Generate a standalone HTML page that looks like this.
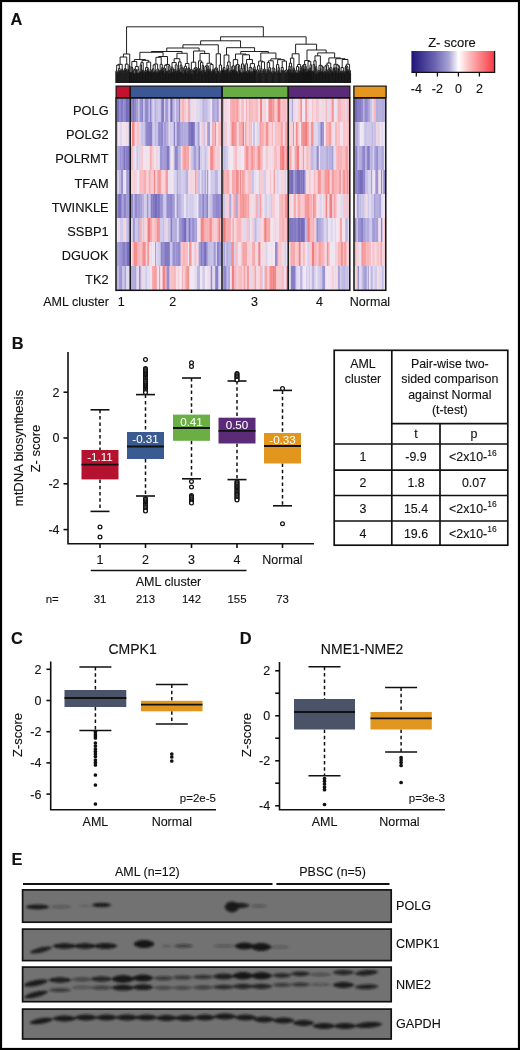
<!DOCTYPE html>
<html><head><meta charset="utf-8"><style>
html,body{margin:0;padding:0;background:#fff;}
svg{display:block;will-change:transform;filter:blur(0.35px);}
text{font-family:"Liberation Sans",sans-serif;stroke:#111;stroke-width:0.12px;}
</style></head><body>
<svg width="520" height="1050" viewBox="0 0 520 1050">
<rect x="0" y="0" width="520" height="1050" fill="#fff"/><g fill="#111">
<path d="M115.85 83.00L115.85 71.50M116.34 83.00L116.34 71.50M115.85 71.50L116.34 71.50M116.10 71.50L116.10 70.63M116.84 83.00L116.84 72.47M117.34 83.00L117.34 73.27M117.83 83.00L117.83 73.27M117.34 73.27L117.83 73.27M117.59 73.27L117.59 72.47M116.84 72.47L117.59 72.47M117.21 72.47L117.21 70.63M116.10 70.63L117.21 70.63M116.65 70.63L116.65 65.13M118.33 83.00L118.33 71.65M118.83 83.00L118.83 71.65M118.33 71.65L118.83 71.65M118.58 71.65L118.58 68.44M119.32 83.00L119.32 71.35M119.82 83.00L119.82 71.35M119.32 71.35L119.82 71.35M119.57 71.35L119.57 70.55M120.31 83.00L120.31 71.35M120.81 83.00L120.81 71.35M120.31 71.35L120.81 71.35M120.56 71.35L120.56 70.55M119.57 70.55L120.56 70.55M120.07 70.55L120.07 68.44M118.58 68.44L120.07 68.44M119.32 68.44L119.32 65.13M116.65 65.13L119.32 65.13M117.99 65.13L117.99 64.33M121.31 83.00L121.31 70.16M121.80 83.00L121.80 70.16M121.31 70.16L121.80 70.16M121.56 70.16L121.56 69.32M122.30 83.00L122.30 70.52M122.80 83.00L122.80 72.40M123.29 83.00L123.29 72.40M122.80 72.40L123.29 72.40M123.04 72.40L123.04 71.32M123.79 83.00L123.79 71.32M123.04 71.32L123.79 71.32M123.42 71.32L123.42 70.52M122.30 70.52L123.42 70.52M122.86 70.52L122.86 69.32M121.56 69.32L122.86 69.32M122.21 69.32L122.21 64.33M117.99 64.33L122.21 64.33M120.10 64.33L120.10 57.00M124.29 83.00L124.29 72.74M124.78 83.00L124.78 72.74M124.29 72.74L124.78 72.74M124.53 72.74L124.53 68.73M125.28 83.00L125.28 70.84M125.77 83.00L125.77 70.84M125.28 70.84L125.77 70.84M125.53 70.84L125.53 69.53M126.27 83.00L126.27 70.63M126.77 83.00L126.77 71.43M127.26 83.00L127.26 71.43M126.77 71.43L127.26 71.43M127.01 71.43L127.01 70.63M126.27 70.63L127.01 70.63M126.64 70.63L126.64 69.53M125.53 69.53L126.64 69.53M126.08 69.53L126.08 68.73M124.53 68.73L126.08 68.73M125.31 68.73L125.31 64.16M127.76 83.00L127.76 69.16M128.26 83.00L128.26 73.22M128.75 83.00L128.75 73.22M128.26 73.22L128.75 73.22M128.50 73.22L128.50 69.16M127.76 69.16L128.50 69.16M128.13 69.16L128.13 64.16M125.31 64.16L128.13 64.16M126.72 64.16L126.72 57.00M120.10 57.00L126.72 57.00M129.18 83.00L129.18 72.26M129.53 83.00L129.53 72.26M129.18 72.26L129.53 72.26M129.35 72.26L129.35 66.00M129.88 83.00L129.88 72.50M130.22 83.00L130.22 72.50M129.88 72.50L130.22 72.50M130.05 72.50L130.05 66.00M129.35 66.00L130.05 66.00M123.41 57.00L123.41 54.00M129.70 66.00L129.70 54.00M123.41 54.00L129.70 54.00M130.61 83.00L130.61 72.84M131.04 83.00L131.04 72.84M130.61 72.84L131.04 72.84M130.83 72.84L130.83 72.04M131.46 83.00L131.46 72.04M130.83 72.04L131.46 72.04M131.15 72.04L131.15 67.25M131.89 83.00L131.89 73.17M132.32 83.00L132.32 73.17M131.89 73.17L132.32 73.17M132.10 73.17L132.10 68.05M132.74 83.00L132.74 70.28M133.17 83.00L133.17 70.28M132.74 70.28L133.17 70.28M132.95 70.28L132.95 68.05M132.10 68.05L132.95 68.05M132.53 68.05L132.53 67.25M131.15 67.25L132.53 67.25M131.84 67.25L131.84 61.52M133.59 83.00L133.59 72.95M134.02 83.00L134.02 73.75M134.44 83.00L134.44 73.75M134.02 73.75L134.44 73.75M134.23 73.75L134.23 72.95M133.59 72.95L134.23 72.95M133.91 72.95L133.91 69.81M134.87 83.00L134.87 73.78M135.30 83.00L135.30 73.78M134.87 73.78L135.30 73.78M135.08 73.78L135.08 69.81M133.91 69.81L135.08 69.81M134.50 69.81L134.50 69.01M135.72 83.00L135.72 69.81M136.15 83.00L136.15 72.38M136.57 83.00L136.57 73.18M137.00 83.00L137.00 73.18M136.57 73.18L137.00 73.18M136.79 73.18L136.79 72.38M136.15 72.38L136.79 72.38M136.47 72.38L136.47 69.81M135.72 69.81L136.47 69.81M136.09 69.81L136.09 69.01M134.50 69.01L136.09 69.01M135.30 69.01L135.30 66.56M137.42 83.00L137.42 72.89M137.85 83.00L137.85 73.69M138.28 83.00L138.28 73.69M137.85 73.69L138.28 73.69M138.06 73.69L138.06 72.89M137.42 72.89L138.06 72.89M137.74 72.89L137.74 69.55M138.70 83.00L138.70 72.93M139.13 83.00L139.13 72.93M138.70 72.93L139.13 72.93M138.91 72.93L138.91 69.55M137.74 69.55L138.91 69.55M138.33 69.55L138.33 66.56M135.30 66.56L138.33 66.56M136.81 66.56L136.81 61.52M131.84 61.52L136.81 61.52M134.32 61.52L134.32 59.52M139.55 83.00L139.55 72.43M139.98 83.00L139.98 72.43M139.55 72.43L139.98 72.43M139.77 72.43L139.77 71.63M140.40 83.00L140.40 72.43M140.83 83.00L140.83 72.43M140.40 72.43L140.83 72.43M140.62 72.43L140.62 71.63M139.77 71.63L140.62 71.63M140.19 71.63L140.19 64.88M141.26 83.00L141.26 68.94M141.68 83.00L141.68 71.12M142.11 83.00L142.11 71.12M141.68 71.12L142.11 71.12M141.89 71.12L141.89 68.94M141.26 68.94L141.89 68.94M141.58 68.94L141.58 64.88M140.19 64.88L141.58 64.88M140.88 64.88L140.88 62.67M142.53 83.00L142.53 70.97M142.96 83.00L142.96 70.97M142.53 70.97L142.96 70.97M142.75 70.97L142.75 70.17M143.38 83.00L143.38 72.59M143.81 83.00L143.81 73.39M144.24 83.00L144.24 73.39M143.81 73.39L144.24 73.39M144.02 73.39L144.02 72.59M143.38 72.59L144.02 72.59M143.70 72.59L143.70 70.17M142.75 70.17L143.70 70.17M143.22 70.17L143.22 62.67M140.88 62.67L143.22 62.67M142.05 62.67L142.05 60.32M144.66 83.00L144.66 71.28M145.09 83.00L145.09 72.08M145.51 83.00L145.51 72.08M145.09 72.08L145.51 72.08M145.30 72.08L145.30 71.28M144.66 71.28L145.30 71.28M144.98 71.28L144.98 70.48M145.94 83.00L145.94 72.14M146.36 83.00L146.36 72.14M145.94 72.14L146.36 72.14M146.15 72.14L146.15 70.48M144.98 70.48L146.15 70.48M145.57 70.48L145.57 67.62M146.79 83.00L146.79 71.23M147.22 83.00L147.22 71.23M146.79 71.23L147.22 71.23M147.00 71.23L147.00 69.59M147.64 83.00L147.64 70.56M148.07 83.00L148.07 70.56M147.64 70.56L148.07 70.56M147.85 70.56L147.85 69.59M147.00 69.59L147.85 69.59M147.43 69.59L147.43 68.79M148.49 83.00L148.49 71.19M148.92 83.00L148.92 72.04M149.34 83.00L149.34 72.04M148.92 72.04L149.34 72.04M149.13 72.04L149.13 71.19M148.49 71.19L149.13 71.19M148.81 71.19L148.81 68.79M147.43 68.79L148.81 68.79M148.12 68.79L148.12 67.62M145.57 67.62L148.12 67.62M146.84 67.62L146.84 62.05M149.77 83.00L149.77 71.75M150.20 83.00L150.20 72.55M150.62 83.00L150.62 72.55M150.20 72.55L150.62 72.55M150.41 72.55L150.41 71.75M149.77 71.75L150.41 71.75M150.09 71.75L150.09 69.71M151.05 83.00L151.05 70.51M151.47 83.00L151.47 70.51M151.05 70.51L151.47 70.51M151.26 70.51L151.26 69.71M150.09 69.71L151.26 69.71M150.67 69.71L150.67 62.05M146.84 62.05L150.67 62.05M148.76 62.05L148.76 60.32M142.05 60.32L148.76 60.32M145.41 60.32L145.41 59.52M134.32 59.52L145.41 59.52M139.87 59.52L139.87 52.30M151.90 83.00L151.90 72.53M152.32 83.00L152.32 72.53M151.90 72.53L152.32 72.53M152.11 72.53L152.11 71.73M152.75 83.00L152.75 72.53M153.18 83.00L153.18 72.53M152.75 72.53L153.18 72.53M152.96 72.53L152.96 71.73M152.11 71.73L152.96 71.73M152.54 71.73L152.54 68.75M153.60 83.00L153.60 72.82M154.03 83.00L154.03 72.82M153.60 72.82L154.03 72.82M153.81 72.82L153.81 68.75M152.54 68.75L153.81 68.75M153.18 68.75L153.18 64.85M154.45 83.00L154.45 71.50M154.88 83.00L154.88 71.50M154.45 71.50L154.88 71.50M154.67 71.50L154.67 70.59M155.30 83.00L155.30 72.81M155.73 83.00L155.73 72.81M155.30 72.81L155.73 72.81M155.52 72.81L155.52 71.39M156.16 83.00L156.16 71.39M155.52 71.39L156.16 71.39M155.84 71.39L155.84 70.59M154.67 70.59L155.84 70.59M155.25 70.59L155.25 64.85M153.18 64.85L155.25 64.85M154.21 64.85L154.21 64.05M156.58 83.00L156.58 72.35M157.01 83.00L157.01 73.15M157.43 83.00L157.43 73.15M157.01 73.15L157.43 73.15M157.22 73.15L157.22 72.35M156.58 72.35L157.22 72.35M156.90 72.35L156.90 69.09M157.86 83.00L157.86 71.23M158.28 83.00L158.28 71.23M157.86 71.23L158.28 71.23M158.07 71.23L158.07 69.89M158.71 83.00L158.71 69.89M158.07 69.89L158.71 69.89M158.39 69.89L158.39 69.09M156.90 69.09L158.39 69.09M157.65 69.09L157.65 64.05M154.21 64.05L157.65 64.05M155.93 64.05L155.93 57.30M159.14 83.00L159.14 72.01M159.56 83.00L159.56 72.01M159.14 72.01L159.56 72.01M159.35 72.01L159.35 71.21M159.99 83.00L159.99 71.21M159.35 71.21L159.99 71.21M159.67 71.21L159.67 70.41M160.41 83.00L160.41 71.30M160.84 83.00L160.84 71.30M160.41 71.30L160.84 71.30M160.63 71.30L160.63 70.41M159.67 70.41L160.63 70.41M160.15 70.41L160.15 64.34M161.26 83.00L161.26 70.52M161.69 83.00L161.69 70.52M161.26 70.52L161.69 70.52M161.48 70.52L161.48 68.93M162.12 83.00L162.12 68.93M161.48 68.93L162.12 68.93M161.80 68.93L161.80 67.40M162.54 83.00L162.54 70.72M162.97 83.00L162.97 70.72M162.54 70.72L162.97 70.72M162.75 70.72L162.75 67.40M161.80 67.40L162.75 67.40M162.28 67.40L162.28 64.34M160.15 64.34L162.28 64.34M161.21 64.34L161.21 57.30M155.93 57.30L161.21 57.30M158.57 57.30L158.57 56.50M163.39 83.00L163.39 70.65M163.82 83.00L163.82 70.65M163.39 70.65L163.82 70.65M163.61 70.65L163.61 67.97M164.24 83.00L164.24 73.66M164.67 83.00L164.67 73.66M164.24 73.66L164.67 73.66M164.46 73.66L164.46 72.86M165.10 83.00L165.10 72.86M164.46 72.86L165.10 72.86M164.78 72.86L164.78 68.77M165.52 83.00L165.52 68.77M164.78 68.77L165.52 68.77M165.15 68.77L165.15 67.97M163.61 67.97L165.15 67.97M164.38 67.97L164.38 65.26M165.95 83.00L165.95 72.67M166.37 83.00L166.37 72.67M165.95 72.67L166.37 72.67M166.16 72.67L166.16 71.87M166.80 83.00L166.80 71.87M166.16 71.87L166.80 71.87M166.48 71.87L166.48 71.07M167.22 83.00L167.22 72.09M167.65 83.00L167.65 72.09M167.22 72.09L167.65 72.09M167.44 72.09L167.44 71.07M166.48 71.07L167.44 71.07M166.96 71.07L166.96 65.26M164.38 65.26L166.96 65.26M165.67 65.26L165.67 64.46M168.08 83.00L168.08 73.51M168.50 83.00L168.50 73.51M168.08 73.51L168.50 73.51M168.29 73.51L168.29 69.86M168.93 83.00L168.93 70.79M169.35 83.00L169.35 70.79M168.93 70.79L169.35 70.79M169.14 70.79L169.14 69.86M168.29 69.86L169.14 69.86M168.71 69.86L168.71 65.66M169.78 83.00L169.78 74.00M170.20 83.00L170.20 74.00M169.78 74.00L170.20 74.00M169.99 74.00L169.99 65.66M168.71 65.66L169.99 65.66M169.35 65.66L169.35 64.46M165.67 64.46L169.35 64.46M167.51 64.46L167.51 56.50M158.57 56.50L167.51 56.50M163.04 56.50L163.04 52.30M139.87 52.30L163.04 52.30M151.45 52.30L151.45 51.50M170.63 83.00L170.63 72.81M171.06 83.00L171.06 72.81M170.63 72.81L171.06 72.81M170.84 72.81L170.84 68.92M171.48 83.00L171.48 68.92M170.84 68.92L171.48 68.92M171.16 68.92L171.16 67.23M171.91 83.00L171.91 72.25M172.33 83.00L172.33 73.05M172.76 83.00L172.76 73.05M172.33 73.05L172.76 73.05M172.55 73.05L172.55 72.25M171.91 72.25L172.55 72.25M172.23 72.25L172.23 68.74M173.18 83.00L173.18 71.28M173.61 83.00L173.61 72.08M174.04 83.00L174.04 72.08M173.61 72.08L174.04 72.08M173.82 72.08L173.82 71.28M173.18 71.28L173.82 71.28M173.50 71.28L173.50 68.74M172.23 68.74L173.50 68.74M172.87 68.74L172.87 67.23M171.16 67.23L172.87 67.23M172.01 67.23L172.01 62.57M174.46 83.00L174.46 71.34M174.89 83.00L174.89 71.34M174.46 71.34L174.89 71.34M174.67 71.34L174.67 69.26M175.31 83.00L175.31 73.69M175.74 83.00L175.74 73.69M175.31 73.69L175.74 73.69M175.53 73.69L175.53 70.50M176.16 83.00L176.16 70.50M175.53 70.50L176.16 70.50M175.84 70.50L175.84 69.26M174.67 69.26L175.84 69.26M175.26 69.26L175.26 64.88M176.59 83.00L176.59 72.56M177.02 83.00L177.02 72.56M176.59 72.56L177.02 72.56M176.80 72.56L176.80 70.87M177.44 83.00L177.44 70.87M176.80 70.87L177.44 70.87M177.12 70.87L177.12 64.88M175.26 64.88L177.12 64.88M176.19 64.88L176.19 62.57M172.01 62.57L176.19 62.57M174.10 62.57L174.10 58.68M177.87 83.00L177.87 72.81M178.29 83.00L178.29 72.81M177.87 72.81L178.29 72.81M178.08 72.81L178.08 68.46M178.72 83.00L178.72 69.26M179.14 83.00L179.14 70.83M179.57 83.00L179.57 70.83M179.14 70.83L179.57 70.83M179.36 70.83L179.36 69.26M178.72 69.26L179.36 69.26M179.04 69.26L179.04 68.46M178.08 68.46L179.04 68.46M178.56 68.46L178.56 61.89M180.00 83.00L180.00 72.00M180.42 83.00L180.42 72.00M180.00 72.00L180.42 72.00M180.21 72.00L180.21 65.14M180.85 83.00L180.85 72.71M181.27 83.00L181.27 72.71M180.85 72.71L181.27 72.71M181.06 72.71L181.06 71.91M181.70 83.00L181.70 71.91M181.06 71.91L181.70 71.91M181.38 71.91L181.38 67.11M182.12 83.00L182.12 73.24M182.55 83.00L182.55 73.24M182.12 73.24L182.55 73.24M182.34 73.24L182.34 67.11M181.38 67.11L182.34 67.11M181.86 67.11L181.86 65.14M180.21 65.14L181.86 65.14M181.03 65.14L181.03 61.89M178.56 61.89L181.03 61.89M179.80 61.89L179.80 58.68M174.10 58.68L179.80 58.68M176.95 58.68L176.95 53.28M182.98 83.00L182.98 73.89M183.40 83.00L183.40 73.89M182.98 73.89L183.40 73.89M183.19 73.89L183.19 70.48M183.83 83.00L183.83 72.67M184.25 83.00L184.25 72.67M183.83 72.67L184.25 72.67M184.04 72.67L184.04 70.48M183.19 70.48L184.04 70.48M183.61 70.48L183.61 67.96M184.68 83.00L184.68 69.24M185.10 83.00L185.10 70.20M185.53 83.00L185.53 70.20M185.10 70.20L185.53 70.20M185.32 70.20L185.32 69.24M184.68 69.24L185.32 69.24M185.00 69.24L185.00 67.96M183.61 67.96L185.00 67.96M184.31 67.96L184.31 66.30M185.96 83.00L185.96 73.26M186.38 83.00L186.38 73.26M185.96 73.26L186.38 73.26M186.17 73.26L186.17 68.35M186.81 83.00L186.81 72.59M187.23 83.00L187.23 72.59M186.81 72.59L187.23 72.59M187.02 72.59L187.02 68.35M186.17 68.35L187.02 68.35M186.59 68.35L186.59 66.30M184.31 66.30L186.59 66.30M185.45 66.30L185.45 63.49M187.66 83.00L187.66 70.95M188.08 83.00L188.08 70.95M187.66 70.95L188.08 70.95M187.87 70.95L187.87 68.66M188.51 83.00L188.51 73.99M188.94 83.00L188.94 73.99M188.51 73.99L188.94 73.99M188.72 73.99L188.72 68.66M187.87 68.66L188.72 68.66M188.30 68.66L188.30 67.86M189.36 83.00L189.36 70.48M189.79 83.00L189.79 70.48M189.36 70.48L189.79 70.48M189.57 70.48L189.57 67.86M188.30 67.86L189.57 67.86M188.94 67.86L188.94 63.49M185.45 63.49L188.94 63.49M187.19 63.49L187.19 53.28M176.95 53.28L187.19 53.28M182.07 53.28L182.07 51.50M151.45 51.50L182.07 51.50M190.22 83.00L190.22 70.25M190.65 83.00L190.65 71.05M191.09 83.00L191.09 71.05M190.65 71.05L191.09 71.05M190.87 71.05L190.87 70.25M190.22 70.25L190.87 70.25M190.55 70.25L190.55 69.45M191.53 83.00L191.53 74.03M191.96 83.00L191.96 74.03M191.53 74.03L191.96 74.03M191.75 74.03L191.75 70.25M192.40 83.00L192.40 73.67M192.84 83.00L192.84 73.67M192.40 73.67L192.84 73.67M192.62 73.67L192.62 70.25M191.75 70.25L192.62 70.25M192.18 70.25L192.18 69.45M190.55 69.45L192.18 69.45M191.36 69.45L191.36 62.20M193.27 83.00L193.27 73.77M193.71 83.00L193.71 73.77M193.27 73.77L193.71 73.77M193.49 73.77L193.49 70.28M194.15 83.00L194.15 71.08M194.58 83.00L194.58 71.08M194.15 71.08L194.58 71.08M194.36 71.08L194.36 70.28M193.49 70.28L194.36 70.28M193.93 70.28L193.93 68.43M195.02 83.00L195.02 69.23M195.45 83.00L195.45 70.62M195.89 83.00L195.89 70.62M195.45 70.62L195.89 70.62M195.67 70.62L195.67 69.23M195.02 69.23L195.67 69.23M195.35 69.23L195.35 68.43M193.93 68.43L195.35 68.43M194.64 68.43L194.64 67.63M196.33 83.00L196.33 73.89M196.76 83.00L196.76 73.89M196.33 73.89L196.76 73.89M196.55 73.89L196.55 69.06M197.20 83.00L197.20 69.06M196.55 69.06L197.20 69.06M196.87 69.06L196.87 67.63M194.64 67.63L196.87 67.63M195.75 67.63L195.75 62.20M191.36 62.20L195.75 62.20M193.56 62.20L193.56 51.00M197.64 83.00L197.64 73.64M198.07 83.00L198.07 73.64M197.64 73.64L198.07 73.64M197.85 73.64L197.85 68.05M198.51 83.00L198.51 71.10M198.95 83.00L198.95 71.10M198.51 71.10L198.95 71.10M198.73 71.10L198.73 68.85M199.38 83.00L199.38 68.85M198.73 68.85L199.38 68.85M199.05 68.85L199.05 68.05M197.85 68.05L199.05 68.05M198.45 68.05L198.45 60.93M199.82 83.00L199.82 72.67M200.25 83.00L200.25 72.67M199.82 72.67L200.25 72.67M200.04 72.67L200.04 68.79M200.69 83.00L200.69 70.98M201.13 83.00L201.13 70.98M200.69 70.98L201.13 70.98M200.91 70.98L200.91 68.79M200.04 68.79L200.91 68.79M200.47 68.79L200.47 62.34M201.56 83.00L201.56 71.41M202.00 83.00L202.00 71.41M201.56 71.41L202.00 71.41M201.78 71.41L201.78 70.61M202.44 83.00L202.44 73.91M202.87 83.00L202.87 73.91M202.44 73.91L202.87 73.91M202.65 73.91L202.65 70.61M201.78 70.61L202.65 70.61M202.22 70.61L202.22 65.44M203.31 83.00L203.31 73.48M203.75 83.00L203.75 73.48M203.31 73.48L203.75 73.48M203.53 73.48L203.53 65.44M202.22 65.44L203.53 65.44M202.87 65.44L202.87 62.34M200.47 62.34L202.87 62.34M201.67 62.34L201.67 60.93M198.45 60.93L201.67 60.93M200.06 60.93L200.06 53.44M204.18 83.00L204.18 71.44M204.62 83.00L204.62 71.44M204.18 71.44L204.62 71.44M204.40 71.44L204.40 70.28M205.05 83.00L205.05 72.05M205.49 83.00L205.49 72.05M205.05 72.05L205.49 72.05M205.27 72.05L205.27 70.28M204.40 70.28L205.27 70.28M204.84 70.28L204.84 66.57M205.93 83.00L205.93 73.40M206.36 83.00L206.36 73.40M205.93 73.40L206.36 73.40M206.15 73.40L206.15 72.33M206.80 83.00L206.80 72.33M206.15 72.33L206.80 72.33M206.47 72.33L206.47 66.57M204.84 66.57L206.47 66.57M205.65 66.57L205.65 65.77M207.24 83.00L207.24 72.44M207.67 83.00L207.67 72.44M207.24 72.44L207.67 72.44M207.45 72.44L207.45 68.87M208.11 83.00L208.11 68.87M207.45 68.87L208.11 68.87M207.78 68.87L207.78 66.57M208.55 83.00L208.55 70.77M208.98 83.00L208.98 70.77M208.55 70.77L208.98 70.77M208.76 70.77L208.76 66.57M207.78 66.57L208.76 66.57M208.27 66.57L208.27 65.77M205.65 65.77L208.27 65.77M206.96 65.77L206.96 63.23M209.42 83.00L209.42 71.92M209.85 83.00L209.85 71.92M209.42 71.92L209.85 71.92M209.64 71.92L209.64 68.98M210.29 83.00L210.29 70.54M210.73 83.00L210.73 71.34M211.16 83.00L211.16 73.59M211.60 83.00L211.60 73.59M211.16 73.59L211.60 73.59M211.38 73.59L211.38 71.34M210.73 71.34L211.38 71.34M211.05 71.34L211.05 70.54M210.29 70.54L211.05 70.54M210.67 70.54L210.67 68.98M209.64 68.98L210.67 68.98M210.15 68.98L210.15 64.58M212.04 83.00L212.04 72.29M212.47 83.00L212.47 72.29M212.04 72.29L212.47 72.29M212.25 72.29L212.25 70.86M212.91 83.00L212.91 70.86M212.25 70.86L212.91 70.86M212.58 70.86L212.58 69.39M213.35 83.00L213.35 70.57M213.78 83.00L213.78 70.57M213.35 70.57L213.78 70.57M213.56 70.57L213.56 69.39M212.58 69.39L213.56 69.39M213.07 69.39L213.07 64.58M210.15 64.58L213.07 64.58M211.61 64.58L211.61 63.23M206.96 63.23L211.61 63.23M209.29 63.23L209.29 53.44M200.06 53.44L209.29 53.44M204.68 53.44L204.68 51.00M193.56 51.00L204.68 51.00M166.76 51.50L166.76 48.00M199.12 51.00L199.12 48.00M166.76 48.00L199.12 48.00M214.23 83.00L214.23 70.88M214.68 83.00L214.68 71.72M215.14 83.00L215.14 71.72M214.68 71.72L215.14 71.72M214.91 71.72L214.91 70.88M214.23 70.88L214.91 70.88M214.57 70.88L214.57 68.73M215.59 83.00L215.59 73.25M216.05 83.00L216.05 73.25M215.59 73.25L216.05 73.25M215.82 73.25L215.82 68.73M214.57 68.73L215.82 68.73M215.20 68.73L215.20 67.93M216.51 83.00L216.51 73.89M216.96 83.00L216.96 73.89M216.51 73.89L216.96 73.89M216.73 73.89L216.73 68.73M217.42 83.00L217.42 70.71M217.87 83.00L217.87 70.71M217.42 70.71L217.87 70.71M217.64 70.71L217.64 68.73M216.73 68.73L217.64 68.73M217.19 68.73L217.19 67.93M215.20 67.93L217.19 67.93M216.19 67.93L216.19 53.80M218.33 83.00L218.33 71.73M218.78 83.00L218.78 72.53M219.24 83.00L219.24 72.53M218.78 72.53L219.24 72.53M219.01 72.53L219.01 71.73M218.33 71.73L219.01 71.73M218.67 71.73L218.67 70.93M219.69 83.00L219.69 73.17M220.15 83.00L220.15 73.17M219.69 73.17L220.15 73.17M219.92 73.17L219.92 70.93M218.67 70.93L219.92 70.93M219.30 70.93L219.30 65.04M220.61 83.00L220.61 72.69M221.06 83.00L221.06 72.69M220.61 72.69L221.06 72.69M220.83 72.69L220.83 70.98M221.52 83.00L221.52 70.98M220.83 70.98L221.52 70.98M221.17 70.98L221.17 70.18M221.97 83.00L221.97 70.18M221.17 70.18L221.97 70.18M221.57 70.18L221.57 65.04M219.30 65.04L221.57 65.04M220.43 65.04L220.43 53.80M216.19 53.80L220.43 53.80M182.94 48.00L182.94 44.80M218.31 53.80L218.31 44.80M182.94 44.80L218.31 44.80M222.40 83.00L222.40 70.99M222.80 83.00L222.80 70.99M222.40 70.99L222.80 70.99M222.60 70.99L222.60 70.19M223.20 83.00L223.20 70.19M222.60 70.19L223.20 70.19M222.90 70.19L222.90 68.40M223.60 83.00L223.60 68.40M222.90 68.40L223.60 68.40M223.25 68.40L223.25 67.60M224.00 83.00L224.00 71.09M224.40 83.00L224.40 71.89M224.80 83.00L224.80 71.89M224.40 71.89L224.80 71.89M224.60 71.89L224.60 71.09M224.00 71.09L224.60 71.09M224.30 71.09L224.30 70.29M225.20 83.00L225.20 73.72M225.60 83.00L225.60 73.72M225.20 73.72L225.60 73.72M225.40 73.72L225.40 71.09M226.00 83.00L226.00 71.09M225.40 71.09L226.00 71.09M225.70 71.09L225.70 70.29M224.30 70.29L225.70 70.29M225.00 70.29L225.00 67.60M223.25 67.60L225.00 67.60M224.12 67.60L224.12 55.00M226.40 83.00L226.40 71.82M226.80 83.00L226.80 71.82M226.40 71.82L226.80 71.82M226.60 71.82L226.60 69.43M227.20 83.00L227.20 69.43M226.60 69.43L227.20 69.43M226.90 69.43L226.90 65.34M227.60 83.00L227.60 69.13M228.00 83.00L228.00 73.20M228.40 83.00L228.40 73.20M228.00 73.20L228.40 73.20M228.20 73.20L228.20 69.13M227.60 69.13L228.20 69.13M227.90 69.13L227.90 68.26M228.80 83.00L228.80 68.26M227.90 68.26L228.80 68.26M228.35 68.26L228.35 65.34M226.90 65.34L228.35 65.34M227.62 65.34L227.62 61.99M229.20 83.00L229.20 73.24M229.60 83.00L229.60 73.24M229.20 73.24L229.60 73.24M229.40 73.24L229.40 72.44M230.00 83.00L230.00 72.44M229.40 72.44L230.00 72.44M229.70 72.44L229.70 70.76M230.40 83.00L230.40 71.87M230.80 83.00L230.80 71.87M230.40 71.87L230.80 71.87M230.60 71.87L230.60 70.76M229.70 70.76L230.60 70.76M230.15 70.76L230.15 61.99M227.62 61.99L230.15 61.99M228.89 61.99L228.89 55.00M224.12 55.00L228.89 55.00M231.21 83.00L231.21 72.71M231.62 83.00L231.62 72.71M231.21 72.71L231.62 72.71M231.42 72.71L231.42 69.95M232.04 83.00L232.04 69.95M231.42 69.95L232.04 69.95M231.73 69.95L231.73 66.70M232.46 83.00L232.46 70.28M232.88 83.00L232.88 71.18M233.29 83.00L233.29 71.18M232.88 71.18L233.29 71.18M233.08 71.18L233.08 70.28M232.46 70.28L233.08 70.28M232.77 70.28L232.77 66.70M231.73 66.70L232.77 66.70M232.25 66.70L232.25 65.90M233.71 83.00L233.71 70.11M234.12 83.00L234.12 70.11M233.71 70.11L234.12 70.11M233.92 70.11L233.92 69.25M234.54 83.00L234.54 70.35M234.96 83.00L234.96 70.35M234.54 70.35L234.96 70.35M234.75 70.35L234.75 69.25M233.92 69.25L234.75 69.25M234.33 69.25L234.33 65.90M232.25 65.90L234.33 65.90M233.29 65.90L233.29 59.62M235.38 83.00L235.38 72.58M235.79 83.00L235.79 72.58M235.38 72.58L235.79 72.58M235.58 72.58L235.58 65.44M236.21 83.00L236.21 72.03M236.62 83.00L236.62 72.03M236.21 72.03L236.62 72.03M236.42 72.03L236.42 71.23M237.04 83.00L237.04 72.55M237.46 83.00L237.46 72.55M237.04 72.55L237.46 72.55M237.25 72.55L237.25 71.23M236.42 71.23L237.25 71.23M236.83 71.23L236.83 65.44M235.58 65.44L236.83 65.44M236.21 65.44L236.21 64.64M237.88 83.00L237.88 73.93M238.29 83.00L238.29 73.93M237.88 73.93L238.29 73.93M238.08 73.93L238.08 71.80M238.71 83.00L238.71 73.77M239.12 83.00L239.12 73.77M238.71 73.77L239.12 73.77M238.92 73.77L238.92 71.80M238.08 71.80L238.92 71.80M238.50 71.80L238.50 65.63M239.54 83.00L239.54 70.24M239.96 83.00L239.96 70.24M239.54 70.24L239.96 70.24M239.75 70.24L239.75 65.63M238.50 65.63L239.75 65.63M239.12 65.63L239.12 64.64M236.21 64.64L239.12 64.64M237.67 64.64L237.67 59.62M233.29 59.62L237.67 59.62M235.48 59.62L235.48 54.00M240.38 83.00L240.38 72.62M240.79 83.00L240.79 72.62M240.38 72.62L240.79 72.62M240.58 72.62L240.58 71.82M241.21 83.00L241.21 71.82M240.58 71.82L241.21 71.82M240.90 71.82L240.90 68.43M241.62 83.00L241.62 73.77M242.04 83.00L242.04 73.77M241.62 73.77L242.04 73.77M241.83 73.77L241.83 72.97M242.46 83.00L242.46 72.97M241.83 72.97L242.46 72.97M242.15 72.97L242.15 68.43M240.90 68.43L242.15 68.43M241.52 68.43L241.52 63.98M242.88 83.00L242.88 71.65M243.29 83.00L243.29 73.65M243.71 83.00L243.71 73.65M243.29 73.65L243.71 73.65M243.50 73.65L243.50 71.65M242.88 71.65L243.50 71.65M243.19 71.65L243.19 65.41M244.12 83.00L244.12 71.89M244.54 83.00L244.54 72.69M244.96 83.00L244.96 72.69M244.54 72.69L244.96 72.69M244.75 72.69L244.75 71.89M244.12 71.89L244.75 71.89M244.44 71.89L244.44 65.41M243.19 65.41L244.44 65.41M243.81 65.41L243.81 63.98M241.52 63.98L243.81 63.98M242.67 63.98L242.67 54.80M245.38 83.00L245.38 71.39M245.79 83.00L245.79 73.17M246.21 83.00L246.21 73.17M245.79 73.17L246.21 73.17M246.00 73.17L246.00 71.39M245.38 71.39L246.00 71.39M245.69 71.39L245.69 63.78M246.62 83.00L246.62 71.67M247.04 83.00L247.04 71.67M246.62 71.67L247.04 71.67M246.83 71.67L246.83 70.87M247.46 83.00L247.46 73.77M247.88 83.00L247.88 73.77M247.46 73.77L247.88 73.77M247.67 73.77L247.67 72.55M248.29 83.00L248.29 72.55M247.67 72.55L248.29 72.55M247.98 72.55L247.98 70.87M246.83 70.87L247.98 70.87M247.41 70.87L247.41 63.78M245.69 63.78L247.41 63.78M246.55 63.78L246.55 59.48M248.71 83.00L248.71 70.18M249.12 83.00L249.12 71.78M249.54 83.00L249.54 71.78M249.12 71.78L249.54 71.78M249.33 71.78L249.33 70.98M249.96 83.00L249.96 70.98M249.33 70.98L249.96 70.98M249.65 70.98L249.65 70.18M248.71 70.18L249.65 70.18M249.18 70.18L249.18 67.35M250.38 83.00L250.38 73.25M250.79 83.00L250.79 73.25M250.38 73.25L250.79 73.25M250.58 73.25L250.58 72.45M251.21 83.00L251.21 72.45M250.58 72.45L251.21 72.45M250.90 72.45L250.90 68.15M251.62 83.00L251.62 71.31M252.04 83.00L252.04 73.90M252.46 83.00L252.46 73.90M252.04 73.90L252.46 73.90M252.25 73.90L252.25 72.50M252.88 83.00L252.88 72.50M252.25 72.50L252.88 72.50M252.56 72.50L252.56 71.31M251.62 71.31L252.56 71.31M252.09 71.31L252.09 68.15M250.90 68.15L252.09 68.15M251.49 68.15L251.49 67.35M249.18 67.35L251.49 67.35M250.34 67.35L250.34 63.61M253.29 83.00L253.29 71.43M253.71 83.00L253.71 71.43M253.29 71.43L253.71 71.43M253.50 71.43L253.50 69.02M254.12 83.00L254.12 69.02M253.50 69.02L254.12 69.02M253.81 69.02L253.81 66.84M254.54 83.00L254.54 71.08M254.96 83.00L254.96 71.08M254.54 71.08L254.96 71.08M254.75 71.08L254.75 69.44M255.38 83.00L255.38 70.80M255.79 83.00L255.79 70.80M255.38 70.80L255.79 70.80M255.58 70.80L255.58 69.44M254.75 69.44L255.58 69.44M255.17 69.44L255.17 66.84M253.81 66.84L255.17 66.84M254.49 66.84L254.49 63.61M250.34 63.61L254.49 63.61M252.41 63.61L252.41 59.48M246.55 59.48L252.41 59.48M249.48 59.48L249.48 54.80M242.67 54.80L249.48 54.80M246.07 54.80L246.07 54.00M235.48 54.00L246.07 54.00M256.27 83.00L256.27 73.69M256.81 83.00L256.81 73.69M256.27 73.69L256.81 73.69M256.54 73.69L256.54 69.85M257.35 83.00L257.35 73.99M257.89 83.00L257.89 73.99M257.35 73.99L257.89 73.99M257.62 73.99L257.62 71.45M258.43 83.00L258.43 71.45M257.62 71.45L258.43 71.45M258.02 71.45L258.02 70.65M258.97 83.00L258.97 70.65M258.02 70.65L258.97 70.65M258.50 70.65L258.50 69.85M256.54 69.85L258.50 69.85M257.52 69.85L257.52 65.75M259.51 83.00L259.51 72.91M260.05 83.00L260.05 72.91M259.51 72.91L260.05 72.91M259.78 72.91L259.78 65.75M257.52 65.75L259.78 65.75M258.65 65.75L258.65 61.12M260.59 83.00L260.59 70.37M261.13 83.00L261.13 70.37M260.59 70.37L261.13 70.37M260.86 70.37L260.86 68.31M261.67 83.00L261.67 73.04M262.21 83.00L262.21 73.04M261.67 73.04L262.21 73.04M261.94 73.04L261.94 68.31M260.86 68.31L261.94 68.31M261.40 68.31L261.40 61.92M262.75 83.00L262.75 70.68M263.29 83.00L263.29 73.09M263.83 83.00L263.83 73.09M263.29 73.09L263.83 73.09M263.56 73.09L263.56 70.68M262.75 70.68L263.56 70.68M263.15 70.68L263.15 69.88M264.37 83.00L264.37 69.88M263.15 69.88L264.37 69.88M263.76 69.88L263.76 69.08M264.91 83.00L264.91 71.26M265.45 83.00L265.45 72.36M265.99 83.00L265.99 72.36M265.45 72.36L265.99 72.36M265.72 72.36L265.72 71.26M264.91 71.26L265.72 71.26M265.31 71.26L265.31 69.08M263.76 69.08L265.31 69.08M264.54 69.08L264.54 61.92M261.40 61.92L264.54 61.92M262.97 61.92L262.97 61.12M258.65 61.12L262.97 61.12M260.81 61.12L260.81 53.00M266.53 83.00L266.53 73.31M267.07 83.00L267.07 73.31M266.53 73.31L267.07 73.31M266.80 73.31L266.80 69.62M267.61 83.00L267.61 69.62M266.80 69.62L267.61 69.62M267.20 69.62L267.20 62.60M268.15 83.00L268.15 71.26M268.69 83.00L268.69 71.26M268.15 71.26L268.69 71.26M268.42 71.26L268.42 69.71M269.23 83.00L269.23 69.71M268.42 69.71L269.23 69.71M268.82 69.71L268.82 67.61M269.77 83.00L269.77 71.65M270.31 83.00L270.31 71.65M269.77 71.65L270.31 71.65M270.04 71.65L270.04 70.85M270.85 83.00L270.85 70.85M270.04 70.85L270.85 70.85M270.44 70.85L270.44 67.61M268.82 67.61L270.44 67.61M269.63 67.61L269.63 62.60M267.20 62.60L269.63 62.60M268.42 62.60L268.42 60.82M271.39 83.00L271.39 72.75M271.93 83.00L271.93 72.75M271.39 72.75L271.93 72.75M271.66 72.75L271.66 71.95M272.47 83.00L272.47 73.88M273.01 83.00L273.01 73.88M272.47 73.88L273.01 73.88M272.74 73.88L272.74 71.95M271.66 71.95L272.74 71.95M272.20 71.95L272.20 68.10M273.55 83.00L273.55 71.08M274.09 83.00L274.09 71.08M273.55 71.08L274.09 71.08M273.82 71.08L273.82 68.90M274.63 83.00L274.63 72.25M275.17 83.00L275.17 72.25M274.63 72.25L275.17 72.25M274.90 72.25L274.90 68.90M273.82 68.90L274.90 68.90M274.36 68.90L274.36 68.10M272.20 68.10L274.36 68.10M273.28 68.10L273.28 60.82M268.42 60.82L273.28 60.82M270.85 60.82L270.85 58.87M275.71 83.00L275.71 72.16M276.25 83.00L276.25 72.16M275.71 72.16L276.25 72.16M275.98 72.16L275.98 71.36M276.79 83.00L276.79 73.01M277.33 83.00L277.33 73.01M276.79 73.01L277.33 73.01M277.06 73.01L277.06 71.36M275.98 71.36L277.06 71.36M276.52 71.36L276.52 64.61M277.87 83.00L277.87 70.37M278.41 83.00L278.41 70.37M277.87 70.37L278.41 70.37M278.14 70.37L278.14 67.71M278.95 83.00L278.95 72.13M279.49 83.00L279.49 72.93M280.03 83.00L280.03 72.93M279.49 72.93L280.03 72.93M279.76 72.93L279.76 72.13M278.95 72.13L279.76 72.13M279.36 72.13L279.36 67.71M278.14 67.71L279.36 67.71M278.75 67.71L278.75 64.61M276.52 64.61L278.75 64.61M277.63 64.61L277.63 59.67M280.57 83.00L280.57 72.89M281.11 83.00L281.11 72.89M280.57 72.89L281.11 72.89M280.84 72.89L280.84 70.40M281.65 83.00L281.65 70.40M280.84 70.40L281.65 70.40M281.25 70.40L281.25 67.48M282.19 83.00L282.19 72.40M282.73 83.00L282.73 72.40M282.19 72.40L282.73 72.40M282.46 72.40L282.46 70.29M283.27 83.00L283.27 72.33M283.81 83.00L283.81 72.33M283.27 72.33L283.81 72.33M283.54 72.33L283.54 71.09M284.35 83.00L284.35 71.09M283.54 71.09L284.35 71.09M283.94 71.09L283.94 70.29M282.46 70.29L283.94 70.29M283.20 70.29L283.20 67.48M281.25 67.48L283.20 67.48M282.22 67.48L282.22 61.10M284.89 83.00L284.89 70.81M285.43 83.00L285.43 73.22M285.97 83.00L285.97 73.22M285.43 73.22L285.97 73.22M285.70 73.22L285.70 72.42M286.51 83.00L286.51 72.42M285.70 72.42L286.51 72.42M286.11 72.42L286.11 70.81M284.89 70.81L286.11 70.81M285.50 70.81L285.50 70.01M287.05 83.00L287.05 70.81M287.59 83.00L287.59 71.98M288.13 83.00L288.13 71.98M287.59 71.98L288.13 71.98M287.86 71.98L287.86 70.81M287.05 70.81L287.86 70.81M287.45 70.81L287.45 70.01M285.50 70.01L287.45 70.01M286.48 70.01L286.48 61.10M282.22 61.10L286.48 61.10M284.35 61.10L284.35 59.67M277.63 59.67L284.35 59.67M280.99 59.67L280.99 58.87M270.85 58.87L280.99 58.87M275.92 58.87L275.92 53.00M260.81 53.00L275.92 53.00M240.78 54.00L240.78 51.50M268.37 53.00L268.37 51.50M240.78 51.50L268.37 51.50M226.51 55.00L226.51 47.70M254.57 51.50L254.57 47.70M226.51 47.70L254.57 47.70M288.59 83.00L288.59 69.02M288.98 83.00L288.98 72.80M289.37 83.00L289.37 72.80M288.98 72.80L289.37 72.80M289.18 72.80L289.18 69.02M288.59 69.02L289.18 69.02M288.89 69.02L288.89 66.21M289.76 83.00L289.76 70.35M290.15 83.00L290.15 70.35M289.76 70.35L290.15 70.35M289.95 70.35L289.95 66.21M288.89 66.21L289.95 66.21M289.42 66.21L289.42 63.20M290.54 83.00L290.54 73.40M290.93 83.00L290.93 73.40M290.54 73.40L290.93 73.40M290.73 73.40L290.73 69.96M291.31 83.00L291.31 69.96M290.73 69.96L291.31 69.96M291.02 69.96L291.02 66.15M291.70 83.00L291.70 72.57M292.09 83.00L292.09 73.37M292.48 83.00L292.48 73.37M292.09 73.37L292.48 73.37M292.29 73.37L292.29 72.57M291.70 72.57L292.29 72.57M291.99 72.57L291.99 66.15M291.02 66.15L291.99 66.15M291.51 66.15L291.51 63.20M289.42 63.20L291.51 63.20M290.46 63.20L290.46 58.17M292.87 83.00L292.87 69.54M293.26 83.00L293.26 72.38M293.65 83.00L293.65 72.38M293.26 72.38L293.65 72.38M293.45 72.38L293.45 69.54M292.87 69.54L293.45 69.54M293.16 69.54L293.16 68.22M294.03 83.00L294.03 70.40M294.42 83.00L294.42 73.19M294.81 83.00L294.81 73.19M294.42 73.19L294.81 73.19M294.62 73.19L294.62 71.20M295.20 83.00L295.20 71.20M294.62 71.20L295.20 71.20M294.91 71.20L294.91 70.40M294.03 70.40L294.91 70.40M294.47 70.40L294.47 68.22M293.16 68.22L294.47 68.22M293.82 68.22L293.82 58.17M290.46 58.17L293.82 58.17M292.14 58.17L292.14 53.80M295.59 83.00L295.59 72.81M295.98 83.00L295.98 73.61M296.37 83.00L296.37 73.61M295.98 73.61L296.37 73.61M296.17 73.61L296.17 72.81M295.59 72.81L296.17 72.81M295.88 72.81L295.88 70.18M296.75 83.00L296.75 72.55M297.14 83.00L297.14 73.35M297.53 83.00L297.53 73.35M297.14 73.35L297.53 73.35M297.34 73.35L297.34 72.55M296.75 72.55L297.34 72.55M297.05 72.55L297.05 70.18M295.88 70.18L297.05 70.18M296.46 70.18L296.46 66.60M297.92 83.00L297.92 72.77M298.31 83.00L298.31 72.77M297.92 72.77L298.31 72.77M298.11 72.77L298.11 70.41M298.70 83.00L298.70 71.21M299.09 83.00L299.09 73.80M299.47 83.00L299.47 73.80M299.09 73.80L299.47 73.80M299.28 73.80L299.28 71.21M298.70 71.21L299.28 71.21M298.99 71.21L298.99 70.41M298.11 70.41L298.99 70.41M298.55 70.41L298.55 66.60M296.46 66.60L298.55 66.60M297.51 66.60L297.51 64.51M299.86 83.00L299.86 71.10M300.25 83.00L300.25 71.10M299.86 71.10L300.25 71.10M300.06 71.10L300.06 66.67M300.64 83.00L300.64 71.58M301.03 83.00L301.03 71.58M300.64 71.58L301.03 71.58M300.83 71.58L300.83 67.90M301.42 83.00L301.42 71.23M301.81 83.00L301.81 71.23M301.42 71.23L301.81 71.23M301.61 71.23L301.61 67.90M300.83 67.90L301.61 67.90M301.22 67.90L301.22 66.67M300.06 66.67L301.22 66.67M300.64 66.67L300.64 64.51M297.51 64.51L300.64 64.51M299.07 64.51L299.07 53.80M292.14 53.80L299.07 53.80M302.17 83.00L302.17 72.67M302.50 83.00L302.50 72.67M302.17 72.67L302.50 72.67M302.33 72.67L302.33 66.07M302.83 83.00L302.83 71.96M303.17 83.00L303.17 71.96M302.83 71.96L303.17 71.96M303.00 71.96L303.00 69.10M303.50 83.00L303.50 69.10M303.00 69.10L303.50 69.10M303.25 69.10L303.25 66.07M302.33 66.07L303.25 66.07M302.79 66.07L302.79 65.27M303.83 83.00L303.83 69.61M304.17 83.00L304.17 73.97M304.50 83.00L304.50 73.97M304.17 73.97L304.50 73.97M304.33 73.97L304.33 69.61M303.83 69.61L304.33 69.61M304.08 69.61L304.08 65.27M302.79 65.27L304.08 65.27M303.44 65.27L303.44 64.47M304.83 83.00L304.83 68.85M305.17 83.00L305.17 72.22M305.50 83.00L305.50 72.22M305.17 72.22L305.50 72.22M305.33 72.22L305.33 71.42M305.83 83.00L305.83 71.42M305.33 71.42L305.83 71.42M305.58 71.42L305.58 68.85M304.83 68.85L305.58 68.85M305.21 68.85L305.21 66.63M306.17 83.00L306.17 72.02M306.50 83.00L306.50 72.02M306.17 72.02L306.50 72.02M306.33 72.02L306.33 66.63M305.21 66.63L306.33 66.63M305.77 66.63L305.77 64.47M303.44 64.47L305.77 64.47M304.60 64.47L304.60 60.60M306.83 83.00L306.83 72.51M307.17 83.00L307.17 72.51M306.83 72.51L307.17 72.51M307.00 72.51L307.00 71.71M307.50 83.00L307.50 72.51M307.83 83.00L307.83 72.51M307.50 72.51L307.83 72.51M307.67 72.51L307.67 71.71M307.00 71.71L307.67 71.71M307.33 71.71L307.33 69.30M308.17 83.00L308.17 70.90M308.50 83.00L308.50 70.90M308.17 70.90L308.50 70.90M308.33 70.90L308.33 70.10M308.83 83.00L308.83 70.90M309.17 83.00L309.17 70.90M308.83 70.90L309.17 70.90M309.00 70.90L309.00 70.10M308.33 70.10L309.00 70.10M308.67 70.10L308.67 69.30M307.33 69.30L308.67 69.30M308.00 69.30L308.00 61.40M309.50 83.00L309.50 71.68M309.83 83.00L309.83 71.68M309.50 71.68L309.83 71.68M309.67 71.68L309.67 67.71M310.17 83.00L310.17 70.49M310.50 83.00L310.50 71.29M310.83 83.00L310.83 71.29M310.50 71.29L310.83 71.29M310.67 71.29L310.67 70.49M310.17 70.49L310.67 70.49M310.42 70.49L310.42 67.71M309.67 67.71L310.42 67.71M310.04 67.71L310.04 64.81M311.17 83.00L311.17 72.95M311.50 83.00L311.50 72.95M311.17 72.95L311.50 72.95M311.33 72.95L311.33 70.76M311.83 83.00L311.83 70.76M311.33 70.76L311.83 70.76M311.58 70.76L311.58 64.81M310.04 64.81L311.58 64.81M310.81 64.81L310.81 61.40M308.00 61.40L310.81 61.40M309.41 61.40L309.41 60.60M304.60 60.60L309.41 60.60M312.22 83.00L312.22 71.77M312.65 83.00L312.65 72.57M313.08 83.00L313.08 72.57M312.65 72.57L313.08 72.57M312.86 72.57L312.86 71.77M312.22 71.77L312.86 71.77M312.54 71.77L312.54 70.97M313.51 83.00L313.51 71.77M313.94 83.00L313.94 71.77M313.51 71.77L313.94 71.77M313.72 71.77L313.72 70.97M312.54 70.97L313.72 70.97M313.13 70.97L313.13 64.45M314.37 83.00L314.37 73.75M314.80 83.00L314.80 73.75M314.37 73.75L314.80 73.75M314.59 73.75L314.59 64.45M313.13 64.45L314.59 64.45M313.86 64.45L313.86 60.84M315.23 83.00L315.23 73.68M315.66 83.00L315.66 73.68M315.23 73.68L315.66 73.68M315.45 73.68L315.45 66.79M316.10 83.00L316.10 73.41M316.53 83.00L316.53 73.41M316.10 73.41L316.53 73.41M316.31 73.41L316.31 69.43M316.96 83.00L316.96 73.84M317.39 83.00L317.39 73.84M316.96 73.84L317.39 73.84M317.17 73.84L317.17 69.43M316.31 69.43L317.17 69.43M316.74 69.43L316.74 66.79M315.45 66.79L316.74 66.79M316.10 66.79L316.10 60.84M313.86 60.84L316.10 60.84M314.98 60.84L314.98 55.85M317.82 83.00L317.82 72.18M318.25 83.00L318.25 72.18M317.82 72.18L318.25 72.18M318.04 72.18L318.04 71.38M318.68 83.00L318.68 71.38M318.04 71.38L318.68 71.38M318.36 71.38L318.36 70.58M319.11 83.00L319.11 73.04M319.54 83.00L319.54 73.04M319.11 73.04L319.54 73.04M319.33 73.04L319.33 72.24M319.98 83.00L319.98 72.24M319.33 72.24L319.98 72.24M319.65 72.24L319.65 70.58M318.36 70.58L319.65 70.58M319.01 70.58L319.01 65.30M320.41 83.00L320.41 68.42M320.84 83.00L320.84 72.32M321.27 83.00L321.27 72.32M320.84 72.32L321.27 72.32M321.05 72.32L321.05 68.42M320.41 68.42L321.05 68.42M320.73 68.42L320.73 66.10M321.70 83.00L321.70 71.97M322.13 83.00L322.13 71.97M321.70 71.97L322.13 71.97M321.92 71.97L321.92 71.13M322.56 83.00L322.56 71.13M321.92 71.13L322.56 71.13M322.24 71.13L322.24 66.93M322.99 83.00L322.99 72.72M323.42 83.00L323.42 73.52M323.86 83.00L323.86 73.52M323.42 73.52L323.86 73.52M323.64 73.52L323.64 72.72M322.99 72.72L323.64 72.72M323.32 72.72L323.32 66.93M322.24 66.93L323.32 66.93M322.78 66.93L322.78 66.10M320.73 66.10L322.78 66.10M321.75 66.10L321.75 65.30M319.01 65.30L321.75 65.30M320.38 65.30L320.38 55.85M314.98 55.85L320.38 55.85M317.68 55.85L317.68 52.90M324.29 83.00L324.29 72.15M324.72 83.00L324.72 72.15M324.29 72.15L324.72 72.15M324.50 72.15L324.50 71.35M325.15 83.00L325.15 72.15M325.58 83.00L325.58 72.15M325.15 72.15L325.58 72.15M325.36 72.15L325.36 71.35M324.50 71.35L325.36 71.35M324.93 71.35L324.93 65.87M326.01 83.00L326.01 69.36M326.44 83.00L326.44 73.35M326.87 83.00L326.87 73.35M326.44 73.35L326.87 73.35M326.66 73.35L326.66 70.16M327.30 83.00L327.30 70.16M326.66 70.16L327.30 70.16M326.98 70.16L326.98 69.36M326.01 69.36L326.98 69.36M326.50 69.36L326.50 65.87M324.93 65.87L326.50 65.87M325.71 65.87L325.71 65.07M327.74 83.00L327.74 72.24M328.17 83.00L328.17 72.24M327.74 72.24L328.17 72.24M327.95 72.24L327.95 71.44M328.60 83.00L328.60 71.44M327.95 71.44L328.60 71.44M328.27 71.44L328.27 65.07M325.71 65.07L328.27 65.07M326.99 65.07L326.99 63.08M329.03 83.00L329.03 73.39M329.46 83.00L329.46 73.39M329.03 73.39L329.46 73.39M329.24 73.39L329.24 68.51M329.89 83.00L329.89 69.31M330.32 83.00L330.32 72.19M330.75 83.00L330.75 72.19M330.32 72.19L330.75 72.19M330.54 72.19L330.54 69.31M329.89 69.31L330.54 69.31M330.21 69.31L330.21 68.51M329.24 68.51L330.21 68.51M329.73 68.51L329.73 67.71M331.18 83.00L331.18 72.85M331.62 83.00L331.62 72.85M331.18 72.85L331.62 72.85M331.40 72.85L331.40 70.65M332.05 83.00L332.05 71.63M332.48 83.00L332.48 71.63M332.05 71.63L332.48 71.63M332.26 71.63L332.26 70.65M331.40 70.65L332.26 70.65M331.83 70.65L331.83 67.71M329.73 67.71L331.83 67.71M330.78 67.71L330.78 63.08M326.99 63.08L330.78 63.08M328.89 63.08L328.89 57.90M332.91 83.00L332.91 72.48M333.34 83.00L333.34 72.48M332.91 72.48L333.34 72.48M333.12 72.48L333.12 68.92M333.77 83.00L333.77 68.92M333.12 68.92L333.77 68.92M333.45 68.92L333.45 67.74M334.20 83.00L334.20 72.56M334.63 83.00L334.63 73.36M335.06 83.00L335.06 73.36M334.63 73.36L335.06 73.36M334.85 73.36L334.85 72.56M334.20 72.56L334.85 72.56M334.53 72.56L334.53 67.74M333.45 67.74L334.53 67.74M333.99 67.74L333.99 64.32M335.50 83.00L335.50 70.93M335.93 83.00L335.93 70.93M335.50 70.93L335.93 70.93M335.71 70.93L335.71 67.32M336.36 83.00L336.36 70.33M336.79 83.00L336.79 70.33M336.36 70.33L336.79 70.33M336.57 70.33L336.57 67.32M335.71 67.32L336.57 67.32M336.14 67.32L336.14 65.12M337.22 83.00L337.22 73.54M337.65 83.00L337.65 73.54M337.22 73.54L337.65 73.54M337.44 73.54L337.44 72.74M338.08 83.00L338.08 72.74M337.44 72.74L338.08 72.74M337.76 72.74L337.76 68.48M338.51 83.00L338.51 68.48M337.76 68.48L338.51 68.48M338.14 68.48L338.14 66.14M338.94 83.00L338.94 73.06M339.38 83.00L339.38 73.06M338.94 73.06L339.38 73.06M339.16 73.06L339.16 71.12M339.81 83.00L339.81 72.42M340.24 83.00L340.24 72.42M339.81 72.42L340.24 72.42M340.02 72.42L340.02 71.12M339.16 71.12L340.02 71.12M339.59 71.12L339.59 66.14M338.14 66.14L339.59 66.14M338.86 66.14L338.86 65.12M336.14 65.12L338.86 65.12M337.50 65.12L337.50 64.32M333.99 64.32L337.50 64.32M335.74 64.32L335.74 58.70M340.67 83.00L340.67 71.10M341.10 83.00L341.10 72.51M341.53 83.00L341.53 73.31M341.96 83.00L341.96 73.31M341.53 73.31L341.96 73.31M341.75 73.31L341.75 72.51M341.10 72.51L341.75 72.51M341.42 72.51L341.42 71.10M340.67 71.10L341.42 71.10M341.05 71.10L341.05 67.53M342.39 83.00L342.39 71.49M342.82 83.00L342.82 73.04M343.26 83.00L343.26 73.04M342.82 73.04L343.26 73.04M343.04 73.04L343.04 71.49M342.39 71.49L343.04 71.49M342.72 71.49L342.72 70.69M343.69 83.00L343.69 71.49M344.12 83.00L344.12 71.49M343.69 71.49L344.12 71.49M343.90 71.49L343.90 70.69M342.72 70.69L343.90 70.69M343.31 70.69L343.31 67.53M341.05 67.53L343.31 67.53M342.18 67.53L342.18 59.50M344.55 83.00L344.55 73.72M344.98 83.00L344.98 73.72M344.55 73.72L344.98 73.72M344.76 73.72L344.76 71.51M345.41 83.00L345.41 71.51M344.76 71.51L345.41 71.51M345.09 71.51L345.09 67.21M345.84 83.00L345.84 67.21M345.09 67.21L345.84 67.21M345.47 67.21L345.47 65.92M346.27 83.00L346.27 71.15M346.70 83.00L346.70 71.95M347.14 83.00L347.14 71.95M346.70 71.95L347.14 71.95M346.92 71.95L346.92 71.15M346.27 71.15L346.92 71.15M346.60 71.15L346.60 66.72M347.57 83.00L347.57 69.42M348.00 83.00L348.00 71.12M348.43 83.00L348.43 71.12M348.00 71.12L348.43 71.12M348.21 71.12L348.21 69.42M347.57 69.42L348.21 69.42M347.89 69.42L347.89 66.72M346.60 66.72L347.89 66.72M347.24 66.72L347.24 65.92M345.47 65.92L347.24 65.92M346.35 65.92L346.35 64.22M348.86 83.00L348.86 72.78M349.29 83.00L349.29 72.78M348.86 72.78L349.29 72.78M349.08 72.78L349.08 70.00M349.72 83.00L349.72 70.80M350.15 83.00L350.15 73.24M350.58 83.00L350.58 73.24M350.15 73.24L350.58 73.24M350.37 73.24L350.37 70.80M349.72 70.80L350.37 70.80M350.05 70.80L350.05 70.00M349.08 70.00L350.05 70.00M349.56 70.00L349.56 64.22M346.35 64.22L349.56 64.22M347.96 64.22L347.96 59.50M342.18 59.50L347.96 59.50M345.07 59.50L345.07 58.70M335.74 58.70L345.07 58.70M340.41 58.70L340.41 57.90M328.89 57.90L340.41 57.90M334.65 57.90L334.65 52.90M317.68 52.90L334.65 52.90M307.01 60.60L307.01 50.00M326.16 52.90L326.16 50.00M307.01 50.00L326.16 50.00M295.61 53.80L295.61 44.20M316.58 50.00L316.58 44.20M295.61 44.20L316.58 44.20M200.63 44.80L200.63 40.80M240.54 47.70L240.54 40.80M200.63 40.80L240.54 40.80M220.58 40.80L220.58 36.80M306.10 44.20L306.10 36.80M220.58 36.80L306.10 36.80M126.55 54.00L126.55 26.80M263.34 36.80L263.34 26.80M126.55 26.80L263.34 26.80" stroke="#151515" stroke-width="0.95" fill="none"/>
<rect x="115.5" y="85.5" width="235" height="12.5" fill="#1a1a1a"/>
<rect x="116.7" y="86.7" width="12.6" height="10.3" fill="#c4112f"/>
<rect x="131" y="86.7" width="90" height="10.3" fill="#3b5894"/>
<rect x="223" y="86.7" width="64.3" height="10.3" fill="#6aac44"/>
<rect x="289" y="86.7" width="60.3" height="10.3" fill="#5b2a76"/>
<rect x="353.2" y="85.5" width="33.6" height="12.5" fill="#1a1a1a"/>
<rect x="354.6" y="86.7" width="30.8" height="10.3" fill="#e5961f"/>
<defs><filter id="hb" x="-2%" y="-2%" width="104%" height="104%"><feGaussianBlur stdDeviation="0.55 0.5"/></filter></defs>
<g filter="url(#hb)"><rect x="116.50" y="98.0" width="2.90" height="24.0" fill="#7a70bf"/><rect x="119.10" y="98.0" width="2.20" height="24.0" fill="#8f87cc"/><rect x="121.00" y="98.0" width="2.50" height="24.0" fill="#837ac4"/><rect x="123.20" y="98.0" width="2.50" height="24.0" fill="#9088cc"/><rect x="125.40" y="98.0" width="1.60" height="24.0" fill="#776ebd"/><rect x="126.70" y="98.0" width="2.50" height="24.0" fill="#766cbc"/><rect x="128.90" y="98.0" width="0.90" height="24.0" fill="#8e85cb"/><rect x="116.50" y="122.0" width="1.60" height="24.0" fill="#c1bbe4"/><rect x="117.80" y="122.0" width="2.50" height="24.0" fill="#f2e0ea"/><rect x="120.00" y="122.0" width="2.50" height="24.0" fill="#ddd6ee"/><rect x="122.20" y="122.0" width="3.30" height="24.0" fill="#f1e4ef"/><rect x="125.20" y="122.0" width="3.30" height="24.0" fill="#f3dbe4"/><rect x="128.20" y="122.0" width="1.60" height="24.0" fill="#cbc5e8"/><rect x="116.50" y="146.0" width="3.30" height="24.0" fill="#aca5da"/><rect x="119.50" y="146.0" width="1.60" height="24.0" fill="#9991d1"/><rect x="120.80" y="146.0" width="1.60" height="24.0" fill="#a49cd6"/><rect x="122.10" y="146.0" width="1.60" height="24.0" fill="#968ed0"/><rect x="123.40" y="146.0" width="2.20" height="24.0" fill="#7f75c2"/><rect x="125.30" y="146.0" width="2.90" height="24.0" fill="#8a81c9"/><rect x="127.90" y="146.0" width="1.90" height="24.0" fill="#7f75c1"/><rect x="116.50" y="170.0" width="1.60" height="24.0" fill="#c9c3e7"/><rect x="117.80" y="170.0" width="1.30" height="24.0" fill="#ded6ee"/><rect x="118.80" y="170.0" width="2.50" height="24.0" fill="#c0bae3"/><rect x="121.00" y="170.0" width="2.50" height="24.0" fill="#9890d1"/><rect x="123.20" y="170.0" width="3.30" height="24.0" fill="#ebe3f2"/><rect x="126.20" y="170.0" width="2.50" height="24.0" fill="#a29ad5"/><rect x="128.40" y="170.0" width="1.40" height="24.0" fill="#9890d1"/><rect x="116.50" y="194.0" width="1.90" height="24.0" fill="#9991d1"/><rect x="118.10" y="194.0" width="3.30" height="24.0" fill="#7c72c0"/><rect x="121.10" y="194.0" width="1.60" height="24.0" fill="#9289cd"/><rect x="122.40" y="194.0" width="1.30" height="24.0" fill="#a49dd7"/><rect x="123.40" y="194.0" width="3.30" height="24.0" fill="#8e85cb"/><rect x="126.40" y="194.0" width="2.50" height="24.0" fill="#a099d5"/><rect x="128.60" y="194.0" width="1.20" height="24.0" fill="#9991d1"/><rect x="116.50" y="218.0" width="1.90" height="24.0" fill="#f1e5f1"/><rect x="118.10" y="218.0" width="2.20" height="24.0" fill="#e4dcf0"/><rect x="120.00" y="218.0" width="3.30" height="24.0" fill="#d1caea"/><rect x="123.00" y="218.0" width="2.20" height="24.0" fill="#f5d1d9"/><rect x="124.90" y="218.0" width="1.60" height="24.0" fill="#e6dff1"/><rect x="126.20" y="218.0" width="1.60" height="24.0" fill="#c6c0e6"/><rect x="127.50" y="218.0" width="2.30" height="24.0" fill="#b7b0df"/><rect x="116.50" y="242.0" width="2.90" height="24.0" fill="#a9a2d9"/><rect x="119.10" y="242.0" width="3.30" height="24.0" fill="#9c94d3"/><rect x="122.10" y="242.0" width="3.30" height="24.0" fill="#877fc7"/><rect x="125.10" y="242.0" width="2.20" height="24.0" fill="#9087cc"/><rect x="127.00" y="242.0" width="1.30" height="24.0" fill="#796fbe"/><rect x="128.00" y="242.0" width="1.80" height="24.0" fill="#766cbc"/><rect x="116.50" y="266.0" width="2.90" height="24.0" fill="#beb8e2"/><rect x="119.10" y="266.0" width="3.30" height="24.0" fill="#9e96d4"/><rect x="122.10" y="266.0" width="2.90" height="24.0" fill="#c8c2e7"/><rect x="124.70" y="266.0" width="1.90" height="24.0" fill="#aba4da"/><rect x="126.30" y="266.0" width="2.90" height="24.0" fill="#e1daef"/><rect x="128.90" y="266.0" width="0.90" height="24.0" fill="#f1e3ef"/><rect x="131.00" y="98.0" width="1.60" height="24.0" fill="#8c83ca"/><rect x="132.30" y="98.0" width="2.50" height="24.0" fill="#7d73c0"/><rect x="134.50" y="98.0" width="1.90" height="24.0" fill="#8f86cb"/><rect x="136.10" y="98.0" width="2.20" height="24.0" fill="#a39bd6"/><rect x="138.00" y="98.0" width="1.90" height="24.0" fill="#c7c1e6"/><rect x="139.60" y="98.0" width="2.90" height="24.0" fill="#978fd0"/><rect x="142.20" y="98.0" width="1.30" height="24.0" fill="#7c73c0"/><rect x="143.20" y="98.0" width="1.90" height="24.0" fill="#c9c3e7"/><rect x="144.80" y="98.0" width="2.50" height="24.0" fill="#928ace"/><rect x="147.00" y="98.0" width="1.90" height="24.0" fill="#938bce"/><rect x="148.60" y="98.0" width="1.60" height="24.0" fill="#c9c3e7"/><rect x="149.90" y="98.0" width="1.60" height="24.0" fill="#8c83ca"/><rect x="151.20" y="98.0" width="1.60" height="24.0" fill="#aea7db"/><rect x="152.50" y="98.0" width="2.20" height="24.0" fill="#dbd4ed"/><rect x="154.40" y="98.0" width="1.60" height="24.0" fill="#b4adde"/><rect x="155.70" y="98.0" width="2.90" height="24.0" fill="#c6c0e6"/><rect x="158.30" y="98.0" width="1.30" height="24.0" fill="#cbc5e8"/><rect x="159.30" y="98.0" width="2.20" height="24.0" fill="#c5bfe6"/><rect x="161.20" y="98.0" width="3.30" height="24.0" fill="#857cc5"/><rect x="164.20" y="98.0" width="1.30" height="24.0" fill="#dbd4ed"/><rect x="165.20" y="98.0" width="2.50" height="24.0" fill="#9f97d4"/><rect x="167.40" y="98.0" width="1.30" height="24.0" fill="#958dd0"/><rect x="168.40" y="98.0" width="2.20" height="24.0" fill="#dcd5ed"/><rect x="170.30" y="98.0" width="2.50" height="24.0" fill="#766cbc"/><rect x="172.50" y="98.0" width="2.50" height="24.0" fill="#bab4e1"/><rect x="174.70" y="98.0" width="1.90" height="24.0" fill="#dad3ed"/><rect x="176.30" y="98.0" width="1.60" height="24.0" fill="#a199d5"/><rect x="177.60" y="98.0" width="1.30" height="24.0" fill="#d0c9e9"/><rect x="178.60" y="98.0" width="1.90" height="24.0" fill="#8b82c9"/><rect x="180.20" y="98.0" width="2.20" height="24.0" fill="#f8c6cc"/><rect x="182.10" y="98.0" width="2.50" height="24.0" fill="#f7b2b5"/><rect x="184.30" y="98.0" width="2.20" height="24.0" fill="#f7c7ce"/><rect x="186.20" y="98.0" width="1.90" height="24.0" fill="#f3d9e2"/><rect x="187.80" y="98.0" width="1.30" height="24.0" fill="#f7aeb1"/><rect x="188.80" y="98.0" width="1.60" height="24.0" fill="#f7aaac"/><rect x="190.10" y="98.0" width="1.60" height="24.0" fill="#dad3ed"/><rect x="191.40" y="98.0" width="2.90" height="24.0" fill="#f3dae4"/><rect x="194.00" y="98.0" width="1.90" height="24.0" fill="#e9e1f2"/><rect x="195.60" y="98.0" width="2.50" height="24.0" fill="#e2dbef"/><rect x="197.80" y="98.0" width="1.90" height="24.0" fill="#e2dbef"/><rect x="199.40" y="98.0" width="1.60" height="24.0" fill="#d6cfeb"/><rect x="200.70" y="98.0" width="1.90" height="24.0" fill="#d8d1ec"/><rect x="202.30" y="98.0" width="1.90" height="24.0" fill="#b9b3e0"/><rect x="203.90" y="98.0" width="3.30" height="24.0" fill="#c3bce4"/><rect x="206.90" y="98.0" width="1.30" height="24.0" fill="#c9c3e7"/><rect x="207.90" y="98.0" width="2.20" height="24.0" fill="#d4cdeb"/><rect x="209.80" y="98.0" width="1.60" height="24.0" fill="#e6def1"/><rect x="211.10" y="98.0" width="1.30" height="24.0" fill="#f2dfe9"/><rect x="212.10" y="98.0" width="2.90" height="24.0" fill="#aea7db"/><rect x="214.70" y="98.0" width="2.50" height="24.0" fill="#bbb5e1"/><rect x="216.90" y="98.0" width="1.30" height="24.0" fill="#a29ad5"/><rect x="217.90" y="98.0" width="1.60" height="24.0" fill="#b3acdd"/><rect x="219.20" y="98.0" width="1.90" height="24.0" fill="#f5d3dc"/><rect x="220.80" y="98.0" width="0.80" height="24.0" fill="#cdc7e8"/><rect x="131.00" y="122.0" width="1.30" height="24.0" fill="#f2e1eb"/><rect x="132.00" y="122.0" width="2.90" height="24.0" fill="#f48788"/><rect x="134.60" y="122.0" width="1.30" height="24.0" fill="#f4d6df"/><rect x="135.60" y="122.0" width="1.60" height="24.0" fill="#f4d4dd"/><rect x="136.90" y="122.0" width="2.90" height="24.0" fill="#f8c2c8"/><rect x="139.50" y="122.0" width="1.30" height="24.0" fill="#dcd5ed"/><rect x="140.50" y="122.0" width="1.60" height="24.0" fill="#cdc7e8"/><rect x="141.80" y="122.0" width="1.90" height="24.0" fill="#c6c0e6"/><rect x="143.40" y="122.0" width="2.20" height="24.0" fill="#c7c1e6"/><rect x="145.30" y="122.0" width="1.90" height="24.0" fill="#948ccf"/><rect x="146.90" y="122.0" width="2.20" height="24.0" fill="#8f86cb"/><rect x="148.80" y="122.0" width="1.30" height="24.0" fill="#8d85ca"/><rect x="149.80" y="122.0" width="2.90" height="24.0" fill="#8a82c9"/><rect x="152.40" y="122.0" width="2.50" height="24.0" fill="#d3ccea"/><rect x="154.60" y="122.0" width="2.20" height="24.0" fill="#bfb8e3"/><rect x="156.50" y="122.0" width="1.90" height="24.0" fill="#c7c1e6"/><rect x="158.10" y="122.0" width="2.50" height="24.0" fill="#948ccf"/><rect x="160.30" y="122.0" width="3.30" height="24.0" fill="#8e85cb"/><rect x="163.30" y="122.0" width="1.30" height="24.0" fill="#b9b3e0"/><rect x="164.30" y="122.0" width="1.60" height="24.0" fill="#8f86cc"/><rect x="165.60" y="122.0" width="3.30" height="24.0" fill="#b5aede"/><rect x="168.60" y="122.0" width="1.60" height="24.0" fill="#f4d7e1"/><rect x="169.90" y="122.0" width="1.60" height="24.0" fill="#d0c9e9"/><rect x="171.20" y="122.0" width="2.90" height="24.0" fill="#d4ceeb"/><rect x="173.80" y="122.0" width="1.30" height="24.0" fill="#7b72bf"/><rect x="174.80" y="122.0" width="2.20" height="24.0" fill="#d0c9e9"/><rect x="176.70" y="122.0" width="3.30" height="24.0" fill="#928acd"/><rect x="179.70" y="122.0" width="2.20" height="24.0" fill="#aba4da"/><rect x="181.60" y="122.0" width="2.20" height="24.0" fill="#aca5da"/><rect x="183.50" y="122.0" width="2.90" height="24.0" fill="#b2abdd"/><rect x="186.10" y="122.0" width="2.50" height="24.0" fill="#b2acdd"/><rect x="188.30" y="122.0" width="2.50" height="24.0" fill="#8076c2"/><rect x="190.50" y="122.0" width="2.90" height="24.0" fill="#766cbc"/><rect x="193.10" y="122.0" width="1.90" height="24.0" fill="#766cbc"/><rect x="194.70" y="122.0" width="3.30" height="24.0" fill="#cdc7e8"/><rect x="197.70" y="122.0" width="2.20" height="24.0" fill="#a59ed7"/><rect x="199.60" y="122.0" width="2.20" height="24.0" fill="#e8e0f1"/><rect x="201.50" y="122.0" width="2.20" height="24.0" fill="#f7c8cf"/><rect x="203.40" y="122.0" width="2.20" height="24.0" fill="#cbc4e8"/><rect x="205.30" y="122.0" width="2.20" height="24.0" fill="#f3d9e2"/><rect x="207.20" y="122.0" width="3.30" height="24.0" fill="#a29bd6"/><rect x="210.20" y="122.0" width="1.60" height="24.0" fill="#ede6f3"/><rect x="211.50" y="122.0" width="1.30" height="24.0" fill="#f3d9e2"/><rect x="212.50" y="122.0" width="1.30" height="24.0" fill="#f27d80"/><rect x="213.50" y="122.0" width="1.60" height="24.0" fill="#f8c5cb"/><rect x="214.80" y="122.0" width="1.30" height="24.0" fill="#f27d80"/><rect x="215.80" y="122.0" width="1.30" height="24.0" fill="#f4d7e0"/><rect x="216.80" y="122.0" width="1.30" height="24.0" fill="#ece4f3"/><rect x="217.80" y="122.0" width="2.90" height="24.0" fill="#f8c2c8"/><rect x="220.40" y="122.0" width="1.20" height="24.0" fill="#f7adb0"/><rect x="131.00" y="146.0" width="2.20" height="24.0" fill="#f7b8bd"/><rect x="132.90" y="146.0" width="2.50" height="24.0" fill="#e3dcf0"/><rect x="135.10" y="146.0" width="1.60" height="24.0" fill="#ebe3f2"/><rect x="136.40" y="146.0" width="1.90" height="24.0" fill="#c8c2e7"/><rect x="138.00" y="146.0" width="1.30" height="24.0" fill="#ddd5ee"/><rect x="139.00" y="146.0" width="1.90" height="24.0" fill="#d8d1ec"/><rect x="140.60" y="146.0" width="2.90" height="24.0" fill="#f7c9d0"/><rect x="143.20" y="146.0" width="2.90" height="24.0" fill="#f1e4f0"/><rect x="145.80" y="146.0" width="1.30" height="24.0" fill="#f2e0eb"/><rect x="146.80" y="146.0" width="3.30" height="24.0" fill="#f1e3ee"/><rect x="149.80" y="146.0" width="2.20" height="24.0" fill="#f7aeb1"/><rect x="151.70" y="146.0" width="2.50" height="24.0" fill="#f6cdd5"/><rect x="153.90" y="146.0" width="2.50" height="24.0" fill="#f2e0eb"/><rect x="156.10" y="146.0" width="2.20" height="24.0" fill="#f5d2db"/><rect x="158.00" y="146.0" width="2.20" height="24.0" fill="#e6def1"/><rect x="159.90" y="146.0" width="2.90" height="24.0" fill="#9d95d3"/><rect x="162.50" y="146.0" width="1.30" height="24.0" fill="#9991d1"/><rect x="163.50" y="146.0" width="3.30" height="24.0" fill="#a39bd6"/><rect x="166.50" y="146.0" width="1.60" height="24.0" fill="#8076c2"/><rect x="167.80" y="146.0" width="1.60" height="24.0" fill="#837ac4"/><rect x="169.10" y="146.0" width="1.60" height="24.0" fill="#aca5da"/><rect x="170.40" y="146.0" width="3.30" height="24.0" fill="#f1e4ef"/><rect x="173.40" y="146.0" width="1.60" height="24.0" fill="#cac4e7"/><rect x="174.70" y="146.0" width="3.30" height="24.0" fill="#8e86cb"/><rect x="177.70" y="146.0" width="3.30" height="24.0" fill="#b9b3e0"/><rect x="180.70" y="146.0" width="1.90" height="24.0" fill="#f4d7e0"/><rect x="182.30" y="146.0" width="1.90" height="24.0" fill="#f7abad"/><rect x="183.90" y="146.0" width="2.90" height="24.0" fill="#f69c9d"/><rect x="186.50" y="146.0" width="2.90" height="24.0" fill="#f7a7a9"/><rect x="189.10" y="146.0" width="1.90" height="24.0" fill="#f3dce6"/><rect x="190.70" y="146.0" width="2.20" height="24.0" fill="#cdc7e8"/><rect x="192.60" y="146.0" width="1.60" height="24.0" fill="#bbb5e1"/><rect x="193.90" y="146.0" width="2.90" height="24.0" fill="#a69ed7"/><rect x="196.50" y="146.0" width="2.20" height="24.0" fill="#c9c2e7"/><rect x="198.40" y="146.0" width="1.90" height="24.0" fill="#8d85cb"/><rect x="200.00" y="146.0" width="2.50" height="24.0" fill="#d3cdea"/><rect x="202.20" y="146.0" width="2.50" height="24.0" fill="#dcd5ed"/><rect x="204.40" y="146.0" width="1.90" height="24.0" fill="#c6c0e6"/><rect x="206.00" y="146.0" width="1.90" height="24.0" fill="#d4cdeb"/><rect x="207.60" y="146.0" width="2.90" height="24.0" fill="#f3dce6"/><rect x="210.20" y="146.0" width="2.90" height="24.0" fill="#f4898b"/><rect x="212.80" y="146.0" width="2.20" height="24.0" fill="#f7aeb1"/><rect x="214.70" y="146.0" width="2.50" height="24.0" fill="#f5d1da"/><rect x="216.90" y="146.0" width="3.30" height="24.0" fill="#f7cad1"/><rect x="219.90" y="146.0" width="1.70" height="24.0" fill="#f0e8f4"/><rect x="131.00" y="170.0" width="2.90" height="24.0" fill="#f4d5de"/><rect x="133.60" y="170.0" width="1.60" height="24.0" fill="#f6cbd2"/><rect x="134.90" y="170.0" width="2.20" height="24.0" fill="#f5d2da"/><rect x="136.80" y="170.0" width="2.90" height="24.0" fill="#eee6f3"/><rect x="139.40" y="170.0" width="1.60" height="24.0" fill="#f7b8bc"/><rect x="140.70" y="170.0" width="3.30" height="24.0" fill="#f8bec3"/><rect x="143.70" y="170.0" width="2.50" height="24.0" fill="#f7acae"/><rect x="145.90" y="170.0" width="1.60" height="24.0" fill="#f7cad0"/><rect x="147.20" y="170.0" width="1.90" height="24.0" fill="#f6cfd7"/><rect x="148.80" y="170.0" width="1.90" height="24.0" fill="#f7aeb1"/><rect x="150.40" y="170.0" width="1.30" height="24.0" fill="#f7b6ba"/><rect x="151.40" y="170.0" width="2.90" height="24.0" fill="#f8c6cd"/><rect x="154.00" y="170.0" width="1.60" height="24.0" fill="#f38386"/><rect x="155.30" y="170.0" width="2.20" height="24.0" fill="#f6cfd7"/><rect x="157.20" y="170.0" width="2.20" height="24.0" fill="#f69fa0"/><rect x="159.10" y="170.0" width="1.90" height="24.0" fill="#f69393"/><rect x="160.70" y="170.0" width="2.20" height="24.0" fill="#f7c8cf"/><rect x="162.60" y="170.0" width="1.30" height="24.0" fill="#f4d8e1"/><rect x="163.60" y="170.0" width="2.20" height="24.0" fill="#f5d0d8"/><rect x="165.50" y="170.0" width="2.90" height="24.0" fill="#f69a9a"/><rect x="168.10" y="170.0" width="3.30" height="24.0" fill="#eae2f2"/><rect x="171.10" y="170.0" width="2.90" height="24.0" fill="#f1e4ef"/><rect x="173.70" y="170.0" width="3.30" height="24.0" fill="#d8d1ec"/><rect x="176.70" y="170.0" width="1.90" height="24.0" fill="#b4aede"/><rect x="178.30" y="170.0" width="3.30" height="24.0" fill="#c7c1e6"/><rect x="181.30" y="170.0" width="1.30" height="24.0" fill="#d1caea"/><rect x="182.30" y="170.0" width="3.30" height="24.0" fill="#d1caea"/><rect x="185.30" y="170.0" width="3.30" height="24.0" fill="#b9b2e0"/><rect x="188.30" y="170.0" width="1.60" height="24.0" fill="#f4d8e1"/><rect x="189.60" y="170.0" width="1.60" height="24.0" fill="#f3dae3"/><rect x="190.90" y="170.0" width="1.90" height="24.0" fill="#f5d2da"/><rect x="192.50" y="170.0" width="2.90" height="24.0" fill="#f4d7e0"/><rect x="195.10" y="170.0" width="1.30" height="24.0" fill="#f69999"/><rect x="196.10" y="170.0" width="1.60" height="24.0" fill="#f7b8bd"/><rect x="197.40" y="170.0" width="2.90" height="24.0" fill="#c9c3e7"/><rect x="200.00" y="170.0" width="1.60" height="24.0" fill="#e5ddf0"/><rect x="201.30" y="170.0" width="2.20" height="24.0" fill="#bfb9e3"/><rect x="203.20" y="170.0" width="1.90" height="24.0" fill="#cbc5e8"/><rect x="204.80" y="170.0" width="1.30" height="24.0" fill="#a098d5"/><rect x="205.80" y="170.0" width="1.30" height="24.0" fill="#f1e4ef"/><rect x="206.80" y="170.0" width="1.90" height="24.0" fill="#a19ad5"/><rect x="208.40" y="170.0" width="2.50" height="24.0" fill="#f0e8f4"/><rect x="210.60" y="170.0" width="1.60" height="24.0" fill="#cac4e7"/><rect x="211.90" y="170.0" width="3.30" height="24.0" fill="#d1caea"/><rect x="214.90" y="170.0" width="3.30" height="24.0" fill="#bbb4e1"/><rect x="217.90" y="170.0" width="3.70" height="24.0" fill="#e0d9ef"/><rect x="131.00" y="194.0" width="2.50" height="24.0" fill="#938bce"/><rect x="133.20" y="194.0" width="1.60" height="24.0" fill="#beb8e2"/><rect x="134.50" y="194.0" width="2.90" height="24.0" fill="#938ace"/><rect x="137.10" y="194.0" width="3.30" height="24.0" fill="#a099d5"/><rect x="140.10" y="194.0" width="2.50" height="24.0" fill="#a69ed7"/><rect x="142.30" y="194.0" width="1.90" height="24.0" fill="#b7b0df"/><rect x="143.90" y="194.0" width="3.30" height="24.0" fill="#d5ceeb"/><rect x="146.90" y="194.0" width="1.90" height="24.0" fill="#9c94d3"/><rect x="148.50" y="194.0" width="2.50" height="24.0" fill="#cec8e9"/><rect x="150.70" y="194.0" width="1.90" height="24.0" fill="#877ec6"/><rect x="152.30" y="194.0" width="2.20" height="24.0" fill="#8077c2"/><rect x="154.20" y="194.0" width="3.30" height="24.0" fill="#766cbc"/><rect x="157.20" y="194.0" width="2.90" height="24.0" fill="#7f76c2"/><rect x="159.80" y="194.0" width="2.90" height="24.0" fill="#9a92d2"/><rect x="162.40" y="194.0" width="1.30" height="24.0" fill="#968ed0"/><rect x="163.40" y="194.0" width="2.50" height="24.0" fill="#d1caea"/><rect x="165.60" y="194.0" width="1.30" height="24.0" fill="#beb8e2"/><rect x="166.60" y="194.0" width="3.30" height="24.0" fill="#948bce"/><rect x="169.60" y="194.0" width="3.30" height="24.0" fill="#8f87cc"/><rect x="172.60" y="194.0" width="2.50" height="24.0" fill="#a49dd7"/><rect x="174.80" y="194.0" width="2.20" height="24.0" fill="#e0d9ef"/><rect x="176.70" y="194.0" width="1.30" height="24.0" fill="#938bce"/><rect x="177.70" y="194.0" width="3.30" height="24.0" fill="#b3acdd"/><rect x="180.70" y="194.0" width="1.60" height="24.0" fill="#c8c2e7"/><rect x="182.00" y="194.0" width="2.50" height="24.0" fill="#cec7e9"/><rect x="184.20" y="194.0" width="1.90" height="24.0" fill="#eee6f3"/><rect x="185.80" y="194.0" width="2.20" height="24.0" fill="#cdc7e8"/><rect x="187.70" y="194.0" width="1.90" height="24.0" fill="#d8d2ec"/><rect x="189.30" y="194.0" width="2.50" height="24.0" fill="#d1caea"/><rect x="191.50" y="194.0" width="1.60" height="24.0" fill="#cfc8e9"/><rect x="192.80" y="194.0" width="1.60" height="24.0" fill="#d9d2ec"/><rect x="194.10" y="194.0" width="2.90" height="24.0" fill="#dfd8ee"/><rect x="196.70" y="194.0" width="1.60" height="24.0" fill="#f0e7f3"/><rect x="198.00" y="194.0" width="1.30" height="24.0" fill="#cac4e7"/><rect x="199.00" y="194.0" width="2.50" height="24.0" fill="#aba4da"/><rect x="201.20" y="194.0" width="1.30" height="24.0" fill="#aea7db"/><rect x="202.20" y="194.0" width="2.50" height="24.0" fill="#8d85ca"/><rect x="204.40" y="194.0" width="2.20" height="24.0" fill="#aca5da"/><rect x="206.30" y="194.0" width="1.90" height="24.0" fill="#877ec7"/><rect x="207.90" y="194.0" width="2.20" height="24.0" fill="#d4ceeb"/><rect x="209.80" y="194.0" width="2.20" height="24.0" fill="#cac4e7"/><rect x="211.70" y="194.0" width="1.60" height="24.0" fill="#b7b0df"/><rect x="213.00" y="194.0" width="2.50" height="24.0" fill="#9b93d2"/><rect x="215.20" y="194.0" width="1.90" height="24.0" fill="#9087cc"/><rect x="216.80" y="194.0" width="2.50" height="24.0" fill="#8f86cb"/><rect x="219.00" y="194.0" width="2.60" height="24.0" fill="#9790d1"/><rect x="131.00" y="218.0" width="2.20" height="24.0" fill="#dad3ed"/><rect x="132.90" y="218.0" width="2.20" height="24.0" fill="#9d96d3"/><rect x="134.80" y="218.0" width="3.30" height="24.0" fill="#cec7e9"/><rect x="137.80" y="218.0" width="2.20" height="24.0" fill="#b9b2e0"/><rect x="139.70" y="218.0" width="2.50" height="24.0" fill="#f7b0b3"/><rect x="141.90" y="218.0" width="1.30" height="24.0" fill="#e1daef"/><rect x="142.90" y="218.0" width="1.90" height="24.0" fill="#f8bdc3"/><rect x="144.50" y="218.0" width="3.30" height="24.0" fill="#f4d6df"/><rect x="147.50" y="218.0" width="3.30" height="24.0" fill="#f27d80"/><rect x="150.50" y="218.0" width="2.20" height="24.0" fill="#f7a9ab"/><rect x="152.40" y="218.0" width="2.20" height="24.0" fill="#f6ccd3"/><rect x="154.30" y="218.0" width="2.90" height="24.0" fill="#f8b9be"/><rect x="156.90" y="218.0" width="3.30" height="24.0" fill="#f69495"/><rect x="159.90" y="218.0" width="1.60" height="24.0" fill="#cec8e9"/><rect x="161.20" y="218.0" width="1.60" height="24.0" fill="#cfc9e9"/><rect x="162.50" y="218.0" width="2.20" height="24.0" fill="#c5bfe6"/><rect x="164.40" y="218.0" width="2.20" height="24.0" fill="#dad3ed"/><rect x="166.30" y="218.0" width="1.90" height="24.0" fill="#f5d1d9"/><rect x="167.90" y="218.0" width="2.90" height="24.0" fill="#c8c2e7"/><rect x="170.50" y="218.0" width="2.20" height="24.0" fill="#887fc7"/><rect x="172.40" y="218.0" width="2.90" height="24.0" fill="#b7b0df"/><rect x="175.00" y="218.0" width="2.20" height="24.0" fill="#b2abdd"/><rect x="176.90" y="218.0" width="2.20" height="24.0" fill="#ded7ee"/><rect x="178.80" y="218.0" width="2.20" height="24.0" fill="#a29ad5"/><rect x="180.70" y="218.0" width="1.60" height="24.0" fill="#9991d1"/><rect x="182.00" y="218.0" width="2.20" height="24.0" fill="#8a81c8"/><rect x="183.90" y="218.0" width="2.90" height="24.0" fill="#786ebd"/><rect x="186.50" y="218.0" width="2.50" height="24.0" fill="#b7b0df"/><rect x="188.70" y="218.0" width="2.20" height="24.0" fill="#8076c2"/><rect x="190.60" y="218.0" width="1.30" height="24.0" fill="#b9b2e0"/><rect x="191.60" y="218.0" width="3.30" height="24.0" fill="#9991d1"/><rect x="194.60" y="218.0" width="1.60" height="24.0" fill="#aea7db"/><rect x="195.90" y="218.0" width="1.60" height="24.0" fill="#aaa3d9"/><rect x="197.20" y="218.0" width="2.50" height="24.0" fill="#f1e6f1"/><rect x="199.40" y="218.0" width="1.60" height="24.0" fill="#f3dbe5"/><rect x="200.70" y="218.0" width="3.30" height="24.0" fill="#f48688"/><rect x="203.70" y="218.0" width="1.60" height="24.0" fill="#f7adb0"/><rect x="205.00" y="218.0" width="1.60" height="24.0" fill="#f7aeb1"/><rect x="206.30" y="218.0" width="2.50" height="24.0" fill="#f7b0b3"/><rect x="208.50" y="218.0" width="1.60" height="24.0" fill="#f7aaad"/><rect x="209.80" y="218.0" width="2.20" height="24.0" fill="#f48a8c"/><rect x="211.70" y="218.0" width="2.90" height="24.0" fill="#f8c4ca"/><rect x="214.30" y="218.0" width="3.30" height="24.0" fill="#f7cad0"/><rect x="217.30" y="218.0" width="1.90" height="24.0" fill="#f7abad"/><rect x="218.90" y="218.0" width="1.30" height="24.0" fill="#f27d80"/><rect x="219.90" y="218.0" width="1.70" height="24.0" fill="#f7b7bb"/><rect x="131.00" y="242.0" width="1.60" height="24.0" fill="#f0e7f2"/><rect x="132.30" y="242.0" width="1.90" height="24.0" fill="#f7b8bd"/><rect x="133.90" y="242.0" width="3.30" height="24.0" fill="#f58d8e"/><rect x="136.90" y="242.0" width="1.30" height="24.0" fill="#f7a7a9"/><rect x="137.90" y="242.0" width="2.50" height="24.0" fill="#f7b6bb"/><rect x="140.10" y="242.0" width="1.90" height="24.0" fill="#f8bec3"/><rect x="141.70" y="242.0" width="1.30" height="24.0" fill="#f7b1b5"/><rect x="142.70" y="242.0" width="3.30" height="24.0" fill="#f58d8e"/><rect x="145.70" y="242.0" width="1.90" height="24.0" fill="#f5d3db"/><rect x="147.30" y="242.0" width="1.90" height="24.0" fill="#f58f90"/><rect x="148.90" y="242.0" width="2.50" height="24.0" fill="#f2dee8"/><rect x="151.10" y="242.0" width="1.30" height="24.0" fill="#e2dbef"/><rect x="152.10" y="242.0" width="3.30" height="24.0" fill="#ede5f3"/><rect x="155.10" y="242.0" width="1.30" height="24.0" fill="#9b94d2"/><rect x="156.10" y="242.0" width="1.90" height="24.0" fill="#e1d9ef"/><rect x="157.70" y="242.0" width="3.30" height="24.0" fill="#d2ccea"/><rect x="160.70" y="242.0" width="2.20" height="24.0" fill="#8d85ca"/><rect x="162.60" y="242.0" width="1.90" height="24.0" fill="#968ed0"/><rect x="164.20" y="242.0" width="2.90" height="24.0" fill="#8178c3"/><rect x="166.80" y="242.0" width="3.30" height="24.0" fill="#8278c3"/><rect x="169.80" y="242.0" width="2.90" height="24.0" fill="#cac4e7"/><rect x="172.40" y="242.0" width="3.30" height="24.0" fill="#9890d1"/><rect x="175.40" y="242.0" width="2.90" height="24.0" fill="#9a92d2"/><rect x="178.00" y="242.0" width="2.90" height="24.0" fill="#928acd"/><rect x="180.60" y="242.0" width="2.50" height="24.0" fill="#f7c6cd"/><rect x="182.80" y="242.0" width="2.50" height="24.0" fill="#f7b3b6"/><rect x="185.00" y="242.0" width="3.30" height="24.0" fill="#f8bdc2"/><rect x="188.00" y="242.0" width="1.30" height="24.0" fill="#efe7f4"/><rect x="189.00" y="242.0" width="2.90" height="24.0" fill="#f69696"/><rect x="191.60" y="242.0" width="2.90" height="24.0" fill="#e9e2f2"/><rect x="194.20" y="242.0" width="2.50" height="24.0" fill="#f8c3c9"/><rect x="196.40" y="242.0" width="2.50" height="24.0" fill="#f4d8e2"/><rect x="198.60" y="242.0" width="2.50" height="24.0" fill="#a59dd7"/><rect x="200.80" y="242.0" width="1.30" height="24.0" fill="#8178c3"/><rect x="201.80" y="242.0" width="1.90" height="24.0" fill="#968ed0"/><rect x="203.40" y="242.0" width="1.60" height="24.0" fill="#8279c3"/><rect x="204.70" y="242.0" width="2.20" height="24.0" fill="#786ebd"/><rect x="206.60" y="242.0" width="1.90" height="24.0" fill="#aaa3d9"/><rect x="208.20" y="242.0" width="1.30" height="24.0" fill="#bfb9e3"/><rect x="209.20" y="242.0" width="1.60" height="24.0" fill="#bab3e0"/><rect x="210.50" y="242.0" width="3.30" height="24.0" fill="#c8c2e7"/><rect x="213.50" y="242.0" width="2.50" height="24.0" fill="#a19ad5"/><rect x="215.70" y="242.0" width="1.60" height="24.0" fill="#d2ccea"/><rect x="217.00" y="242.0" width="2.20" height="24.0" fill="#8c84ca"/><rect x="218.90" y="242.0" width="2.70" height="24.0" fill="#9f97d4"/><rect x="131.00" y="266.0" width="1.90" height="24.0" fill="#b2acdd"/><rect x="132.60" y="266.0" width="2.20" height="24.0" fill="#b0a9dc"/><rect x="134.50" y="266.0" width="2.20" height="24.0" fill="#aaa2d9"/><rect x="136.40" y="266.0" width="2.90" height="24.0" fill="#e1daef"/><rect x="139.00" y="266.0" width="1.90" height="24.0" fill="#948ccf"/><rect x="140.60" y="266.0" width="1.90" height="24.0" fill="#f8c2c8"/><rect x="142.20" y="266.0" width="1.90" height="24.0" fill="#e3dcf0"/><rect x="143.80" y="266.0" width="1.90" height="24.0" fill="#e3dcf0"/><rect x="145.40" y="266.0" width="2.20" height="24.0" fill="#cec8e9"/><rect x="147.30" y="266.0" width="3.30" height="24.0" fill="#e5def0"/><rect x="150.30" y="266.0" width="1.90" height="24.0" fill="#f1e4f0"/><rect x="151.90" y="266.0" width="2.20" height="24.0" fill="#f7acaf"/><rect x="153.80" y="266.0" width="3.30" height="24.0" fill="#f69e9f"/><rect x="156.80" y="266.0" width="2.50" height="24.0" fill="#f2e1ec"/><rect x="159.00" y="266.0" width="1.60" height="24.0" fill="#f69898"/><rect x="160.30" y="266.0" width="2.50" height="24.0" fill="#efe7f4"/><rect x="162.50" y="266.0" width="3.30" height="24.0" fill="#f38385"/><rect x="165.50" y="266.0" width="1.30" height="24.0" fill="#f8bfc4"/><rect x="166.50" y="266.0" width="3.30" height="24.0" fill="#958dd0"/><rect x="169.50" y="266.0" width="2.50" height="24.0" fill="#f8c6cd"/><rect x="171.70" y="266.0" width="2.20" height="24.0" fill="#f8bec3"/><rect x="173.60" y="266.0" width="2.50" height="24.0" fill="#f7b6ba"/><rect x="175.80" y="266.0" width="2.20" height="24.0" fill="#f2e1ec"/><rect x="177.70" y="266.0" width="2.20" height="24.0" fill="#f5d1d9"/><rect x="179.60" y="266.0" width="2.50" height="24.0" fill="#f0e8f4"/><rect x="181.80" y="266.0" width="1.60" height="24.0" fill="#f7b1b5"/><rect x="183.10" y="266.0" width="1.30" height="24.0" fill="#f5d2da"/><rect x="184.10" y="266.0" width="1.60" height="24.0" fill="#f8c5cb"/><rect x="185.40" y="266.0" width="1.30" height="24.0" fill="#f6a0a1"/><rect x="186.40" y="266.0" width="3.30" height="24.0" fill="#f59393"/><rect x="189.40" y="266.0" width="1.30" height="24.0" fill="#f1e4f0"/><rect x="190.40" y="266.0" width="1.30" height="24.0" fill="#f1e4ef"/><rect x="191.40" y="266.0" width="3.30" height="24.0" fill="#f0e7f3"/><rect x="194.40" y="266.0" width="2.90" height="24.0" fill="#e3dbf0"/><rect x="197.00" y="266.0" width="3.30" height="24.0" fill="#bdb6e2"/><rect x="200.00" y="266.0" width="1.60" height="24.0" fill="#ede6f3"/><rect x="201.30" y="266.0" width="1.30" height="24.0" fill="#e9e1f2"/><rect x="202.30" y="266.0" width="2.90" height="24.0" fill="#d1cbea"/><rect x="204.90" y="266.0" width="1.30" height="24.0" fill="#f1e5f0"/><rect x="205.90" y="266.0" width="1.60" height="24.0" fill="#f0e7f3"/><rect x="207.20" y="266.0" width="1.90" height="24.0" fill="#e6def1"/><rect x="208.80" y="266.0" width="2.20" height="24.0" fill="#f3dbe5"/><rect x="210.70" y="266.0" width="1.60" height="24.0" fill="#938bce"/><rect x="212.00" y="266.0" width="1.60" height="24.0" fill="#d3ccea"/><rect x="213.30" y="266.0" width="2.20" height="24.0" fill="#ded7ee"/><rect x="215.20" y="266.0" width="3.30" height="24.0" fill="#8980c8"/><rect x="218.20" y="266.0" width="1.60" height="24.0" fill="#c7c1e6"/><rect x="219.50" y="266.0" width="2.10" height="24.0" fill="#e5def0"/><rect x="222.70" y="98.0" width="1.60" height="24.0" fill="#f7a5a7"/><rect x="224.00" y="98.0" width="3.30" height="24.0" fill="#f4d7e0"/><rect x="227.00" y="98.0" width="2.50" height="24.0" fill="#f2dfe9"/><rect x="229.20" y="98.0" width="1.30" height="24.0" fill="#f0e6f2"/><rect x="230.20" y="98.0" width="1.30" height="24.0" fill="#f7a3a5"/><rect x="231.20" y="98.0" width="2.90" height="24.0" fill="#f7a8aa"/><rect x="233.80" y="98.0" width="1.90" height="24.0" fill="#f7aaad"/><rect x="235.40" y="98.0" width="1.60" height="24.0" fill="#f7a7a9"/><rect x="236.70" y="98.0" width="2.20" height="24.0" fill="#f69fa1"/><rect x="238.60" y="98.0" width="1.90" height="24.0" fill="#f7cad1"/><rect x="240.20" y="98.0" width="1.30" height="24.0" fill="#f4d8e2"/><rect x="241.20" y="98.0" width="2.20" height="24.0" fill="#f8bdc2"/><rect x="243.10" y="98.0" width="1.30" height="24.0" fill="#f8bfc4"/><rect x="244.10" y="98.0" width="2.20" height="24.0" fill="#f2dde7"/><rect x="246.00" y="98.0" width="1.30" height="24.0" fill="#f7b0b4"/><rect x="247.00" y="98.0" width="2.20" height="24.0" fill="#f5d2da"/><rect x="248.90" y="98.0" width="1.90" height="24.0" fill="#f7afb2"/><rect x="250.50" y="98.0" width="2.50" height="24.0" fill="#f8bbc0"/><rect x="252.70" y="98.0" width="3.30" height="24.0" fill="#f8c3c9"/><rect x="255.70" y="98.0" width="2.50" height="24.0" fill="#f7b8bc"/><rect x="257.90" y="98.0" width="2.50" height="24.0" fill="#f3d9e3"/><rect x="260.10" y="98.0" width="2.20" height="24.0" fill="#f38284"/><rect x="262.00" y="98.0" width="2.50" height="24.0" fill="#f4d4dd"/><rect x="264.20" y="98.0" width="1.90" height="24.0" fill="#f6ccd3"/><rect x="265.80" y="98.0" width="2.90" height="24.0" fill="#f0e8f4"/><rect x="268.40" y="98.0" width="1.60" height="24.0" fill="#f58f90"/><rect x="269.70" y="98.0" width="2.90" height="24.0" fill="#f4898a"/><rect x="272.30" y="98.0" width="2.50" height="24.0" fill="#f69696"/><rect x="274.50" y="98.0" width="3.30" height="24.0" fill="#f7c8ce"/><rect x="277.50" y="98.0" width="3.30" height="24.0" fill="#f27d80"/><rect x="280.50" y="98.0" width="2.50" height="24.0" fill="#f7c6cd"/><rect x="282.70" y="98.0" width="3.30" height="24.0" fill="#f8bbc0"/><rect x="285.70" y="98.0" width="2.10" height="24.0" fill="#f7c7ce"/><rect x="222.70" y="122.0" width="1.30" height="24.0" fill="#f7adb0"/><rect x="223.70" y="122.0" width="1.30" height="24.0" fill="#d7d0ec"/><rect x="224.70" y="122.0" width="2.90" height="24.0" fill="#f7c9d0"/><rect x="227.30" y="122.0" width="2.90" height="24.0" fill="#ebe4f2"/><rect x="229.90" y="122.0" width="1.90" height="24.0" fill="#f7cad1"/><rect x="231.50" y="122.0" width="2.50" height="24.0" fill="#f48789"/><rect x="233.70" y="122.0" width="3.30" height="24.0" fill="#f69999"/><rect x="236.70" y="122.0" width="2.20" height="24.0" fill="#f3dde7"/><rect x="238.60" y="122.0" width="3.30" height="24.0" fill="#f7aeb2"/><rect x="241.60" y="122.0" width="1.60" height="24.0" fill="#f6a1a2"/><rect x="242.90" y="122.0" width="1.60" height="24.0" fill="#f27d80"/><rect x="244.20" y="122.0" width="1.30" height="24.0" fill="#f2dfe9"/><rect x="245.20" y="122.0" width="1.60" height="24.0" fill="#f69b9c"/><rect x="246.50" y="122.0" width="2.90" height="24.0" fill="#f5d0d8"/><rect x="249.10" y="122.0" width="1.60" height="24.0" fill="#f7b6ba"/><rect x="250.40" y="122.0" width="1.90" height="24.0" fill="#f8bdc2"/><rect x="252.00" y="122.0" width="1.30" height="24.0" fill="#ede5f3"/><rect x="253.00" y="122.0" width="2.20" height="24.0" fill="#cbc4e8"/><rect x="254.90" y="122.0" width="1.90" height="24.0" fill="#f1e3ee"/><rect x="256.50" y="122.0" width="3.30" height="24.0" fill="#ddd6ee"/><rect x="259.50" y="122.0" width="1.90" height="24.0" fill="#f69e9f"/><rect x="261.10" y="122.0" width="2.90" height="24.0" fill="#f7abae"/><rect x="263.70" y="122.0" width="2.50" height="24.0" fill="#f8c5cb"/><rect x="265.90" y="122.0" width="2.90" height="24.0" fill="#f59292"/><rect x="268.50" y="122.0" width="2.50" height="24.0" fill="#f6ced6"/><rect x="270.70" y="122.0" width="1.30" height="24.0" fill="#f4d8e1"/><rect x="271.70" y="122.0" width="1.90" height="24.0" fill="#f8b9bd"/><rect x="273.30" y="122.0" width="1.90" height="24.0" fill="#f2dee9"/><rect x="274.90" y="122.0" width="2.90" height="24.0" fill="#f8c1c7"/><rect x="277.50" y="122.0" width="3.30" height="24.0" fill="#f8bcc1"/><rect x="280.50" y="122.0" width="2.90" height="24.0" fill="#f7a6a8"/><rect x="283.10" y="122.0" width="1.90" height="24.0" fill="#f2dee8"/><rect x="284.70" y="122.0" width="3.10" height="24.0" fill="#f7a9ac"/><rect x="222.70" y="146.0" width="3.30" height="24.0" fill="#c5bfe6"/><rect x="225.70" y="146.0" width="2.90" height="24.0" fill="#d2cbea"/><rect x="228.30" y="146.0" width="1.60" height="24.0" fill="#e8e1f1"/><rect x="229.60" y="146.0" width="2.20" height="24.0" fill="#f0e7f3"/><rect x="231.50" y="146.0" width="1.90" height="24.0" fill="#f1e6f1"/><rect x="233.10" y="146.0" width="1.90" height="24.0" fill="#f5d3dc"/><rect x="234.70" y="146.0" width="2.90" height="24.0" fill="#f8bcc1"/><rect x="237.30" y="146.0" width="2.20" height="24.0" fill="#f2e0eb"/><rect x="239.20" y="146.0" width="2.50" height="24.0" fill="#f2dee8"/><rect x="241.40" y="146.0" width="2.90" height="24.0" fill="#f0e8f4"/><rect x="244.00" y="146.0" width="1.90" height="24.0" fill="#f8c2c7"/><rect x="245.60" y="146.0" width="3.30" height="24.0" fill="#f59192"/><rect x="248.60" y="146.0" width="1.30" height="24.0" fill="#f8c5cc"/><rect x="249.60" y="146.0" width="1.90" height="24.0" fill="#f7b4b8"/><rect x="251.20" y="146.0" width="2.50" height="24.0" fill="#f59293"/><rect x="253.40" y="146.0" width="2.20" height="24.0" fill="#f7b0b4"/><rect x="255.30" y="146.0" width="2.50" height="24.0" fill="#f8c1c6"/><rect x="257.50" y="146.0" width="3.30" height="24.0" fill="#f59090"/><rect x="260.50" y="146.0" width="1.60" height="24.0" fill="#f7b4b8"/><rect x="261.80" y="146.0" width="1.60" height="24.0" fill="#f7c7cd"/><rect x="263.10" y="146.0" width="2.50" height="24.0" fill="#f1e5f1"/><rect x="265.30" y="146.0" width="3.30" height="24.0" fill="#f6ccd3"/><rect x="268.30" y="146.0" width="3.30" height="24.0" fill="#f3dce6"/><rect x="271.30" y="146.0" width="2.90" height="24.0" fill="#f3dae4"/><rect x="273.90" y="146.0" width="3.30" height="24.0" fill="#f8bdc2"/><rect x="276.90" y="146.0" width="3.30" height="24.0" fill="#f5d2da"/><rect x="279.90" y="146.0" width="1.90" height="24.0" fill="#f58d8e"/><rect x="281.50" y="146.0" width="3.30" height="24.0" fill="#f27d80"/><rect x="284.50" y="146.0" width="2.20" height="24.0" fill="#f7b4b8"/><rect x="286.40" y="146.0" width="1.40" height="24.0" fill="#f27e81"/><rect x="222.70" y="170.0" width="1.60" height="24.0" fill="#f27d80"/><rect x="224.00" y="170.0" width="3.30" height="24.0" fill="#f7b4b8"/><rect x="227.00" y="170.0" width="2.20" height="24.0" fill="#f7a7a9"/><rect x="228.90" y="170.0" width="1.90" height="24.0" fill="#f6ccd3"/><rect x="230.50" y="170.0" width="1.60" height="24.0" fill="#f1e2ed"/><rect x="231.80" y="170.0" width="3.30" height="24.0" fill="#f7a7a9"/><rect x="234.80" y="170.0" width="1.30" height="24.0" fill="#f8bbc0"/><rect x="235.80" y="170.0" width="3.30" height="24.0" fill="#f48c8d"/><rect x="238.80" y="170.0" width="1.30" height="24.0" fill="#f4d6df"/><rect x="239.80" y="170.0" width="1.30" height="24.0" fill="#f27d80"/><rect x="240.80" y="170.0" width="1.60" height="24.0" fill="#f8c1c6"/><rect x="242.10" y="170.0" width="1.90" height="24.0" fill="#f69a9a"/><rect x="243.70" y="170.0" width="2.20" height="24.0" fill="#f7b4b7"/><rect x="245.60" y="170.0" width="2.20" height="24.0" fill="#f3d9e2"/><rect x="247.50" y="170.0" width="1.30" height="24.0" fill="#f8babf"/><rect x="248.50" y="170.0" width="3.30" height="24.0" fill="#f8bbc0"/><rect x="251.50" y="170.0" width="1.90" height="24.0" fill="#cac3e7"/><rect x="253.10" y="170.0" width="1.30" height="24.0" fill="#c9c3e7"/><rect x="254.10" y="170.0" width="2.50" height="24.0" fill="#e6def1"/><rect x="256.30" y="170.0" width="2.90" height="24.0" fill="#ece5f3"/><rect x="258.90" y="170.0" width="1.60" height="24.0" fill="#f8c0c6"/><rect x="260.20" y="170.0" width="3.30" height="24.0" fill="#f6ccd3"/><rect x="263.20" y="170.0" width="3.30" height="24.0" fill="#d3ccea"/><rect x="266.20" y="170.0" width="1.60" height="24.0" fill="#f3dde7"/><rect x="267.50" y="170.0" width="2.90" height="24.0" fill="#f2e0ea"/><rect x="270.10" y="170.0" width="1.60" height="24.0" fill="#f8c2c8"/><rect x="271.40" y="170.0" width="2.50" height="24.0" fill="#f2dfea"/><rect x="273.60" y="170.0" width="1.90" height="24.0" fill="#f7a3a5"/><rect x="275.20" y="170.0" width="1.90" height="24.0" fill="#f3dbe5"/><rect x="276.80" y="170.0" width="2.20" height="24.0" fill="#dbd4ed"/><rect x="278.70" y="170.0" width="2.20" height="24.0" fill="#eae2f2"/><rect x="280.60" y="170.0" width="2.90" height="24.0" fill="#f4d5de"/><rect x="283.20" y="170.0" width="1.90" height="24.0" fill="#f4d4dd"/><rect x="284.80" y="170.0" width="1.90" height="24.0" fill="#d9d2ec"/><rect x="286.40" y="170.0" width="1.40" height="24.0" fill="#f1e5f0"/><rect x="222.70" y="194.0" width="2.90" height="24.0" fill="#ccc6e8"/><rect x="225.30" y="194.0" width="2.90" height="24.0" fill="#f5d0d8"/><rect x="227.90" y="194.0" width="1.60" height="24.0" fill="#f6cdd5"/><rect x="229.20" y="194.0" width="2.50" height="24.0" fill="#b0aadc"/><rect x="231.40" y="194.0" width="2.20" height="24.0" fill="#f4d4dd"/><rect x="233.30" y="194.0" width="2.20" height="24.0" fill="#f7a8aa"/><rect x="235.20" y="194.0" width="2.90" height="24.0" fill="#aea7db"/><rect x="237.80" y="194.0" width="2.50" height="24.0" fill="#f8bdc2"/><rect x="240.00" y="194.0" width="2.90" height="24.0" fill="#f69a9b"/><rect x="242.60" y="194.0" width="2.20" height="24.0" fill="#f59091"/><rect x="244.50" y="194.0" width="2.50" height="24.0" fill="#f69fa0"/><rect x="246.70" y="194.0" width="1.30" height="24.0" fill="#f8b9bd"/><rect x="247.70" y="194.0" width="1.90" height="24.0" fill="#f7a6a8"/><rect x="249.30" y="194.0" width="1.30" height="24.0" fill="#f6ced6"/><rect x="250.30" y="194.0" width="2.50" height="24.0" fill="#f3d9e3"/><rect x="252.50" y="194.0" width="3.30" height="24.0" fill="#f3d9e2"/><rect x="255.50" y="194.0" width="2.50" height="24.0" fill="#f7aeb2"/><rect x="257.70" y="194.0" width="2.20" height="24.0" fill="#d3ccea"/><rect x="259.60" y="194.0" width="2.20" height="24.0" fill="#f7a2a3"/><rect x="261.50" y="194.0" width="1.60" height="24.0" fill="#f5d2da"/><rect x="262.80" y="194.0" width="1.90" height="24.0" fill="#eae3f2"/><rect x="264.40" y="194.0" width="3.30" height="24.0" fill="#d6cfeb"/><rect x="267.40" y="194.0" width="1.90" height="24.0" fill="#e4ddf0"/><rect x="269.00" y="194.0" width="2.20" height="24.0" fill="#dcd5ed"/><rect x="270.90" y="194.0" width="1.90" height="24.0" fill="#f8bec3"/><rect x="272.50" y="194.0" width="2.90" height="24.0" fill="#f6cdd4"/><rect x="275.10" y="194.0" width="3.30" height="24.0" fill="#f2e0eb"/><rect x="278.10" y="194.0" width="1.30" height="24.0" fill="#f1e4ef"/><rect x="279.10" y="194.0" width="2.50" height="24.0" fill="#f8bcc1"/><rect x="281.30" y="194.0" width="1.90" height="24.0" fill="#f7aeb1"/><rect x="282.90" y="194.0" width="2.50" height="24.0" fill="#f8bfc5"/><rect x="285.10" y="194.0" width="2.20" height="24.0" fill="#f59191"/><rect x="287.00" y="194.0" width="0.80" height="24.0" fill="#f4d7e1"/><rect x="222.70" y="218.0" width="3.30" height="24.0" fill="#f27d80"/><rect x="225.70" y="218.0" width="1.30" height="24.0" fill="#f7b5b9"/><rect x="226.70" y="218.0" width="3.30" height="24.0" fill="#f7adb0"/><rect x="229.70" y="218.0" width="1.30" height="24.0" fill="#f6a1a2"/><rect x="230.70" y="218.0" width="2.20" height="24.0" fill="#f3d9e3"/><rect x="232.60" y="218.0" width="1.30" height="24.0" fill="#f58f90"/><rect x="233.60" y="218.0" width="2.50" height="24.0" fill="#f4d7e0"/><rect x="235.80" y="218.0" width="1.60" height="24.0" fill="#f8c6cc"/><rect x="237.10" y="218.0" width="2.90" height="24.0" fill="#f7b5b9"/><rect x="239.70" y="218.0" width="2.20" height="24.0" fill="#f8b9be"/><rect x="241.60" y="218.0" width="2.50" height="24.0" fill="#f4d6df"/><rect x="243.80" y="218.0" width="2.90" height="24.0" fill="#dfd8ee"/><rect x="246.40" y="218.0" width="2.50" height="24.0" fill="#f8c1c7"/><rect x="248.60" y="218.0" width="1.60" height="24.0" fill="#cfc8e9"/><rect x="249.90" y="218.0" width="1.90" height="24.0" fill="#ece4f3"/><rect x="251.50" y="218.0" width="2.50" height="24.0" fill="#f6cfd7"/><rect x="253.70" y="218.0" width="1.60" height="24.0" fill="#cec7e9"/><rect x="255.00" y="218.0" width="1.90" height="24.0" fill="#beb8e3"/><rect x="256.60" y="218.0" width="2.90" height="24.0" fill="#ddd6ee"/><rect x="259.20" y="218.0" width="1.90" height="24.0" fill="#f6ccd3"/><rect x="260.80" y="218.0" width="3.30" height="24.0" fill="#f3d9e2"/><rect x="263.80" y="218.0" width="1.30" height="24.0" fill="#f69b9b"/><rect x="264.80" y="218.0" width="1.30" height="24.0" fill="#f27d80"/><rect x="265.80" y="218.0" width="1.90" height="24.0" fill="#f69b9c"/><rect x="267.40" y="218.0" width="3.30" height="24.0" fill="#f7a8aa"/><rect x="270.40" y="218.0" width="2.90" height="24.0" fill="#f1e5f1"/><rect x="273.00" y="218.0" width="2.20" height="24.0" fill="#f3dae4"/><rect x="274.90" y="218.0" width="1.90" height="24.0" fill="#f5d3dc"/><rect x="276.50" y="218.0" width="2.90" height="24.0" fill="#f2dee9"/><rect x="279.10" y="218.0" width="3.30" height="24.0" fill="#f8bcc1"/><rect x="282.10" y="218.0" width="2.20" height="24.0" fill="#f7b0b3"/><rect x="284.00" y="218.0" width="1.60" height="24.0" fill="#f8bec3"/><rect x="285.30" y="218.0" width="1.30" height="24.0" fill="#f8bdc3"/><rect x="286.30" y="218.0" width="1.50" height="24.0" fill="#f7acaf"/><rect x="222.70" y="242.0" width="1.30" height="24.0" fill="#bdb7e2"/><rect x="223.70" y="242.0" width="1.90" height="24.0" fill="#afa8db"/><rect x="225.30" y="242.0" width="1.60" height="24.0" fill="#cec7e9"/><rect x="226.60" y="242.0" width="1.30" height="24.0" fill="#a098d5"/><rect x="227.60" y="242.0" width="1.30" height="24.0" fill="#bbb5e1"/><rect x="228.60" y="242.0" width="2.90" height="24.0" fill="#c0bae3"/><rect x="231.20" y="242.0" width="2.90" height="24.0" fill="#f48a8c"/><rect x="233.80" y="242.0" width="2.20" height="24.0" fill="#d5ceeb"/><rect x="235.70" y="242.0" width="2.50" height="24.0" fill="#f8bfc5"/><rect x="237.90" y="242.0" width="1.60" height="24.0" fill="#f2dde8"/><rect x="239.20" y="242.0" width="2.50" height="24.0" fill="#f2dfea"/><rect x="241.40" y="242.0" width="2.20" height="24.0" fill="#f7b0b4"/><rect x="243.30" y="242.0" width="1.30" height="24.0" fill="#f59192"/><rect x="244.30" y="242.0" width="2.90" height="24.0" fill="#f7a3a5"/><rect x="246.90" y="242.0" width="2.90" height="24.0" fill="#f5d0d8"/><rect x="249.50" y="242.0" width="1.60" height="24.0" fill="#f5d0d7"/><rect x="250.80" y="242.0" width="1.60" height="24.0" fill="#f4d6df"/><rect x="252.10" y="242.0" width="3.30" height="24.0" fill="#f7abae"/><rect x="255.10" y="242.0" width="1.90" height="24.0" fill="#f4d6df"/><rect x="256.70" y="242.0" width="1.90" height="24.0" fill="#e5ddf0"/><rect x="258.30" y="242.0" width="2.50" height="24.0" fill="#f38183"/><rect x="260.50" y="242.0" width="1.60" height="24.0" fill="#f2dee9"/><rect x="261.80" y="242.0" width="1.30" height="24.0" fill="#f3dae3"/><rect x="262.80" y="242.0" width="2.90" height="24.0" fill="#f3d9e3"/><rect x="265.40" y="242.0" width="2.50" height="24.0" fill="#dbd4ed"/><rect x="267.60" y="242.0" width="3.30" height="24.0" fill="#f0e6f2"/><rect x="270.60" y="242.0" width="2.50" height="24.0" fill="#f2e0ea"/><rect x="272.80" y="242.0" width="2.50" height="24.0" fill="#f0e8f4"/><rect x="275.00" y="242.0" width="2.90" height="24.0" fill="#958dcf"/><rect x="277.60" y="242.0" width="2.20" height="24.0" fill="#f8c0c5"/><rect x="279.50" y="242.0" width="2.50" height="24.0" fill="#f8c6cc"/><rect x="281.70" y="242.0" width="2.90" height="24.0" fill="#f3d9e2"/><rect x="284.30" y="242.0" width="2.20" height="24.0" fill="#d6cfeb"/><rect x="286.20" y="242.0" width="1.60" height="24.0" fill="#e7dff1"/><rect x="222.70" y="266.0" width="1.60" height="24.0" fill="#9e96d4"/><rect x="224.00" y="266.0" width="2.90" height="24.0" fill="#9189cd"/><rect x="226.60" y="266.0" width="1.60" height="24.0" fill="#c4bee5"/><rect x="227.90" y="266.0" width="1.30" height="24.0" fill="#b3acdd"/><rect x="228.90" y="266.0" width="1.30" height="24.0" fill="#aba4da"/><rect x="229.90" y="266.0" width="2.20" height="24.0" fill="#ede5f3"/><rect x="231.80" y="266.0" width="2.50" height="24.0" fill="#f27e81"/><rect x="234.00" y="266.0" width="1.60" height="24.0" fill="#f8babe"/><rect x="235.30" y="266.0" width="1.30" height="24.0" fill="#f7aaac"/><rect x="236.30" y="266.0" width="2.50" height="24.0" fill="#f6cbd2"/><rect x="238.50" y="266.0" width="1.30" height="24.0" fill="#f7b4b8"/><rect x="239.50" y="266.0" width="2.90" height="24.0" fill="#f8bcc1"/><rect x="242.10" y="266.0" width="1.90" height="24.0" fill="#f6cdd5"/><rect x="243.70" y="266.0" width="1.90" height="24.0" fill="#f7a3a5"/><rect x="245.30" y="266.0" width="2.20" height="24.0" fill="#f6cbd2"/><rect x="247.20" y="266.0" width="1.30" height="24.0" fill="#f4888a"/><rect x="248.20" y="266.0" width="1.30" height="24.0" fill="#f59393"/><rect x="249.20" y="266.0" width="3.30" height="24.0" fill="#e0d9ef"/><rect x="252.20" y="266.0" width="1.30" height="24.0" fill="#f6cbd2"/><rect x="253.20" y="266.0" width="1.90" height="24.0" fill="#f8c5cb"/><rect x="254.80" y="266.0" width="1.60" height="24.0" fill="#f7a5a7"/><rect x="256.10" y="266.0" width="1.60" height="24.0" fill="#f3d8e2"/><rect x="257.40" y="266.0" width="2.90" height="24.0" fill="#f4d5de"/><rect x="260.00" y="266.0" width="1.90" height="24.0" fill="#f7b8bc"/><rect x="261.60" y="266.0" width="1.30" height="24.0" fill="#c7c1e6"/><rect x="262.60" y="266.0" width="2.20" height="24.0" fill="#eae2f2"/><rect x="264.50" y="266.0" width="3.30" height="24.0" fill="#f7a6a8"/><rect x="267.50" y="266.0" width="1.30" height="24.0" fill="#f4d8e1"/><rect x="268.50" y="266.0" width="1.60" height="24.0" fill="#f8b9bd"/><rect x="269.80" y="266.0" width="2.90" height="24.0" fill="#f48b8d"/><rect x="272.40" y="266.0" width="2.20" height="24.0" fill="#f27d80"/><rect x="274.30" y="266.0" width="1.90" height="24.0" fill="#f27e81"/><rect x="275.90" y="266.0" width="2.90" height="24.0" fill="#f7c7ce"/><rect x="278.50" y="266.0" width="1.60" height="24.0" fill="#f7c9cf"/><rect x="279.80" y="266.0" width="2.20" height="24.0" fill="#f6cbd2"/><rect x="281.70" y="266.0" width="2.50" height="24.0" fill="#f8bdc2"/><rect x="283.90" y="266.0" width="2.90" height="24.0" fill="#e9e1f2"/><rect x="286.50" y="266.0" width="1.30" height="24.0" fill="#f27d80"/><rect x="289.00" y="98.0" width="1.90" height="24.0" fill="#cec8e9"/><rect x="290.60" y="98.0" width="1.30" height="24.0" fill="#efe7f4"/><rect x="291.60" y="98.0" width="1.60" height="24.0" fill="#aba4da"/><rect x="292.90" y="98.0" width="1.90" height="24.0" fill="#f5d3dc"/><rect x="294.50" y="98.0" width="1.30" height="24.0" fill="#e0d9ef"/><rect x="295.50" y="98.0" width="2.90" height="24.0" fill="#f2dfea"/><rect x="298.10" y="98.0" width="2.50" height="24.0" fill="#f6ccd3"/><rect x="300.30" y="98.0" width="2.20" height="24.0" fill="#f69494"/><rect x="302.20" y="98.0" width="3.30" height="24.0" fill="#f1e6f1"/><rect x="305.20" y="98.0" width="1.90" height="24.0" fill="#f69394"/><rect x="306.80" y="98.0" width="2.50" height="24.0" fill="#f6ced6"/><rect x="309.00" y="98.0" width="3.30" height="24.0" fill="#ebe3f2"/><rect x="312.00" y="98.0" width="1.30" height="24.0" fill="#f8c4ca"/><rect x="313.00" y="98.0" width="3.30" height="24.0" fill="#f4d6df"/><rect x="316.00" y="98.0" width="2.90" height="24.0" fill="#f8c4ca"/><rect x="318.60" y="98.0" width="1.30" height="24.0" fill="#e1daef"/><rect x="319.60" y="98.0" width="2.50" height="24.0" fill="#f3dde7"/><rect x="321.80" y="98.0" width="2.90" height="24.0" fill="#f4d6df"/><rect x="324.40" y="98.0" width="1.30" height="24.0" fill="#e5def0"/><rect x="325.40" y="98.0" width="1.90" height="24.0" fill="#f8babf"/><rect x="327.00" y="98.0" width="3.30" height="24.0" fill="#e1d9ef"/><rect x="330.00" y="98.0" width="1.90" height="24.0" fill="#f6cfd6"/><rect x="331.60" y="98.0" width="2.50" height="24.0" fill="#f69898"/><rect x="333.80" y="98.0" width="1.30" height="24.0" fill="#e9e2f2"/><rect x="334.80" y="98.0" width="2.90" height="24.0" fill="#ece4f3"/><rect x="337.40" y="98.0" width="1.60" height="24.0" fill="#f7b5b9"/><rect x="338.70" y="98.0" width="2.50" height="24.0" fill="#f7b3b7"/><rect x="340.90" y="98.0" width="2.90" height="24.0" fill="#f8c6cc"/><rect x="343.50" y="98.0" width="1.60" height="24.0" fill="#f8c1c6"/><rect x="344.80" y="98.0" width="2.20" height="24.0" fill="#e1daef"/><rect x="346.70" y="98.0" width="1.60" height="24.0" fill="#f8bec3"/><rect x="348.00" y="98.0" width="1.60" height="24.0" fill="#f7a9ac"/><rect x="289.00" y="122.0" width="1.30" height="24.0" fill="#f8c3c9"/><rect x="290.00" y="122.0" width="3.30" height="24.0" fill="#f5d1d9"/><rect x="293.00" y="122.0" width="1.30" height="24.0" fill="#f58e8f"/><rect x="294.00" y="122.0" width="2.20" height="24.0" fill="#f3dce6"/><rect x="295.90" y="122.0" width="1.90" height="24.0" fill="#f58d8e"/><rect x="297.50" y="122.0" width="1.30" height="24.0" fill="#f6a0a1"/><rect x="298.50" y="122.0" width="1.60" height="24.0" fill="#f3dce6"/><rect x="299.80" y="122.0" width="1.60" height="24.0" fill="#f1e5f0"/><rect x="301.10" y="122.0" width="2.20" height="24.0" fill="#f69696"/><rect x="303.00" y="122.0" width="1.90" height="24.0" fill="#f58d8e"/><rect x="304.60" y="122.0" width="2.90" height="24.0" fill="#f27d80"/><rect x="307.20" y="122.0" width="1.90" height="24.0" fill="#f6a0a1"/><rect x="308.80" y="122.0" width="2.50" height="24.0" fill="#f5d4dc"/><rect x="311.00" y="122.0" width="2.90" height="24.0" fill="#f59393"/><rect x="313.60" y="122.0" width="2.90" height="24.0" fill="#ddd6ee"/><rect x="316.20" y="122.0" width="1.90" height="24.0" fill="#dfd8ee"/><rect x="317.80" y="122.0" width="2.90" height="24.0" fill="#c9c3e7"/><rect x="320.40" y="122.0" width="2.20" height="24.0" fill="#8980c8"/><rect x="322.30" y="122.0" width="1.90" height="24.0" fill="#968ed0"/><rect x="323.90" y="122.0" width="2.20" height="24.0" fill="#f0e7f3"/><rect x="325.80" y="122.0" width="2.90" height="24.0" fill="#f7b0b3"/><rect x="328.40" y="122.0" width="3.30" height="24.0" fill="#f69e9f"/><rect x="331.40" y="122.0" width="2.50" height="24.0" fill="#f4d7e0"/><rect x="333.60" y="122.0" width="1.60" height="24.0" fill="#ede5f3"/><rect x="334.90" y="122.0" width="2.50" height="24.0" fill="#f8b9bd"/><rect x="337.10" y="122.0" width="3.30" height="24.0" fill="#f8c4ca"/><rect x="340.10" y="122.0" width="3.30" height="24.0" fill="#f2e0eb"/><rect x="343.10" y="122.0" width="2.50" height="24.0" fill="#f8c2c8"/><rect x="345.30" y="122.0" width="2.50" height="24.0" fill="#f6cbd2"/><rect x="347.50" y="122.0" width="2.10" height="24.0" fill="#f7b7bb"/><rect x="289.00" y="146.0" width="2.90" height="24.0" fill="#f7a7a9"/><rect x="291.60" y="146.0" width="3.30" height="24.0" fill="#f2dee8"/><rect x="294.60" y="146.0" width="2.50" height="24.0" fill="#f7a5a6"/><rect x="296.80" y="146.0" width="2.50" height="24.0" fill="#f27d80"/><rect x="299.00" y="146.0" width="1.30" height="24.0" fill="#f4d8e1"/><rect x="300.00" y="146.0" width="1.60" height="24.0" fill="#f4d7e0"/><rect x="301.30" y="146.0" width="1.90" height="24.0" fill="#f5d0d7"/><rect x="302.90" y="146.0" width="1.60" height="24.0" fill="#f69fa0"/><rect x="304.20" y="146.0" width="2.20" height="24.0" fill="#f3d9e2"/><rect x="306.10" y="146.0" width="1.60" height="24.0" fill="#f8c4ca"/><rect x="307.40" y="146.0" width="1.30" height="24.0" fill="#f7abae"/><rect x="308.40" y="146.0" width="2.50" height="24.0" fill="#f7cad2"/><rect x="310.60" y="146.0" width="3.30" height="24.0" fill="#bfb8e3"/><rect x="313.60" y="146.0" width="3.30" height="24.0" fill="#cec8e9"/><rect x="316.60" y="146.0" width="2.50" height="24.0" fill="#948ccf"/><rect x="318.80" y="146.0" width="1.60" height="24.0" fill="#e9e2f2"/><rect x="320.10" y="146.0" width="2.90" height="24.0" fill="#c1bae4"/><rect x="322.70" y="146.0" width="3.30" height="24.0" fill="#c5bfe6"/><rect x="325.70" y="146.0" width="1.30" height="24.0" fill="#bcb5e1"/><rect x="326.70" y="146.0" width="1.90" height="24.0" fill="#b1aadc"/><rect x="328.30" y="146.0" width="3.30" height="24.0" fill="#b8b2e0"/><rect x="331.30" y="146.0" width="2.50" height="24.0" fill="#a8a1d8"/><rect x="333.50" y="146.0" width="2.90" height="24.0" fill="#e2daef"/><rect x="336.10" y="146.0" width="1.90" height="24.0" fill="#f8babf"/><rect x="337.70" y="146.0" width="1.60" height="24.0" fill="#f7adb0"/><rect x="339.00" y="146.0" width="3.30" height="24.0" fill="#f7b4b8"/><rect x="342.00" y="146.0" width="3.30" height="24.0" fill="#f8bfc4"/><rect x="345.00" y="146.0" width="1.30" height="24.0" fill="#f7aeb1"/><rect x="346.00" y="146.0" width="2.50" height="24.0" fill="#f69d9e"/><rect x="348.20" y="146.0" width="1.40" height="24.0" fill="#f6ced6"/><rect x="289.00" y="170.0" width="1.90" height="24.0" fill="#766cbc"/><rect x="290.60" y="170.0" width="1.60" height="24.0" fill="#766cbc"/><rect x="291.90" y="170.0" width="1.90" height="24.0" fill="#766cbc"/><rect x="293.50" y="170.0" width="1.90" height="24.0" fill="#a79fd8"/><rect x="295.10" y="170.0" width="1.60" height="24.0" fill="#847bc5"/><rect x="296.40" y="170.0" width="1.90" height="24.0" fill="#766cbc"/><rect x="298.00" y="170.0" width="2.50" height="24.0" fill="#766cbc"/><rect x="300.20" y="170.0" width="2.50" height="24.0" fill="#7f76c2"/><rect x="302.40" y="170.0" width="1.90" height="24.0" fill="#766cbc"/><rect x="304.00" y="170.0" width="1.90" height="24.0" fill="#948bce"/><rect x="305.60" y="170.0" width="2.20" height="24.0" fill="#f4d7e0"/><rect x="307.50" y="170.0" width="1.60" height="24.0" fill="#f2dfea"/><rect x="308.80" y="170.0" width="2.20" height="24.0" fill="#f7c8cf"/><rect x="310.70" y="170.0" width="3.30" height="24.0" fill="#f2dfe9"/><rect x="313.70" y="170.0" width="2.20" height="24.0" fill="#f8bdc2"/><rect x="315.60" y="170.0" width="2.50" height="24.0" fill="#f5d1d9"/><rect x="317.80" y="170.0" width="3.30" height="24.0" fill="#f69595"/><rect x="320.80" y="170.0" width="2.90" height="24.0" fill="#f8c4c9"/><rect x="323.40" y="170.0" width="1.90" height="24.0" fill="#f7b2b6"/><rect x="325.00" y="170.0" width="2.90" height="24.0" fill="#f6999a"/><rect x="327.60" y="170.0" width="2.20" height="24.0" fill="#f4888a"/><rect x="329.50" y="170.0" width="1.30" height="24.0" fill="#f7b5ba"/><rect x="330.50" y="170.0" width="1.30" height="24.0" fill="#f3dce6"/><rect x="331.50" y="170.0" width="3.30" height="24.0" fill="#f69e9f"/><rect x="334.50" y="170.0" width="3.30" height="24.0" fill="#f7b5b9"/><rect x="337.50" y="170.0" width="2.20" height="24.0" fill="#f8babf"/><rect x="339.40" y="170.0" width="1.60" height="24.0" fill="#f38184"/><rect x="340.70" y="170.0" width="2.20" height="24.0" fill="#f4d4dd"/><rect x="342.60" y="170.0" width="1.30" height="24.0" fill="#f69595"/><rect x="343.60" y="170.0" width="1.60" height="24.0" fill="#f69495"/><rect x="344.90" y="170.0" width="2.20" height="24.0" fill="#f7b1b4"/><rect x="346.80" y="170.0" width="1.60" height="24.0" fill="#f59090"/><rect x="348.10" y="170.0" width="1.50" height="24.0" fill="#f7afb2"/><rect x="289.00" y="194.0" width="1.90" height="24.0" fill="#f7c6cd"/><rect x="290.60" y="194.0" width="3.30" height="24.0" fill="#f2dfea"/><rect x="293.60" y="194.0" width="2.90" height="24.0" fill="#f7adb0"/><rect x="296.20" y="194.0" width="1.60" height="24.0" fill="#f3dae4"/><rect x="297.50" y="194.0" width="3.30" height="24.0" fill="#f7acae"/><rect x="300.50" y="194.0" width="1.30" height="24.0" fill="#f8c1c7"/><rect x="301.50" y="194.0" width="3.30" height="24.0" fill="#f7c8cf"/><rect x="304.50" y="194.0" width="2.50" height="24.0" fill="#f69d9e"/><rect x="306.70" y="194.0" width="1.90" height="24.0" fill="#f69696"/><rect x="308.30" y="194.0" width="1.30" height="24.0" fill="#f38183"/><rect x="309.30" y="194.0" width="2.90" height="24.0" fill="#f7b0b4"/><rect x="311.90" y="194.0" width="1.60" height="24.0" fill="#f8c3c9"/><rect x="313.20" y="194.0" width="1.60" height="24.0" fill="#f27d80"/><rect x="314.50" y="194.0" width="2.20" height="24.0" fill="#f7a8aa"/><rect x="316.40" y="194.0" width="1.30" height="24.0" fill="#f3dae3"/><rect x="317.40" y="194.0" width="2.50" height="24.0" fill="#f3dde7"/><rect x="319.60" y="194.0" width="2.90" height="24.0" fill="#dcd5ed"/><rect x="322.20" y="194.0" width="1.60" height="24.0" fill="#f1e3ee"/><rect x="323.50" y="194.0" width="1.30" height="24.0" fill="#f7b8bc"/><rect x="324.50" y="194.0" width="1.30" height="24.0" fill="#ebe3f2"/><rect x="325.50" y="194.0" width="2.20" height="24.0" fill="#f38587"/><rect x="327.40" y="194.0" width="1.30" height="24.0" fill="#f2dde8"/><rect x="328.40" y="194.0" width="1.30" height="24.0" fill="#f6cdd5"/><rect x="329.40" y="194.0" width="3.30" height="24.0" fill="#f38184"/><rect x="332.40" y="194.0" width="1.60" height="24.0" fill="#e1d9ef"/><rect x="333.70" y="194.0" width="2.20" height="24.0" fill="#f7a5a7"/><rect x="335.60" y="194.0" width="1.60" height="24.0" fill="#f7c8cf"/><rect x="336.90" y="194.0" width="2.90" height="24.0" fill="#f2dfe9"/><rect x="339.50" y="194.0" width="1.60" height="24.0" fill="#e7dff1"/><rect x="340.80" y="194.0" width="1.90" height="24.0" fill="#e2daef"/><rect x="342.40" y="194.0" width="1.90" height="24.0" fill="#d9d3ec"/><rect x="344.00" y="194.0" width="2.90" height="24.0" fill="#f8c5cb"/><rect x="346.60" y="194.0" width="1.90" height="24.0" fill="#d1cbea"/><rect x="348.20" y="194.0" width="1.40" height="24.0" fill="#f8c1c6"/><rect x="289.00" y="218.0" width="2.50" height="24.0" fill="#8076c2"/><rect x="291.20" y="218.0" width="1.30" height="24.0" fill="#766cbc"/><rect x="292.20" y="218.0" width="1.60" height="24.0" fill="#766cbc"/><rect x="293.50" y="218.0" width="2.90" height="24.0" fill="#837ac4"/><rect x="296.10" y="218.0" width="1.60" height="24.0" fill="#8980c8"/><rect x="297.40" y="218.0" width="3.30" height="24.0" fill="#766cbc"/><rect x="300.40" y="218.0" width="1.60" height="24.0" fill="#766cbc"/><rect x="301.70" y="218.0" width="2.50" height="24.0" fill="#766cbc"/><rect x="303.90" y="218.0" width="1.30" height="24.0" fill="#837ac4"/><rect x="304.90" y="218.0" width="2.20" height="24.0" fill="#bfb9e3"/><rect x="306.80" y="218.0" width="1.30" height="24.0" fill="#f69696"/><rect x="307.80" y="218.0" width="2.20" height="24.0" fill="#f27d80"/><rect x="309.70" y="218.0" width="2.90" height="24.0" fill="#f7b7bb"/><rect x="312.30" y="218.0" width="1.90" height="24.0" fill="#f7afb2"/><rect x="313.90" y="218.0" width="1.60" height="24.0" fill="#f6ccd3"/><rect x="315.20" y="218.0" width="1.60" height="24.0" fill="#d3cdea"/><rect x="316.50" y="218.0" width="1.90" height="24.0" fill="#978fd1"/><rect x="318.10" y="218.0" width="2.90" height="24.0" fill="#aca5da"/><rect x="320.70" y="218.0" width="3.30" height="24.0" fill="#bdb6e2"/><rect x="323.70" y="218.0" width="3.30" height="24.0" fill="#dbd4ed"/><rect x="326.70" y="218.0" width="1.30" height="24.0" fill="#b8b2e0"/><rect x="327.70" y="218.0" width="3.30" height="24.0" fill="#eae3f2"/><rect x="330.70" y="218.0" width="2.50" height="24.0" fill="#dfd7ee"/><rect x="332.90" y="218.0" width="1.90" height="24.0" fill="#eee6f3"/><rect x="334.50" y="218.0" width="1.90" height="24.0" fill="#ded7ee"/><rect x="336.10" y="218.0" width="2.90" height="24.0" fill="#f0e7f3"/><rect x="338.70" y="218.0" width="1.60" height="24.0" fill="#f4d7e0"/><rect x="340.00" y="218.0" width="2.50" height="24.0" fill="#f7a6a8"/><rect x="342.20" y="218.0" width="3.30" height="24.0" fill="#f1e3ee"/><rect x="345.20" y="218.0" width="2.90" height="24.0" fill="#bcb6e2"/><rect x="347.80" y="218.0" width="1.80" height="24.0" fill="#e4dcf0"/><rect x="289.00" y="242.0" width="1.90" height="24.0" fill="#f4d5dd"/><rect x="290.60" y="242.0" width="1.90" height="24.0" fill="#f7a2a3"/><rect x="292.20" y="242.0" width="3.30" height="24.0" fill="#f7a7a9"/><rect x="295.20" y="242.0" width="2.50" height="24.0" fill="#f6ccd3"/><rect x="297.40" y="242.0" width="1.90" height="24.0" fill="#f8b9bd"/><rect x="299.00" y="242.0" width="1.90" height="24.0" fill="#f27d80"/><rect x="300.60" y="242.0" width="2.90" height="24.0" fill="#f4d7e0"/><rect x="303.20" y="242.0" width="1.60" height="24.0" fill="#f7b0b4"/><rect x="304.50" y="242.0" width="1.30" height="24.0" fill="#f8c5cb"/><rect x="305.50" y="242.0" width="2.20" height="24.0" fill="#f0e6f2"/><rect x="307.40" y="242.0" width="2.20" height="24.0" fill="#d2ccea"/><rect x="309.30" y="242.0" width="2.90" height="24.0" fill="#f7cad1"/><rect x="311.90" y="242.0" width="2.50" height="24.0" fill="#f27d80"/><rect x="314.10" y="242.0" width="2.20" height="24.0" fill="#f7b4b8"/><rect x="316.00" y="242.0" width="2.90" height="24.0" fill="#f8c2c8"/><rect x="318.60" y="242.0" width="1.60" height="24.0" fill="#f69e9f"/><rect x="319.90" y="242.0" width="1.90" height="24.0" fill="#f7a3a5"/><rect x="321.50" y="242.0" width="2.50" height="24.0" fill="#f7b0b4"/><rect x="323.70" y="242.0" width="1.60" height="24.0" fill="#f7c8cf"/><rect x="325.00" y="242.0" width="2.20" height="24.0" fill="#f3dbe5"/><rect x="326.90" y="242.0" width="1.90" height="24.0" fill="#f59091"/><rect x="328.50" y="242.0" width="1.60" height="24.0" fill="#f8bfc4"/><rect x="329.80" y="242.0" width="2.90" height="24.0" fill="#f0e6f2"/><rect x="332.40" y="242.0" width="2.90" height="24.0" fill="#f1e3ef"/><rect x="335.00" y="242.0" width="3.30" height="24.0" fill="#f5d0d7"/><rect x="338.00" y="242.0" width="3.30" height="24.0" fill="#f7b6ba"/><rect x="341.00" y="242.0" width="2.50" height="24.0" fill="#f59393"/><rect x="343.20" y="242.0" width="1.30" height="24.0" fill="#f8bec4"/><rect x="344.20" y="242.0" width="2.50" height="24.0" fill="#f69999"/><rect x="346.40" y="242.0" width="3.20" height="24.0" fill="#f6cdd4"/><rect x="289.00" y="266.0" width="2.20" height="24.0" fill="#ddd6ee"/><rect x="290.90" y="266.0" width="2.20" height="24.0" fill="#877ec6"/><rect x="292.80" y="266.0" width="2.90" height="24.0" fill="#867dc6"/><rect x="295.40" y="266.0" width="1.30" height="24.0" fill="#b4adde"/><rect x="296.40" y="266.0" width="2.50" height="24.0" fill="#e1daef"/><rect x="298.60" y="266.0" width="1.90" height="24.0" fill="#e8e0f1"/><rect x="300.20" y="266.0" width="1.90" height="24.0" fill="#b2abdd"/><rect x="301.80" y="266.0" width="1.60" height="24.0" fill="#d8d1ec"/><rect x="303.10" y="266.0" width="1.30" height="24.0" fill="#ede5f3"/><rect x="304.10" y="266.0" width="2.20" height="24.0" fill="#f0e8f4"/><rect x="306.00" y="266.0" width="1.30" height="24.0" fill="#d6cfeb"/><rect x="307.00" y="266.0" width="2.50" height="24.0" fill="#e0d9ef"/><rect x="309.20" y="266.0" width="1.30" height="24.0" fill="#c9c3e7"/><rect x="310.20" y="266.0" width="1.90" height="24.0" fill="#e7dff1"/><rect x="311.80" y="266.0" width="2.90" height="24.0" fill="#beb7e2"/><rect x="314.40" y="266.0" width="1.30" height="24.0" fill="#d9d2ec"/><rect x="315.40" y="266.0" width="1.30" height="24.0" fill="#dcd5ed"/><rect x="316.40" y="266.0" width="1.30" height="24.0" fill="#ede5f3"/><rect x="317.40" y="266.0" width="2.50" height="24.0" fill="#d6cfeb"/><rect x="319.60" y="266.0" width="2.90" height="24.0" fill="#ccc5e8"/><rect x="322.20" y="266.0" width="3.30" height="24.0" fill="#9b93d2"/><rect x="325.20" y="266.0" width="2.50" height="24.0" fill="#f1e4f0"/><rect x="327.40" y="266.0" width="2.20" height="24.0" fill="#f1e5f0"/><rect x="329.30" y="266.0" width="2.90" height="24.0" fill="#f2e0eb"/><rect x="331.90" y="266.0" width="2.20" height="24.0" fill="#f6cdd5"/><rect x="333.80" y="266.0" width="1.30" height="24.0" fill="#f1e4ef"/><rect x="334.80" y="266.0" width="1.90" height="24.0" fill="#f4d6df"/><rect x="336.40" y="266.0" width="1.90" height="24.0" fill="#f4d7e1"/><rect x="338.00" y="266.0" width="2.20" height="24.0" fill="#aaa2d9"/><rect x="339.90" y="266.0" width="1.60" height="24.0" fill="#d5ceeb"/><rect x="341.20" y="266.0" width="2.20" height="24.0" fill="#c1bbe4"/><rect x="343.10" y="266.0" width="2.20" height="24.0" fill="#bdb6e2"/><rect x="345.00" y="266.0" width="3.30" height="24.0" fill="#c8c2e7"/><rect x="348.00" y="266.0" width="1.60" height="24.0" fill="#d1cbea"/><rect x="354.60" y="98.0" width="3.30" height="24.0" fill="#766cbc"/><rect x="357.60" y="98.0" width="2.90" height="24.0" fill="#867dc6"/><rect x="360.20" y="98.0" width="1.60" height="24.0" fill="#766cbc"/><rect x="361.50" y="98.0" width="1.90" height="24.0" fill="#948ccf"/><rect x="363.10" y="98.0" width="1.90" height="24.0" fill="#b1aadc"/><rect x="364.70" y="98.0" width="3.30" height="24.0" fill="#948ccf"/><rect x="367.70" y="98.0" width="1.90" height="24.0" fill="#aba3d9"/><rect x="369.30" y="98.0" width="1.30" height="24.0" fill="#a39cd6"/><rect x="370.30" y="98.0" width="2.20" height="24.0" fill="#ccc6e8"/><rect x="372.20" y="98.0" width="1.90" height="24.0" fill="#e1daef"/><rect x="373.80" y="98.0" width="2.50" height="24.0" fill="#f7b7bb"/><rect x="376.00" y="98.0" width="2.90" height="24.0" fill="#b3acdd"/><rect x="378.60" y="98.0" width="2.90" height="24.0" fill="#b7b0df"/><rect x="381.20" y="98.0" width="2.90" height="24.0" fill="#b1aadc"/><rect x="383.80" y="98.0" width="1.90" height="24.0" fill="#b6b0df"/><rect x="354.60" y="122.0" width="1.90" height="24.0" fill="#ada6da"/><rect x="356.20" y="122.0" width="1.90" height="24.0" fill="#b0a9dc"/><rect x="357.80" y="122.0" width="2.20" height="24.0" fill="#c5bfe5"/><rect x="359.70" y="122.0" width="2.90" height="24.0" fill="#f0e8f4"/><rect x="362.30" y="122.0" width="2.20" height="24.0" fill="#e9e1f2"/><rect x="364.20" y="122.0" width="2.90" height="24.0" fill="#c9c3e7"/><rect x="366.80" y="122.0" width="2.20" height="24.0" fill="#d1cbea"/><rect x="368.70" y="122.0" width="3.30" height="24.0" fill="#cec8e9"/><rect x="371.70" y="122.0" width="1.90" height="24.0" fill="#c0b9e3"/><rect x="373.30" y="122.0" width="3.30" height="24.0" fill="#c8c2e7"/><rect x="376.30" y="122.0" width="2.50" height="24.0" fill="#f5d4dc"/><rect x="378.50" y="122.0" width="1.30" height="24.0" fill="#cbc5e8"/><rect x="379.50" y="122.0" width="2.50" height="24.0" fill="#f1e4f0"/><rect x="381.70" y="122.0" width="1.30" height="24.0" fill="#dbd4ed"/><rect x="382.70" y="122.0" width="1.60" height="24.0" fill="#f1e4ef"/><rect x="384.00" y="122.0" width="1.70" height="24.0" fill="#e8e1f1"/><rect x="354.60" y="146.0" width="1.90" height="24.0" fill="#958dcf"/><rect x="356.20" y="146.0" width="1.60" height="24.0" fill="#796fbe"/><rect x="357.50" y="146.0" width="1.60" height="24.0" fill="#c9c3e7"/><rect x="358.80" y="146.0" width="2.50" height="24.0" fill="#b3acdd"/><rect x="361.00" y="146.0" width="1.30" height="24.0" fill="#b1aadc"/><rect x="362.00" y="146.0" width="1.30" height="24.0" fill="#9890d1"/><rect x="363.00" y="146.0" width="2.50" height="24.0" fill="#8e85cb"/><rect x="365.20" y="146.0" width="2.20" height="24.0" fill="#b3acdd"/><rect x="367.10" y="146.0" width="2.90" height="24.0" fill="#857cc5"/><rect x="369.70" y="146.0" width="1.90" height="24.0" fill="#bdb7e2"/><rect x="371.30" y="146.0" width="1.60" height="24.0" fill="#ada6db"/><rect x="372.60" y="146.0" width="1.90" height="24.0" fill="#d4ceeb"/><rect x="374.20" y="146.0" width="2.20" height="24.0" fill="#a8a0d8"/><rect x="376.10" y="146.0" width="2.50" height="24.0" fill="#968ed0"/><rect x="378.30" y="146.0" width="3.30" height="24.0" fill="#bfb8e3"/><rect x="381.30" y="146.0" width="1.90" height="24.0" fill="#ada5da"/><rect x="382.90" y="146.0" width="1.30" height="24.0" fill="#b2abdd"/><rect x="383.90" y="146.0" width="1.80" height="24.0" fill="#e7e0f1"/><rect x="354.60" y="170.0" width="2.90" height="24.0" fill="#8e86cb"/><rect x="357.20" y="170.0" width="2.90" height="24.0" fill="#867dc6"/><rect x="359.80" y="170.0" width="3.30" height="24.0" fill="#766cbc"/><rect x="362.80" y="170.0" width="2.90" height="24.0" fill="#9087cc"/><rect x="365.40" y="170.0" width="3.30" height="24.0" fill="#c8c2e7"/><rect x="368.40" y="170.0" width="2.90" height="24.0" fill="#dad3ed"/><rect x="371.00" y="170.0" width="1.60" height="24.0" fill="#a8a0d8"/><rect x="372.30" y="170.0" width="3.30" height="24.0" fill="#ebe3f2"/><rect x="375.30" y="170.0" width="3.30" height="24.0" fill="#9c94d3"/><rect x="378.30" y="170.0" width="1.60" height="24.0" fill="#f4d6df"/><rect x="379.60" y="170.0" width="1.60" height="24.0" fill="#f0e7f3"/><rect x="380.90" y="170.0" width="1.60" height="24.0" fill="#928acd"/><rect x="382.20" y="170.0" width="1.30" height="24.0" fill="#e0d9ef"/><rect x="383.20" y="170.0" width="2.50" height="24.0" fill="#958dcf"/><rect x="354.60" y="194.0" width="2.50" height="24.0" fill="#ece4f3"/><rect x="356.80" y="194.0" width="2.20" height="24.0" fill="#aca5da"/><rect x="358.70" y="194.0" width="1.60" height="24.0" fill="#c8c2e7"/><rect x="360.00" y="194.0" width="1.60" height="24.0" fill="#bfb9e3"/><rect x="361.30" y="194.0" width="3.30" height="24.0" fill="#cac4e7"/><rect x="364.30" y="194.0" width="1.60" height="24.0" fill="#d5ceeb"/><rect x="365.60" y="194.0" width="2.20" height="24.0" fill="#f3dbe5"/><rect x="367.50" y="194.0" width="2.20" height="24.0" fill="#cfc9e9"/><rect x="369.40" y="194.0" width="1.90" height="24.0" fill="#e2daef"/><rect x="371.00" y="194.0" width="3.30" height="24.0" fill="#cec8e9"/><rect x="374.00" y="194.0" width="1.90" height="24.0" fill="#a8a0d8"/><rect x="375.60" y="194.0" width="3.30" height="24.0" fill="#b8b1df"/><rect x="378.60" y="194.0" width="2.90" height="24.0" fill="#aca5da"/><rect x="381.20" y="194.0" width="2.20" height="24.0" fill="#e4dcf0"/><rect x="383.10" y="194.0" width="2.60" height="24.0" fill="#f1e4ef"/><rect x="354.60" y="218.0" width="2.20" height="24.0" fill="#8d84ca"/><rect x="356.50" y="218.0" width="1.60" height="24.0" fill="#cfc8e9"/><rect x="357.80" y="218.0" width="3.30" height="24.0" fill="#9a93d2"/><rect x="360.80" y="218.0" width="2.90" height="24.0" fill="#8b83c9"/><rect x="363.40" y="218.0" width="2.50" height="24.0" fill="#a7a0d8"/><rect x="365.60" y="218.0" width="1.60" height="24.0" fill="#bdb6e2"/><rect x="366.90" y="218.0" width="2.90" height="24.0" fill="#b4adde"/><rect x="369.50" y="218.0" width="2.90" height="24.0" fill="#cfc9e9"/><rect x="372.10" y="218.0" width="3.30" height="24.0" fill="#a39cd6"/><rect x="375.10" y="218.0" width="1.90" height="24.0" fill="#aba4da"/><rect x="376.70" y="218.0" width="1.90" height="24.0" fill="#a69ed7"/><rect x="378.30" y="218.0" width="2.90" height="24.0" fill="#f2e0eb"/><rect x="380.90" y="218.0" width="1.90" height="24.0" fill="#8f87cc"/><rect x="382.50" y="218.0" width="1.60" height="24.0" fill="#f0e7f3"/><rect x="383.80" y="218.0" width="1.90" height="24.0" fill="#f7c6cd"/><rect x="354.60" y="242.0" width="1.90" height="24.0" fill="#f7b1b5"/><rect x="356.20" y="242.0" width="2.90" height="24.0" fill="#f6cdd5"/><rect x="358.80" y="242.0" width="2.90" height="24.0" fill="#e8e1f1"/><rect x="361.40" y="242.0" width="1.60" height="24.0" fill="#f59293"/><rect x="362.70" y="242.0" width="3.30" height="24.0" fill="#f69e9f"/><rect x="365.70" y="242.0" width="3.30" height="24.0" fill="#f7b6ba"/><rect x="368.70" y="242.0" width="2.50" height="24.0" fill="#f8bbc0"/><rect x="370.90" y="242.0" width="1.60" height="24.0" fill="#f1e3ee"/><rect x="372.20" y="242.0" width="2.90" height="24.0" fill="#f8c6cc"/><rect x="374.80" y="242.0" width="2.20" height="24.0" fill="#f3dae3"/><rect x="376.70" y="242.0" width="2.90" height="24.0" fill="#f8c2c8"/><rect x="379.30" y="242.0" width="1.60" height="24.0" fill="#f4d8e1"/><rect x="380.60" y="242.0" width="1.30" height="24.0" fill="#f27d80"/><rect x="381.60" y="242.0" width="3.30" height="24.0" fill="#f4d5dd"/><rect x="384.60" y="242.0" width="1.10" height="24.0" fill="#f8b9bd"/><rect x="354.60" y="266.0" width="3.30" height="24.0" fill="#f5d0d8"/><rect x="357.60" y="266.0" width="1.60" height="24.0" fill="#948ccf"/><rect x="358.90" y="266.0" width="2.90" height="24.0" fill="#e1daef"/><rect x="361.50" y="266.0" width="1.90" height="24.0" fill="#c3bde5"/><rect x="363.10" y="266.0" width="2.50" height="24.0" fill="#aaa3d9"/><rect x="365.30" y="266.0" width="1.60" height="24.0" fill="#9189cd"/><rect x="366.60" y="266.0" width="1.60" height="24.0" fill="#d8d1ec"/><rect x="367.90" y="266.0" width="1.30" height="24.0" fill="#a7a0d8"/><rect x="368.90" y="266.0" width="1.90" height="24.0" fill="#ede5f3"/><rect x="370.50" y="266.0" width="2.50" height="24.0" fill="#beb7e2"/><rect x="372.70" y="266.0" width="1.90" height="24.0" fill="#e3dbf0"/><rect x="374.30" y="266.0" width="3.30" height="24.0" fill="#d1caea"/><rect x="377.30" y="266.0" width="1.60" height="24.0" fill="#f2e1eb"/><rect x="378.60" y="266.0" width="1.30" height="24.0" fill="#f6cbd2"/><rect x="379.60" y="266.0" width="2.50" height="24.0" fill="#e2dbef"/><rect x="381.80" y="266.0" width="2.20" height="24.0" fill="#c3bde5"/><rect x="383.70" y="266.0" width="1.30" height="24.0" fill="#f1e4ef"/><rect x="384.70" y="266.0" width="1.00" height="24.0" fill="#d3ccea"/></g>
<g stroke="#111" stroke-width="1.5" fill="none">
<rect x="116" y="98" width="233.8" height="192.3"/>
<line x1="130.2" y1="98" x2="130.2" y2="290"/>
<line x1="222" y1="98" x2="222" y2="290"/>
<line x1="288.2" y1="98" x2="288.2" y2="290"/>
<rect x="354" y="98" width="31.8" height="192.3"/>
</g>
<text x="108.6" y="115.00" font-size="12.8" text-anchor="end">POLG</text>
<text x="108.6" y="139.21" font-size="12.8" text-anchor="end">POLG2</text>
<text x="108.6" y="163.42" font-size="12.8" text-anchor="end">POLRMT</text>
<text x="108.6" y="187.63" font-size="12.8" text-anchor="end">TFAM</text>
<text x="108.6" y="211.84" font-size="12.8" text-anchor="end">TWINKLE</text>
<text x="108.6" y="236.05" font-size="12.8" text-anchor="end">SSBP1</text>
<text x="108.6" y="260.26" font-size="12.8" text-anchor="end">DGUOK</text>
<text x="108.6" y="284.47" font-size="12.8" text-anchor="end">TK2</text>
<text x="108.8" y="305.8" font-size="12.5" text-anchor="end">AML cluster</text>
<text x="121.2" y="305.8" font-size="12.5" text-anchor="middle">1</text>
<text x="172.7" y="305.8" font-size="12.5" text-anchor="middle">2</text>
<text x="254.5" y="305.8" font-size="12.5" text-anchor="middle">3</text>
<text x="319.4" y="305.8" font-size="12.5" text-anchor="middle">4</text>
<text x="370.0" y="305.8" font-size="12.5" text-anchor="middle">Normal</text>
<defs><linearGradient id="zg" x1="0" x2="1" y1="0" y2="0"><stop offset="0" stop-color="#1e1478"/><stop offset="0.28" stop-color="#6a62b0"/><stop offset="0.45" stop-color="#a8a2d4"/><stop offset="0.57" stop-color="#ffffff"/><stop offset="0.7" stop-color="#fcbcbc"/><stop offset="1" stop-color="#f83a44"/></linearGradient></defs>
<rect x="411.4" y="51" width="82.8" height="21" fill="url(#zg)"/>
<path d="M411.4 72.3H494.6V51" stroke="#111" stroke-width="1.3" fill="none"/>
<line x1="416.3" y1="72" x2="416.3" y2="76.5" stroke="#111" stroke-width="1.3"/>
<line x1="437.4" y1="72" x2="437.4" y2="76.5" stroke="#111" stroke-width="1.3"/>
<line x1="458.4" y1="72" x2="458.4" y2="76.5" stroke="#111" stroke-width="1.3"/>
<line x1="479.4" y1="72" x2="479.4" y2="76.5" stroke="#111" stroke-width="1.3"/>
<text x="416.3" y="93" font-size="12.5" text-anchor="middle">-4</text>
<text x="437.4" y="93" font-size="12.5" text-anchor="middle">-2</text>
<text x="458.4" y="93" font-size="12.5" text-anchor="middle">0</text>
<text x="479.4" y="93" font-size="12.5" text-anchor="middle">2</text>
<text x="452" y="46.5" font-size="13" text-anchor="middle">Z- score</text>
<text x="10.6" y="25.0" font-size="16.4" font-weight="bold" stroke="#111" stroke-width="0.3">A</text>
<text x="11.8" y="349.3" font-size="16.4" font-weight="bold" stroke="#111" stroke-width="0.3">B</text>
<text x="11.0" y="644.0" font-size="16.4" font-weight="bold" stroke="#111" stroke-width="0.3">C</text>
<text x="239.8" y="643.5" font-size="16.4" font-weight="bold" stroke="#111" stroke-width="0.3">D</text>
<text x="11.4" y="864.6" font-size="16.4" font-weight="bold" stroke="#111" stroke-width="0.3">E</text>
<g stroke="#111" stroke-width="1.6" fill="none">
<path d="M68 352V543.7H314"/>
<line x1="63.5" y1="392.2" x2="68" y2="392.2"/>
<line x1="63.5" y1="438.0" x2="68" y2="438.0"/>
<line x1="63.5" y1="483.8" x2="68" y2="483.8"/>
<line x1="63.5" y1="529.6" x2="68" y2="529.6"/>
<line x1="100.0" y1="543.7" x2="100.0" y2="548"/>
<line x1="145.5" y1="543.7" x2="145.5" y2="548"/>
<line x1="191.5" y1="543.7" x2="191.5" y2="548"/>
<line x1="237.0" y1="543.7" x2="237.0" y2="548"/>
<line x1="282.5" y1="543.7" x2="282.5" y2="548"/>
<line x1="90.8" y1="570.5" x2="246.5" y2="570.5"/>
</g>
<text x="59.5" y="396.6" font-size="12.5" text-anchor="end">2</text>
<text x="59.5" y="442.4" font-size="12.5" text-anchor="end">0</text>
<text x="59.5" y="488.2" font-size="12.5" text-anchor="end">-2</text>
<text x="59.5" y="534.0" font-size="12.5" text-anchor="end">-4</text>
<text transform="translate(23.3,448) rotate(-90)" font-size="13" text-anchor="middle">mtDNA biosynthesis</text>
<text transform="translate(39.5,448.5) rotate(-90)" font-size="13" text-anchor="middle">Z- score</text>
<line x1="100.0" y1="409.8" x2="100.0" y2="450.0" stroke="#111" stroke-width="1.5" stroke-dasharray="3.5,2.8"/>
<line x1="100.0" y1="479.4" x2="100.0" y2="511.4" stroke="#111" stroke-width="1.5" stroke-dasharray="3.5,2.8"/>
<line x1="90.5" y1="409.8" x2="109.5" y2="409.8" stroke="#111" stroke-width="1.6"/>
<line x1="90.5" y1="511.4" x2="109.5" y2="511.4" stroke="#111" stroke-width="1.6"/>
<rect x="81.5" y="450.0" width="37.0" height="29.4" fill="#b5122f"/>
<line x1="81.5" y1="464.6" x2="118.5" y2="464.6" stroke="#111" stroke-width="1.8"/>
<text x="100.0" y="461.4" font-size="11.6" style="fill:#fff;stroke:#fff;stroke-width:0.05px" text-anchor="middle">-1.11</text>
<circle cx="100.0" cy="527.0" r="1.9" stroke="#111" stroke-width="1.25" fill="#fff"/>
<circle cx="100.0" cy="537.0" r="1.9" stroke="#111" stroke-width="1.25" fill="#fff"/>
<line x1="145.5" y1="394.6" x2="145.5" y2="432.0" stroke="#111" stroke-width="1.5" stroke-dasharray="3.5,2.8"/>
<line x1="145.5" y1="459.0" x2="145.5" y2="496.0" stroke="#111" stroke-width="1.5" stroke-dasharray="3.5,2.8"/>
<line x1="136.0" y1="394.6" x2="155.0" y2="394.6" stroke="#111" stroke-width="1.6"/>
<line x1="136.0" y1="496.0" x2="155.0" y2="496.0" stroke="#111" stroke-width="1.6"/>
<rect x="127.0" y="432.0" width="37.0" height="27.0" fill="#3a5a92"/>
<line x1="127.0" y1="446.5" x2="164.0" y2="446.5" stroke="#111" stroke-width="1.8"/>
<text x="145.5" y="443.4" font-size="11.6" style="fill:#fff;stroke:#fff;stroke-width:0.05px" text-anchor="middle">-0.31</text>
<circle cx="145.5" cy="359.6" r="1.9" stroke="#111" stroke-width="1.25" fill="#fff"/>
<circle cx="145.5" cy="368.5" r="1.9" stroke="#111" stroke-width="1.25" fill="#fff"/>
<circle cx="145.5" cy="369.6" r="1.9" stroke="#111" stroke-width="1.25" fill="#fff"/>
<circle cx="145.5" cy="370.7" r="1.9" stroke="#111" stroke-width="1.25" fill="#fff"/>
<circle cx="145.5" cy="371.8" r="1.9" stroke="#111" stroke-width="1.25" fill="#fff"/>
<circle cx="145.5" cy="372.9" r="1.9" stroke="#111" stroke-width="1.25" fill="#fff"/>
<circle cx="145.5" cy="374.0" r="1.9" stroke="#111" stroke-width="1.25" fill="#fff"/>
<circle cx="145.5" cy="375.0" r="1.9" stroke="#111" stroke-width="1.25" fill="#fff"/>
<circle cx="145.5" cy="376.1" r="1.9" stroke="#111" stroke-width="1.25" fill="#fff"/>
<circle cx="145.5" cy="377.2" r="1.9" stroke="#111" stroke-width="1.25" fill="#fff"/>
<circle cx="145.5" cy="378.3" r="1.9" stroke="#111" stroke-width="1.25" fill="#fff"/>
<circle cx="145.5" cy="379.4" r="1.9" stroke="#111" stroke-width="1.25" fill="#fff"/>
<circle cx="145.5" cy="380.5" r="1.9" stroke="#111" stroke-width="1.25" fill="#fff"/>
<circle cx="145.5" cy="381.6" r="1.9" stroke="#111" stroke-width="1.25" fill="#fff"/>
<circle cx="145.5" cy="382.7" r="1.9" stroke="#111" stroke-width="1.25" fill="#fff"/>
<circle cx="145.5" cy="383.8" r="1.9" stroke="#111" stroke-width="1.25" fill="#fff"/>
<circle cx="145.5" cy="384.9" r="1.9" stroke="#111" stroke-width="1.25" fill="#fff"/>
<circle cx="145.5" cy="386.0" r="1.9" stroke="#111" stroke-width="1.25" fill="#fff"/>
<circle cx="145.5" cy="387.0" r="1.9" stroke="#111" stroke-width="1.25" fill="#fff"/>
<circle cx="145.5" cy="388.1" r="1.9" stroke="#111" stroke-width="1.25" fill="#fff"/>
<circle cx="145.5" cy="389.2" r="1.9" stroke="#111" stroke-width="1.25" fill="#fff"/>
<circle cx="145.5" cy="390.3" r="1.9" stroke="#111" stroke-width="1.25" fill="#fff"/>
<circle cx="145.5" cy="391.4" r="1.9" stroke="#111" stroke-width="1.25" fill="#fff"/>
<circle cx="145.5" cy="392.5" r="1.9" stroke="#111" stroke-width="1.25" fill="#fff"/>
<circle cx="145.5" cy="498.5" r="1.9" stroke="#111" stroke-width="1.25" fill="#fff"/>
<circle cx="145.5" cy="499.6" r="1.9" stroke="#111" stroke-width="1.25" fill="#fff"/>
<circle cx="145.5" cy="500.8" r="1.9" stroke="#111" stroke-width="1.25" fill="#fff"/>
<circle cx="145.5" cy="501.9" r="1.9" stroke="#111" stroke-width="1.25" fill="#fff"/>
<circle cx="145.5" cy="503.0" r="1.9" stroke="#111" stroke-width="1.25" fill="#fff"/>
<circle cx="145.5" cy="504.2" r="1.9" stroke="#111" stroke-width="1.25" fill="#fff"/>
<circle cx="145.5" cy="505.3" r="1.9" stroke="#111" stroke-width="1.25" fill="#fff"/>
<circle cx="145.5" cy="506.5" r="1.9" stroke="#111" stroke-width="1.25" fill="#fff"/>
<circle cx="145.5" cy="507.6" r="1.9" stroke="#111" stroke-width="1.25" fill="#fff"/>
<circle cx="145.5" cy="508.7" r="1.9" stroke="#111" stroke-width="1.25" fill="#fff"/>
<circle cx="145.5" cy="509.9" r="1.9" stroke="#111" stroke-width="1.25" fill="#fff"/>
<circle cx="145.5" cy="511.0" r="1.9" stroke="#111" stroke-width="1.25" fill="#fff"/>
<line x1="191.5" y1="378.0" x2="191.5" y2="414.6" stroke="#111" stroke-width="1.5" stroke-dasharray="3.5,2.8"/>
<line x1="191.5" y1="440.8" x2="191.5" y2="478.8" stroke="#111" stroke-width="1.5" stroke-dasharray="3.5,2.8"/>
<line x1="182.0" y1="378.0" x2="201.0" y2="378.0" stroke="#111" stroke-width="1.6"/>
<line x1="182.0" y1="478.8" x2="201.0" y2="478.8" stroke="#111" stroke-width="1.6"/>
<rect x="173.0" y="414.6" width="37.0" height="26.2" fill="#6aae44"/>
<line x1="173.0" y1="428.0" x2="210.0" y2="428.0" stroke="#111" stroke-width="1.8"/>
<text x="191.5" y="426.0" font-size="11.6" style="fill:#fff;stroke:#fff;stroke-width:0.05px" text-anchor="middle">0.41</text>
<circle cx="191.5" cy="362.7" r="1.9" stroke="#111" stroke-width="1.25" fill="#fff"/>
<circle cx="191.5" cy="366.5" r="1.9" stroke="#111" stroke-width="1.25" fill="#fff"/>
<circle cx="191.5" cy="481.5" r="1.9" stroke="#111" stroke-width="1.25" fill="#fff"/>
<circle cx="191.5" cy="487.0" r="1.9" stroke="#111" stroke-width="1.25" fill="#fff"/>
<circle cx="191.5" cy="495.5" r="1.9" stroke="#111" stroke-width="1.25" fill="#fff"/>
<circle cx="191.5" cy="496.6" r="1.9" stroke="#111" stroke-width="1.25" fill="#fff"/>
<circle cx="191.5" cy="497.6" r="1.9" stroke="#111" stroke-width="1.25" fill="#fff"/>
<circle cx="191.5" cy="498.7" r="1.9" stroke="#111" stroke-width="1.25" fill="#fff"/>
<circle cx="191.5" cy="499.8" r="1.9" stroke="#111" stroke-width="1.25" fill="#fff"/>
<circle cx="191.5" cy="500.9" r="1.9" stroke="#111" stroke-width="1.25" fill="#fff"/>
<circle cx="191.5" cy="501.9" r="1.9" stroke="#111" stroke-width="1.25" fill="#fff"/>
<circle cx="191.5" cy="503.0" r="1.9" stroke="#111" stroke-width="1.25" fill="#fff"/>
<line x1="237.0" y1="381.0" x2="237.0" y2="417.7" stroke="#111" stroke-width="1.5" stroke-dasharray="3.5,2.8"/>
<line x1="237.0" y1="443.5" x2="237.0" y2="479.6" stroke="#111" stroke-width="1.5" stroke-dasharray="3.5,2.8"/>
<line x1="227.5" y1="381.0" x2="246.5" y2="381.0" stroke="#111" stroke-width="1.6"/>
<line x1="227.5" y1="479.6" x2="246.5" y2="479.6" stroke="#111" stroke-width="1.6"/>
<rect x="218.5" y="417.7" width="37.0" height="25.8" fill="#5b2a78"/>
<line x1="218.5" y1="430.8" x2="255.5" y2="430.8" stroke="#111" stroke-width="1.8"/>
<text x="237.0" y="429.1" font-size="11.6" style="fill:#fff;stroke:#fff;stroke-width:0.05px" text-anchor="middle">0.50</text>
<circle cx="237.0" cy="373.5" r="1.9" stroke="#111" stroke-width="1.25" fill="#fff"/>
<circle cx="237.0" cy="374.6" r="1.9" stroke="#111" stroke-width="1.25" fill="#fff"/>
<circle cx="237.0" cy="375.7" r="1.9" stroke="#111" stroke-width="1.25" fill="#fff"/>
<circle cx="237.0" cy="376.8" r="1.9" stroke="#111" stroke-width="1.25" fill="#fff"/>
<circle cx="237.0" cy="377.8" r="1.9" stroke="#111" stroke-width="1.25" fill="#fff"/>
<circle cx="237.0" cy="378.9" r="1.9" stroke="#111" stroke-width="1.25" fill="#fff"/>
<circle cx="237.0" cy="380.0" r="1.9" stroke="#111" stroke-width="1.25" fill="#fff"/>
<circle cx="237.0" cy="481.5" r="1.9" stroke="#111" stroke-width="1.25" fill="#fff"/>
<circle cx="237.0" cy="482.6" r="1.9" stroke="#111" stroke-width="1.25" fill="#fff"/>
<circle cx="237.0" cy="483.7" r="1.9" stroke="#111" stroke-width="1.25" fill="#fff"/>
<circle cx="237.0" cy="484.8" r="1.9" stroke="#111" stroke-width="1.25" fill="#fff"/>
<circle cx="237.0" cy="485.9" r="1.9" stroke="#111" stroke-width="1.25" fill="#fff"/>
<circle cx="237.0" cy="486.9" r="1.9" stroke="#111" stroke-width="1.25" fill="#fff"/>
<circle cx="237.0" cy="488.0" r="1.9" stroke="#111" stroke-width="1.25" fill="#fff"/>
<circle cx="237.0" cy="489.1" r="1.9" stroke="#111" stroke-width="1.25" fill="#fff"/>
<circle cx="237.0" cy="490.2" r="1.9" stroke="#111" stroke-width="1.25" fill="#fff"/>
<circle cx="237.0" cy="491.3" r="1.9" stroke="#111" stroke-width="1.25" fill="#fff"/>
<circle cx="237.0" cy="492.4" r="1.9" stroke="#111" stroke-width="1.25" fill="#fff"/>
<circle cx="237.0" cy="493.5" r="1.9" stroke="#111" stroke-width="1.25" fill="#fff"/>
<circle cx="237.0" cy="494.6" r="1.9" stroke="#111" stroke-width="1.25" fill="#fff"/>
<circle cx="237.0" cy="495.6" r="1.9" stroke="#111" stroke-width="1.25" fill="#fff"/>
<circle cx="237.0" cy="496.7" r="1.9" stroke="#111" stroke-width="1.25" fill="#fff"/>
<circle cx="237.0" cy="497.8" r="1.9" stroke="#111" stroke-width="1.25" fill="#fff"/>
<circle cx="237.0" cy="498.9" r="1.9" stroke="#111" stroke-width="1.25" fill="#fff"/>
<circle cx="237.0" cy="500.0" r="1.9" stroke="#111" stroke-width="1.25" fill="#fff"/>
<line x1="282.5" y1="390.4" x2="282.5" y2="433.0" stroke="#111" stroke-width="1.5" stroke-dasharray="3.5,2.8"/>
<line x1="282.5" y1="463.5" x2="282.5" y2="505.8" stroke="#111" stroke-width="1.5" stroke-dasharray="3.5,2.8"/>
<line x1="273.0" y1="390.4" x2="292.0" y2="390.4" stroke="#111" stroke-width="1.6"/>
<line x1="273.0" y1="505.8" x2="292.0" y2="505.8" stroke="#111" stroke-width="1.6"/>
<rect x="264.0" y="433.0" width="37.0" height="30.5" fill="#e3961d"/>
<line x1="264.0" y1="446.0" x2="301.0" y2="446.0" stroke="#111" stroke-width="1.8"/>
<text x="282.5" y="444.4" font-size="11.6" style="fill:#fff;stroke:#fff;stroke-width:0.05px" text-anchor="middle">-0.33</text>
<circle cx="282.5" cy="388.5" r="1.9" stroke="#111" stroke-width="1.25" fill="#fff"/>
<circle cx="282.5" cy="523.8" r="1.9" stroke="#111" stroke-width="1.25" fill="#fff"/>
<text x="100.0" y="564" font-size="12.5" text-anchor="middle">1</text>
<text x="145.5" y="564" font-size="12.5" text-anchor="middle">2</text>
<text x="191.5" y="564" font-size="12.5" text-anchor="middle">3</text>
<text x="237.0" y="564" font-size="12.5" text-anchor="middle">4</text>
<text x="282.5" y="564" font-size="12.5" text-anchor="middle">Normal</text>
<text x="168.5" y="585.5" font-size="12.5" text-anchor="middle">AML cluster</text>
<text x="52.2" y="602.8" font-size="11.4" text-anchor="middle">n=</text>
<text x="100.0" y="602.8" font-size="11.4" text-anchor="middle">31</text>
<text x="145.5" y="602.8" font-size="11.4" text-anchor="middle">213</text>
<text x="191.5" y="602.8" font-size="11.4" text-anchor="middle">142</text>
<text x="237.0" y="602.8" font-size="11.4" text-anchor="middle">155</text>
<text x="282.5" y="602.8" font-size="11.4" text-anchor="middle">73</text>
<g stroke="#111" stroke-width="1.7" fill="none">
<rect x="334.2" y="350.3" width="173.6" height="194.9"/>
<line x1="391.8" y1="350.3" x2="391.8" y2="545.2"/>
<line x1="391.8" y1="423.6" x2="507.8" y2="423.6"/>
<line x1="440" y1="423.6" x2="440" y2="545.2"/>
<line x1="334.2" y1="444.0" x2="507.8" y2="444.0"/>
<line x1="334.2" y1="470.1" x2="507.8" y2="470.1"/>
<line x1="334.2" y1="495.5" x2="507.8" y2="495.5"/>
<line x1="334.2" y1="521.0" x2="507.8" y2="521.0"/>
</g>
<text x="363" y="367.9" font-size="12.4" text-anchor="middle">AML</text>
<text x="363" y="383.3" font-size="12.4" text-anchor="middle">cluster</text>
<text x="449.8" y="367.9" font-size="12.4" text-anchor="middle">Pair-wise two-</text>
<text x="449.8" y="383.3" font-size="12.4" text-anchor="middle">sided comparison</text>
<text x="449.8" y="398.7" font-size="12.4" text-anchor="middle">against Normal</text>
<text x="449.8" y="414.1" font-size="12.4" text-anchor="middle">(t-test)</text>
<text x="416" y="438" font-size="12.4" text-anchor="middle">t</text>
<text x="474" y="438" font-size="12.4" text-anchor="middle">p</text>
<text x="363" y="461.4" font-size="12.4" text-anchor="middle">1</text>
<text x="416" y="461.4" font-size="12.4" text-anchor="middle">-9.9</text>
<text x="449" y="461.4" font-size="12.4">&lt;2x10-<tspan font-size="8.5" dy="-5.5">16</tspan></text>
<text x="363" y="487.2" font-size="12.4" text-anchor="middle">2</text>
<text x="416" y="487.2" font-size="12.4" text-anchor="middle">1.8</text>
<text x="474" y="487.2" font-size="12.4" text-anchor="middle">0.07</text>
<text x="363" y="512.6" font-size="12.4" text-anchor="middle">3</text>
<text x="416" y="512.6" font-size="12.4" text-anchor="middle">15.4</text>
<text x="449" y="512.6" font-size="12.4">&lt;2x10-<tspan font-size="8.5" dy="-5.5">16</tspan></text>
<text x="363" y="537.5" font-size="12.4" text-anchor="middle">4</text>
<text x="416" y="537.5" font-size="12.4" text-anchor="middle">19.6</text>
<text x="449" y="537.5" font-size="12.4">&lt;2x10-<tspan font-size="8.5" dy="-5.5">16</tspan></text>
<g stroke="#111" stroke-width="1.6" fill="none">
<path d="M50.7 661.5V809.7H216.0"/>
<line x1="46.4" y1="669.3" x2="50.7" y2="669.3"/>
<line x1="46.4" y1="700.5" x2="50.7" y2="700.5"/>
<line x1="46.4" y1="731.7" x2="50.7" y2="731.7"/>
<line x1="46.4" y1="762.9" x2="50.7" y2="762.9"/>
<line x1="46.4" y1="794.1" x2="50.7" y2="794.1"/>
</g>
<text x="41.4" y="673.7" font-size="12.5" text-anchor="end">2</text>
<text x="41.4" y="704.9" font-size="12.5" text-anchor="end">0</text>
<text x="41.4" y="736.1" font-size="12.5" text-anchor="end">-2</text>
<text x="41.4" y="767.3" font-size="12.5" text-anchor="end">-4</text>
<text x="41.4" y="798.5" font-size="12.5" text-anchor="end">-6</text>
<text x="132.6" y="654.3" font-size="14" text-anchor="middle">CMPK1</text>
<text transform="translate(22.0,735) rotate(-90)" font-size="13" text-anchor="middle">Z-score</text>
<line x1="95.4" y1="667.0" x2="95.4" y2="690.0" stroke="#111" stroke-width="1.5" stroke-dasharray="3.5,2.8"/>
<line x1="95.4" y1="707.0" x2="95.4" y2="730.5" stroke="#111" stroke-width="1.5" stroke-dasharray="3.5,2.8"/>
<line x1="79.4" y1="667.0" x2="111.4" y2="667.0" stroke="#111" stroke-width="1.6"/>
<line x1="79.4" y1="730.5" x2="111.4" y2="730.5" stroke="#111" stroke-width="1.6"/>
<rect x="64.5" y="690.0" width="61.8" height="17.0" fill="#4a5367"/>
<line x1="64.5" y1="698.0" x2="126.3" y2="698.0" stroke="#111" stroke-width="1.8"/>
<circle cx="95.4" cy="731.5" r="1.85" fill="#111"/>
<circle cx="95.4" cy="734.0" r="1.85" fill="#111"/>
<circle cx="95.4" cy="736.0" r="1.85" fill="#111"/>
<circle cx="95.4" cy="738.0" r="1.85" fill="#111"/>
<circle cx="95.4" cy="743.0" r="1.85" fill="#111"/>
<circle cx="95.4" cy="746.0" r="1.85" fill="#111"/>
<circle cx="95.4" cy="749.0" r="1.85" fill="#111"/>
<circle cx="95.4" cy="751.5" r="1.85" fill="#111"/>
<circle cx="95.4" cy="754.0" r="1.85" fill="#111"/>
<circle cx="95.4" cy="756.5" r="1.85" fill="#111"/>
<circle cx="95.4" cy="760.0" r="1.85" fill="#111"/>
<circle cx="95.4" cy="762.5" r="1.85" fill="#111"/>
<circle cx="95.4" cy="765.0" r="1.85" fill="#111"/>
<circle cx="95.4" cy="775.0" r="1.85" fill="#111"/>
<circle cx="95.4" cy="785.0" r="1.85" fill="#111"/>
<circle cx="95.4" cy="804.0" r="1.85" fill="#111"/>
<text x="95.4" y="825.5" font-size="12.5" text-anchor="middle">AML</text>
<line x1="171.8" y1="684.5" x2="171.8" y2="700.8" stroke="#111" stroke-width="1.5" stroke-dasharray="3.5,2.8"/>
<line x1="171.8" y1="711.3" x2="171.8" y2="724.0" stroke="#111" stroke-width="1.5" stroke-dasharray="3.5,2.8"/>
<line x1="155.8" y1="684.5" x2="187.8" y2="684.5" stroke="#111" stroke-width="1.6"/>
<line x1="155.8" y1="724.0" x2="187.8" y2="724.0" stroke="#111" stroke-width="1.6"/>
<rect x="141.0" y="700.8" width="61.5" height="10.5" fill="#e0961f"/>
<line x1="141.0" y1="704.6" x2="202.5" y2="704.6" stroke="#111" stroke-width="1.8"/>
<circle cx="171.8" cy="754.0" r="1.85" fill="#111"/>
<circle cx="171.8" cy="757.0" r="1.85" fill="#111"/>
<circle cx="171.8" cy="761.0" r="1.85" fill="#111"/>
<text x="171.8" y="825.5" font-size="12.5" text-anchor="middle">Normal</text>
<text x="216.0" y="801.5" font-size="11.5" text-anchor="end">p=2e-5</text>
<g stroke="#111" stroke-width="1.6" fill="none">
<path d="M279.5 662.0V809.7H445.0"/>
<line x1="275.2" y1="670.8" x2="279.5" y2="670.8"/>
<line x1="275.2" y1="693.2" x2="279.5" y2="693.2"/>
<line x1="275.2" y1="715.8" x2="279.5" y2="715.8"/>
<line x1="275.2" y1="738.2" x2="279.5" y2="738.2"/>
<line x1="275.2" y1="760.8" x2="279.5" y2="760.8"/>
<line x1="275.2" y1="783.2" x2="279.5" y2="783.2"/>
<line x1="275.2" y1="805.8" x2="279.5" y2="805.8"/>
</g>
<text x="270.2" y="675.1" font-size="12.5" text-anchor="end">2</text>
<text x="270.2" y="720.1" font-size="12.5" text-anchor="end">0</text>
<text x="270.2" y="765.1" font-size="12.5" text-anchor="end">-2</text>
<text x="270.2" y="810.1" font-size="12.5" text-anchor="end">-4</text>
<text x="362.1" y="654.3" font-size="14" text-anchor="middle">NME1-NME2</text>
<text transform="translate(251.3,735) rotate(-90)" font-size="13" text-anchor="middle">Z-score</text>
<line x1="324.5" y1="666.8" x2="324.5" y2="699.0" stroke="#111" stroke-width="1.5" stroke-dasharray="3.5,2.8"/>
<line x1="324.5" y1="729.5" x2="324.5" y2="775.8" stroke="#111" stroke-width="1.5" stroke-dasharray="3.5,2.8"/>
<line x1="308.5" y1="666.8" x2="340.5" y2="666.8" stroke="#111" stroke-width="1.6"/>
<line x1="308.5" y1="775.8" x2="340.5" y2="775.8" stroke="#111" stroke-width="1.6"/>
<rect x="294.0" y="699.0" width="61.0" height="30.5" fill="#4a5367"/>
<line x1="294.0" y1="712.0" x2="355.0" y2="712.0" stroke="#111" stroke-width="1.8"/>
<circle cx="324.5" cy="778.5" r="1.85" fill="#111"/>
<circle cx="324.5" cy="781.2" r="1.85" fill="#111"/>
<circle cx="324.5" cy="784.0" r="1.85" fill="#111"/>
<circle cx="324.5" cy="787.0" r="1.85" fill="#111"/>
<circle cx="324.5" cy="789.7" r="1.85" fill="#111"/>
<circle cx="324.5" cy="804.5" r="1.85" fill="#111"/>
<text x="324.5" y="825.5" font-size="12.5" text-anchor="middle">AML</text>
<line x1="401.1" y1="687.5" x2="401.1" y2="712.0" stroke="#111" stroke-width="1.5" stroke-dasharray="3.5,2.8"/>
<line x1="401.1" y1="729.5" x2="401.1" y2="752.0" stroke="#111" stroke-width="1.5" stroke-dasharray="3.5,2.8"/>
<line x1="385.1" y1="687.5" x2="417.1" y2="687.5" stroke="#111" stroke-width="1.6"/>
<line x1="385.1" y1="752.0" x2="417.1" y2="752.0" stroke="#111" stroke-width="1.6"/>
<rect x="370.5" y="712.0" width="61.3" height="17.5" fill="#e0961f"/>
<line x1="370.5" y1="718.3" x2="431.8" y2="718.3" stroke="#111" stroke-width="1.8"/>
<circle cx="401.1" cy="757.5" r="1.85" fill="#111"/>
<circle cx="401.1" cy="760.0" r="1.85" fill="#111"/>
<circle cx="401.1" cy="762.5" r="1.85" fill="#111"/>
<circle cx="401.1" cy="765.5" r="1.85" fill="#111"/>
<circle cx="401.1" cy="782.5" r="1.85" fill="#111"/>
<text x="399.5" y="825.5" font-size="12.5" text-anchor="middle">Normal</text>
<text x="445.0" y="801.5" font-size="11.5" text-anchor="end">p=3e-3</text>
<text x="147.4" y="875.8" font-size="12.4" text-anchor="middle">AML (n=12)</text>
<text x="332.6" y="876" font-size="12.4" text-anchor="middle">PBSC (n=5)</text>
<line x1="23" y1="884" x2="272.5" y2="884" stroke="#111" stroke-width="1.8"/>
<line x1="276.4" y1="884" x2="389.5" y2="884" stroke="#111" stroke-width="1.8"/>
<defs><filter id="bl" x="-20%" y="-50%" width="140%" height="200%"><feGaussianBlur stdDeviation="0.9"/></filter><filter id="bl2" x="-20%" y="-50%" width="140%" height="200%"><feGaussianBlur stdDeviation="0.8"/></filter></defs>
<rect x="22.6" y="889.9" width="368.6" height="32.3" fill="#727272" stroke="#111" stroke-width="1.7"/>
<text x="396" y="910.0" font-size="12.6" >POLG</text>
<rect x="22.6" y="929.1" width="368.6" height="31.5" fill="#727272" stroke="#111" stroke-width="1.7"/>
<text x="396" y="948.4" font-size="12.6" >CMPK1</text>
<rect x="22.6" y="967.1" width="368.6" height="34.6" fill="#727272" stroke="#111" stroke-width="1.7"/>
<text x="396" y="989.1" font-size="12.6" >NME2</text>
<rect x="22.6" y="1009.1" width="368.6" height="29.9" fill="#727272" stroke="#111" stroke-width="1.7"/>
<text x="396" y="1027.5" font-size="12.6" >GAPDH</text>
<g filter="url(#bl)"><path d="M25.5 907.0C29.8 903.8 45.2 903.8 49.5 907.0C45.2 910.2 29.8 910.2 25.5 907.0Z" fill="#141414" fill-opacity="0.95" transform="rotate(0.0 37.5 907.0)"/><path d="M50.5 907.0C54.3 905.1 67.7 905.1 71.5 907.0C67.7 908.9 54.3 908.9 50.5 907.0Z" fill="#141414" fill-opacity="0.30" transform="rotate(0.0 61.0 907.0)"/><path d="M78.5 906.0C80.8 904.6 89.2 904.6 91.5 906.0C89.2 907.4 80.8 907.4 78.5 906.0Z" fill="#141414" fill-opacity="0.15" transform="rotate(0.0 85.0 906.0)"/><path d="M91.5 905.0C95.1 902.0 107.9 902.0 111.5 905.0C107.9 908.0 95.1 908.0 91.5 905.0Z" fill="#141414" fill-opacity="0.90" transform="rotate(0.0 101.5 905.0)"/><path d="M224.5 907.0C227.2 899.8 236.8 899.8 239.5 907.0C236.8 914.2 227.2 914.2 224.5 907.0Z" fill="#141414" fill-opacity="0.95" transform="rotate(0.0 232.0 907.0)"/><path d="M230.5 905.5C233.9 901.9 246.1 901.9 249.5 905.5C246.1 909.1 233.9 909.1 230.5 905.5Z" fill="#141414" fill-opacity="0.90" transform="rotate(0.0 240.0 905.5)"/><path d="M250.5 906.0C253.6 904.2 264.4 904.2 267.5 906.0C264.4 907.8 253.6 907.8 250.5 906.0Z" fill="#141414" fill-opacity="0.35" transform="rotate(0.0 259.0 906.0)"/><path d="M29.5 950.0C33.6 946.7 48.4 946.7 52.5 950.0C48.4 953.3 33.6 953.3 29.5 950.0Z" fill="#141414" fill-opacity="0.90" transform="rotate(-14.0 41.0 950.0)"/><path d="M52.5 946.0C56.8 942.3 72.2 942.3 76.5 946.0C72.2 949.7 56.8 949.7 52.5 946.0Z" fill="#141414" fill-opacity="0.95" transform="rotate(0.0 64.5 946.0)"/><path d="M73.5 946.0C77.6 942.3 92.4 942.3 96.5 946.0C92.4 949.7 77.6 949.7 73.5 946.0Z" fill="#141414" fill-opacity="0.95" transform="rotate(0.0 85.0 946.0)"/><path d="M93.5 946.0C97.8 942.1 113.2 942.1 117.5 946.0C113.2 949.9 97.8 949.9 93.5 946.0Z" fill="#141414" fill-opacity="0.95" transform="rotate(0.0 105.5 946.0)"/><path d="M133.5 944.0C137.3 938.6 150.7 938.6 154.5 944.0C150.7 949.4 137.3 949.4 133.5 944.0Z" fill="#141414" fill-opacity="1.00" transform="rotate(0.0 144.0 944.0)"/><path d="M161.5 946.0C163.3 944.6 169.7 944.6 171.5 946.0C169.7 947.4 163.3 947.4 161.5 946.0Z" fill="#141414" fill-opacity="0.25" transform="rotate(0.0 166.5 946.0)"/><path d="M173.5 946.0C177.1 943.8 189.9 943.8 193.5 946.0C189.9 948.2 177.1 948.2 173.5 946.0Z" fill="#141414" fill-opacity="0.55" transform="rotate(0.0 183.5 946.0)"/><path d="M212.5 946.0C216.6 944.2 231.4 944.2 235.5 946.0C231.4 947.8 216.6 947.8 212.5 946.0Z" fill="#141414" fill-opacity="0.35" transform="rotate(0.0 224.0 946.0)"/><path d="M234.5 946.0C238.1 941.3 250.9 941.3 254.5 946.0C250.9 950.7 238.1 950.7 234.5 946.0Z" fill="#141414" fill-opacity="1.00" transform="rotate(0.0 244.5 946.0)"/><path d="M250.5 947.0C254.3 941.8 267.7 941.8 271.5 947.0C267.7 952.2 254.3 952.2 250.5 947.0Z" fill="#141414" fill-opacity="1.00" transform="rotate(0.0 261.0 947.0)"/><path d="M269.5 947.0C273.1 945.2 285.9 945.2 289.5 947.0C285.9 948.8 273.1 948.8 269.5 947.0Z" fill="#141414" fill-opacity="0.30" transform="rotate(0.0 279.5 947.0)"/><path d="M23.5 983.0C28.0 979.0 44.0 979.0 48.5 983.0C44.0 987.0 28.0 987.0 23.5 983.0Z" fill="#141414" fill-opacity="0.95" transform="rotate(-11.0 36.0 983.0)"/><path d="M48.5 980.0C52.6 976.4 67.4 976.4 71.5 980.0C67.4 983.6 52.6 983.6 48.5 980.0Z" fill="#141414" fill-opacity="0.90" transform="rotate(0.0 60.0 980.0)"/><path d="M71.5 979.5C75.3 976.9 88.7 976.9 92.5 979.5C88.7 982.1 75.3 982.1 71.5 979.5Z" fill="#141414" fill-opacity="0.50" transform="rotate(0.0 82.0 979.5)"/><path d="M90.5 979.0C94.5 975.4 108.5 975.4 112.5 979.0C108.5 982.6 94.5 982.6 90.5 979.0Z" fill="#141414" fill-opacity="0.85" transform="rotate(0.0 101.5 979.0)"/><path d="M111.5 979.0C115.6 974.0 130.4 974.0 134.5 979.0C130.4 984.0 115.6 984.0 111.5 979.0Z" fill="#141414" fill-opacity="1.00" transform="rotate(0.0 123.0 979.0)"/><path d="M132.5 978.0C136.3 973.2 149.7 973.2 153.5 978.0C149.7 982.8 136.3 982.8 132.5 978.0Z" fill="#141414" fill-opacity="1.00" transform="rotate(0.0 143.0 978.0)"/><path d="M153.5 978.2C157.1 975.2 169.9 975.2 173.5 978.2C169.9 981.2 157.1 981.2 153.5 978.2Z" fill="#141414" fill-opacity="0.60" transform="rotate(0.0 163.5 978.2)"/><path d="M172.5 977.5C176.1 974.5 188.9 974.5 192.5 977.5C188.9 980.5 176.1 980.5 172.5 977.5Z" fill="#141414" fill-opacity="0.60" transform="rotate(0.0 182.5 977.5)"/><path d="M192.5 977.0C196.3 974.0 209.7 974.0 213.5 977.0C209.7 980.0 196.3 980.0 192.5 977.0Z" fill="#141414" fill-opacity="0.65" transform="rotate(0.0 203.0 977.0)"/><path d="M212.5 976.5C216.5 972.6 230.5 972.6 234.5 976.5C230.5 980.4 216.5 980.4 212.5 976.5Z" fill="#141414" fill-opacity="0.90" transform="rotate(0.0 223.5 976.5)"/><path d="M232.5 975.8C236.3 970.8 249.7 970.8 253.5 975.8C249.7 980.8 236.3 980.8 232.5 975.8Z" fill="#141414" fill-opacity="1.00" transform="rotate(0.0 243.0 975.8)"/><path d="M250.5 975.8C254.5 971.0 268.5 971.0 272.5 975.8C268.5 980.6 254.5 980.6 250.5 975.8Z" fill="#141414" fill-opacity="1.00" transform="rotate(0.0 261.5 975.8)"/><path d="M272.5 975.5C275.9 972.3 288.1 972.3 291.5 975.5C288.1 978.7 275.9 978.7 272.5 975.5Z" fill="#141414" fill-opacity="0.75" transform="rotate(0.0 282.0 975.5)"/><path d="M290.5 973.8C294.1 970.6 306.9 970.6 310.5 973.8C306.9 977.0 294.1 977.0 290.5 973.8Z" fill="#141414" fill-opacity="0.80" transform="rotate(0.0 300.5 973.8)"/><path d="M309.5 974.5C313.5 972.1 327.5 972.1 331.5 974.5C327.5 976.9 313.5 976.9 309.5 974.5Z" fill="#141414" fill-opacity="0.40" transform="rotate(0.0 320.5 974.5)"/><path d="M332.5 972.6C336.5 969.3 350.5 969.3 354.5 972.6C350.5 975.9 336.5 975.9 332.5 972.6Z" fill="#141414" fill-opacity="0.85" transform="rotate(0.0 343.5 972.6)"/><path d="M354.5 972.8C358.8 969.2 374.2 969.2 378.5 972.8C374.2 976.4 358.8 976.4 354.5 972.8Z" fill="#141414" fill-opacity="0.90" transform="rotate(-5.0 366.5 972.8)"/><path d="M23.5 994.5C28.0 990.9 44.0 990.9 48.5 994.5C44.0 998.1 28.0 998.1 23.5 994.5Z" fill="#141414" fill-opacity="0.95" transform="rotate(-14.0 36.0 994.5)"/><path d="M48.5 990.0C52.6 987.3 67.4 987.3 71.5 990.0C67.4 992.7 52.6 992.7 48.5 990.0Z" fill="#141414" fill-opacity="0.60" transform="rotate(0.0 60.0 990.0)"/><path d="M71.5 987.5C75.3 985.3 88.7 985.3 92.5 987.5C88.7 989.7 75.3 989.7 71.5 987.5Z" fill="#141414" fill-opacity="0.35" transform="rotate(0.0 82.0 987.5)"/><path d="M90.5 987.7C94.5 985.1 108.5 985.1 112.5 987.7C108.5 990.3 94.5 990.3 90.5 987.7Z" fill="#141414" fill-opacity="0.55" transform="rotate(0.0 101.5 987.7)"/><path d="M111.5 987.7C115.6 983.8 130.4 983.8 134.5 987.7C130.4 991.6 115.6 991.6 111.5 987.7Z" fill="#141414" fill-opacity="0.95" transform="rotate(0.0 123.0 987.7)"/><path d="M132.5 987.2C136.3 983.3 149.7 983.3 153.5 987.2C149.7 991.1 136.3 991.1 132.5 987.2Z" fill="#141414" fill-opacity="0.95" transform="rotate(0.0 143.0 987.2)"/><path d="M153.5 987.7C157.1 985.3 169.9 985.3 173.5 987.7C169.9 990.1 157.1 990.1 153.5 987.7Z" fill="#141414" fill-opacity="0.50" transform="rotate(0.0 163.5 987.7)"/><path d="M172.5 987.7C176.1 985.3 188.9 985.3 192.5 987.7C188.9 990.1 176.1 990.1 172.5 987.7Z" fill="#141414" fill-opacity="0.50" transform="rotate(0.0 182.5 987.7)"/><path d="M192.5 987.5C196.3 984.9 209.7 984.9 213.5 987.5C209.7 990.1 196.3 990.1 192.5 987.5Z" fill="#141414" fill-opacity="0.55" transform="rotate(0.0 203.0 987.5)"/><path d="M212.5 987.0C216.5 984.0 230.5 984.0 234.5 987.0C230.5 990.0 216.5 990.0 212.5 987.0Z" fill="#141414" fill-opacity="0.75" transform="rotate(0.0 223.5 987.0)"/><path d="M232.5 986.3C236.3 982.8 249.7 982.8 253.5 986.3C249.7 989.8 236.3 989.8 232.5 986.3Z" fill="#141414" fill-opacity="0.85" transform="rotate(0.0 243.0 986.3)"/><path d="M250.5 986.3C254.5 982.8 268.5 982.8 272.5 986.3C268.5 989.8 254.5 989.8 250.5 986.3Z" fill="#141414" fill-opacity="0.85" transform="rotate(0.0 261.5 986.3)"/><path d="M272.5 985.0C275.9 982.4 288.1 982.4 291.5 985.0C288.1 987.6 275.9 987.6 272.5 985.0Z" fill="#141414" fill-opacity="0.60" transform="rotate(0.0 282.0 985.0)"/><path d="M290.5 984.6C294.1 981.9 306.9 981.9 310.5 984.6C306.9 987.3 294.1 987.3 290.5 984.6Z" fill="#141414" fill-opacity="0.65" transform="rotate(0.0 300.5 984.6)"/><path d="M309.5 984.6C313.5 982.4 327.5 982.4 331.5 984.6C327.5 986.8 313.5 986.8 309.5 984.6Z" fill="#141414" fill-opacity="0.30" transform="rotate(0.0 320.5 984.6)"/><path d="M332.5 985.0C336.5 981.1 350.5 981.1 354.5 985.0C350.5 988.9 336.5 988.9 332.5 985.0Z" fill="#141414" fill-opacity="0.95" transform="rotate(0.0 343.5 985.0)"/><path d="M354.5 986.8C358.8 983.6 374.2 983.6 378.5 986.8C374.2 990.0 358.8 990.0 354.5 986.8Z" fill="#141414" fill-opacity="0.80" transform="rotate(-2.0 366.5 986.8)"/><path d="M29.5 1021.0C33.8 1017.1 49.2 1017.1 53.5 1021.0C49.2 1024.9 33.8 1024.9 29.5 1021.0Z" fill="#141414" fill-opacity="0.95" transform="rotate(-9.0 41.5 1021.0)"/><path d="M52.5 1018.5C56.8 1014.6 72.2 1014.6 76.5 1018.5C72.2 1022.4 56.8 1022.4 52.5 1018.5Z" fill="#141414" fill-opacity="0.95" transform="rotate(0.0 64.5 1018.5)"/><path d="M74.5 1017.5C78.6 1013.6 93.4 1013.6 97.5 1017.5C93.4 1021.4 78.6 1021.4 74.5 1017.5Z" fill="#141414" fill-opacity="0.95" transform="rotate(0.0 86.0 1017.5)"/><path d="M95.5 1017.5C99.5 1013.6 113.5 1013.6 117.5 1017.5C113.5 1021.4 99.5 1021.4 95.5 1017.5Z" fill="#141414" fill-opacity="0.95" transform="rotate(0.0 106.5 1017.5)"/><path d="M115.5 1017.5C119.6 1013.6 134.4 1013.6 138.5 1017.5C134.4 1021.4 119.6 1021.4 115.5 1017.5Z" fill="#141414" fill-opacity="0.95" transform="rotate(0.0 127.0 1017.5)"/><path d="M135.5 1017.5C139.5 1013.6 153.5 1013.6 157.5 1017.5C153.5 1021.4 139.5 1021.4 135.5 1017.5Z" fill="#141414" fill-opacity="0.95" transform="rotate(0.0 146.5 1017.5)"/><path d="M155.5 1018.0C159.5 1014.1 173.5 1014.1 177.5 1018.0C173.5 1021.9 159.5 1021.9 155.5 1018.0Z" fill="#141414" fill-opacity="0.95" transform="rotate(0.0 166.5 1018.0)"/><path d="M174.5 1018.0C178.5 1014.1 192.5 1014.1 196.5 1018.0C192.5 1021.9 178.5 1021.9 174.5 1018.0Z" fill="#141414" fill-opacity="0.95" transform="rotate(0.0 185.5 1018.0)"/><path d="M194.5 1017.5C198.3 1013.6 211.7 1013.6 215.5 1017.5C211.7 1021.4 198.3 1021.4 194.5 1017.5Z" fill="#141414" fill-opacity="0.95" transform="rotate(0.0 205.0 1017.5)"/><path d="M213.5 1016.5C217.6 1012.6 232.4 1012.6 236.5 1016.5C232.4 1020.4 217.6 1020.4 213.5 1016.5Z" fill="#141414" fill-opacity="0.95" transform="rotate(0.0 225.0 1016.5)"/><path d="M234.5 1017.5C238.5 1013.6 252.5 1013.6 256.5 1017.5C252.5 1021.4 238.5 1021.4 234.5 1017.5Z" fill="#141414" fill-opacity="0.95" transform="rotate(0.0 245.5 1017.5)"/><path d="M253.5 1019.5C257.3 1015.6 270.7 1015.6 274.5 1019.5C270.7 1023.4 257.3 1023.4 253.5 1019.5Z" fill="#141414" fill-opacity="0.95" transform="rotate(0.0 264.0 1019.5)"/><path d="M272.5 1020.5C276.5 1016.6 290.5 1016.6 294.5 1020.5C290.5 1024.4 276.5 1024.4 272.5 1020.5Z" fill="#141414" fill-opacity="0.95" transform="rotate(0.0 283.5 1020.5)"/><path d="M292.5 1023.0C296.5 1019.1 310.5 1019.1 314.5 1023.0C310.5 1026.9 296.5 1026.9 292.5 1023.0Z" fill="#141414" fill-opacity="0.95" transform="rotate(0.0 303.5 1023.0)"/><path d="M312.5 1026.0C316.6 1022.1 331.4 1022.1 335.5 1026.0C331.4 1029.9 316.6 1029.9 312.5 1026.0Z" fill="#141414" fill-opacity="0.95" transform="rotate(0.0 324.0 1026.0)"/><path d="M333.5 1026.0C337.6 1022.1 352.4 1022.1 356.5 1026.0C352.4 1029.9 337.6 1029.9 333.5 1026.0Z" fill="#141414" fill-opacity="0.95" transform="rotate(0.0 345.0 1026.0)"/><path d="M354.5 1025.0C359.5 1021.1 377.5 1021.1 382.5 1025.0C377.5 1028.9 359.5 1028.9 354.5 1025.0Z" fill="#141414" fill-opacity="0.95" transform="rotate(-4.0 368.5 1025.0)"/></g>
</g><rect x="1" y="1" width="518" height="1048" fill="none" stroke="#000" stroke-width="2.2"/>
</svg>
</body></html>
